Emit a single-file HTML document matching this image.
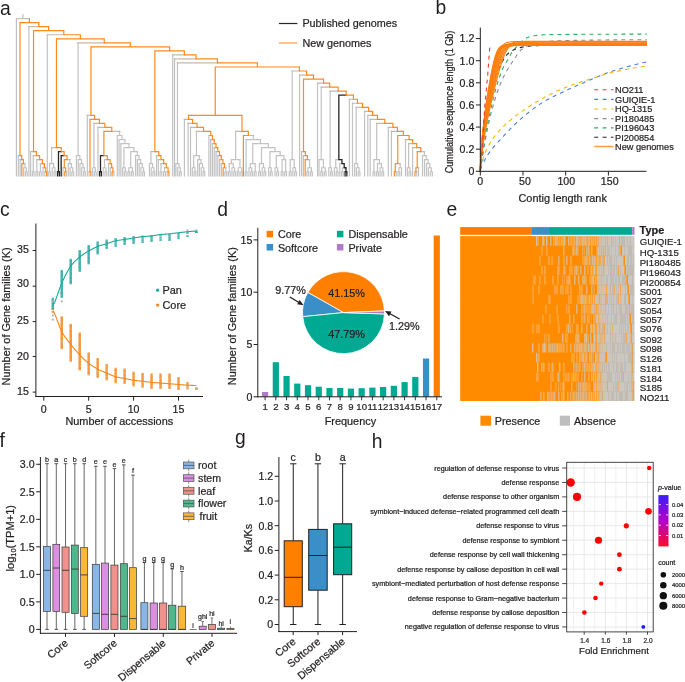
<!DOCTYPE html>
<html><head><meta charset="utf-8"><style>
html,body{margin:0;padding:0;background:#fff;}
svg{display:block;font-family:"Liberation Sans", sans-serif;will-change:transform;}
text{stroke:#231f20;stroke-width:0.22px;}
</style></head><body>
<svg width="685" height="682" viewBox="0 0 685 682">
<rect width="685" height="682" fill="#fff"/>
<path d="M16.4,18.63L22.9,18.63M22.9,18.63L29.4,18.63M16.4,18.63L16.4,175.8M18.3,155.65L18.3,175.8M20.08,159.68L20.08,175.8M24.98,163.71L24.98,167.74M23.64,167.74L24.98,167.74M24.98,167.74L26.31,167.74M23.64,167.74L23.64,175.8M26.31,167.74L26.31,171.77M25.42,171.77L26.31,171.77M26.31,171.77L27.2,171.77M25.42,171.77L25.42,175.8M27.2,171.77L27.2,175.8M28.9,26.69L28.9,175.8M30.6,151.62L30.6,175.8M33.27,155.65L33.27,171.77M32.38,171.77L33.27,171.77M33.27,171.77L34.16,171.77M32.38,171.77L32.38,175.8M34.16,171.77L34.16,175.8M36.83,159.68L36.83,171.77M35.94,171.77L36.83,171.77M36.83,171.77L37.72,171.77M35.94,171.77L35.94,175.8M37.72,171.77L37.72,175.8M40.39,163.71L40.39,171.77M39.5,171.77L40.39,171.77M40.39,171.77L41.28,171.77M39.5,171.77L39.5,175.8M41.28,171.77L41.28,175.8M43.06,167.74L43.06,175.8M44.84,171.77L44.84,175.8M47.3,34.75L47.3,175.8M51.59,147.59L51.59,163.71M49.59,163.71L51.59,163.71M51.59,163.71L53.6,163.71M49.59,163.71L49.59,171.77M48.7,171.77L49.59,171.77M49.59,171.77L50.48,171.77M48.7,171.77L48.7,175.8M50.48,171.77L50.48,175.8M53.6,163.71L53.6,167.74M52.26,167.74L53.6,167.74M53.6,167.74L54.93,167.74M52.26,167.74L52.26,175.8M54.93,167.74L54.93,171.77M54.04,171.77L54.93,171.77M54.93,171.77L55.82,171.77M54.04,171.77L54.04,175.8M55.82,171.77L55.82,175.8M62.94,167.74L62.94,175.8M66.5,171.77L66.5,175.8M69.84,159.68L69.84,163.71M68.28,163.71L69.84,163.71M69.84,163.71L71.4,163.71M68.28,163.71L68.28,175.8M71.4,163.71L71.4,167.74M70.06,167.74L71.4,167.74M71.4,167.74L72.73,167.74M70.06,167.74L70.06,175.8M72.73,167.74L72.73,171.77M71.84,171.77L72.73,171.77M72.73,171.77L73.62,171.77M71.84,171.77L71.84,175.8M73.62,171.77L73.62,175.8M78.12,42.81L78.12,155.65M76.4,155.65L78.12,155.65M78.12,155.65L79.85,155.65M76.4,155.65L76.4,175.8M79.85,155.65L79.85,159.68M78.18,159.68L79.85,159.68M79.85,159.68L81.52,159.68M78.18,159.68L78.18,175.8M81.52,159.68L81.52,163.71M79.96,163.71L81.52,163.71M81.52,163.71L83.08,163.71M79.96,163.71L79.96,175.8M83.08,163.71L83.08,167.74M81.74,167.74L83.08,167.74M83.08,167.74L84.41,167.74M81.74,167.74L81.74,175.8M84.41,167.74L84.41,171.77M83.52,171.77L84.41,171.77M84.41,171.77L85.3,171.77M83.52,171.77L83.52,175.8M85.3,171.77L85.3,175.8M87.3,115.35L87.3,175.8M89.08,171.77L89.08,175.8M93.97,123.41L93.97,167.74M92.64,167.74L93.97,167.74M93.97,167.74L95.31,167.74M92.64,167.74L92.64,175.8M95.31,167.74L95.31,171.77M94.42,171.77L95.31,171.77M95.31,171.77L96.2,171.77M94.42,171.77L94.42,175.8M96.2,171.77L96.2,175.8M97.98,127.44L97.98,175.8M104.5,159.68L104.5,167.74M103.16,167.74L104.5,167.74M104.5,167.74L105.83,167.74M103.16,167.74L103.16,175.8M105.83,167.74L105.83,171.77M104.94,171.77L105.83,171.77M105.83,171.77L106.72,171.77M104.94,171.77L104.94,175.8M106.72,171.77L106.72,175.8M108.5,163.71L108.5,175.8M110.28,167.74L110.28,175.8M113.84,171.77L113.84,175.8M119.65,131.47L119.65,135.5M117.3,135.5L119.65,135.5M119.65,135.5L122,135.5M117.3,135.5L117.3,175.8M122,135.5L122,139.53M119.08,139.53L122,139.53M122,139.53L124.92,139.53M119.08,139.53L119.08,175.8M124.92,139.53L124.92,143.56M120.86,143.56L124.92,143.56M124.92,143.56L128.98,143.56M120.86,143.56L120.86,175.8M128.98,143.56L128.98,147.59M123.97,147.59L128.98,147.59M128.98,147.59L133.99,147.59M123.97,147.59L123.97,167.74M122.64,167.74L123.97,167.74M123.97,167.74L125.31,167.74M122.64,167.74L122.64,175.8M125.31,167.74L125.31,171.77M124.42,171.77L125.31,171.77M125.31,171.77L126.2,171.77M124.42,171.77L124.42,175.8M126.2,171.77L126.2,175.8M133.99,147.59L133.99,151.62M130.65,151.62L133.99,151.62M133.99,151.62L137.32,151.62M130.65,151.62L130.65,167.74M128.87,167.74L130.65,167.74M130.65,167.74L132.43,167.74M128.87,167.74L128.87,171.77M127.98,171.77L128.87,171.77M128.87,171.77L129.76,171.77M127.98,171.77L127.98,175.8M129.76,171.77L129.76,175.8M132.43,167.74L132.43,171.77M131.54,171.77L132.43,171.77M132.43,171.77L133.32,171.77M131.54,171.77L131.54,175.8M133.32,171.77L133.32,175.8M137.32,151.62L137.32,155.65M135.6,155.65L137.32,155.65M137.32,155.65L139.05,155.65M135.6,155.65L135.6,175.8M139.05,155.65L139.05,159.68M137.38,159.68L139.05,159.68M139.05,159.68L140.72,159.68M137.38,159.68L137.38,175.8M140.72,159.68L140.72,163.71M139.16,163.71L140.72,163.71M140.72,163.71L142.28,163.71M139.16,163.71L139.16,175.8M142.28,163.71L142.28,167.74M140.94,167.74L142.28,167.74M142.28,167.74L143.61,167.74M140.94,167.74L140.94,175.8M143.61,167.74L143.61,171.77M142.72,171.77L143.61,171.77M143.61,171.77L144.5,171.77M142.72,171.77L142.72,175.8M144.5,171.77L144.5,175.8M150.96,151.62L150.96,163.71M149.4,163.71L150.96,163.71M150.96,163.71L152.52,163.71M149.4,163.71L149.4,175.8M152.52,163.71L152.52,167.74M151.18,167.74L152.52,167.74M152.52,167.74L153.85,167.74M151.18,167.74L151.18,175.8M153.85,167.74L153.85,171.77M152.96,171.77L153.85,171.77M153.85,171.77L154.74,171.77M152.96,171.77L152.96,175.8M154.74,171.77L154.74,175.8M156.52,155.65L156.52,175.8M158.3,159.68L158.3,175.8M160.97,163.71L160.97,171.77M160.08,171.77L160.97,171.77M160.97,171.77L161.86,171.77M160.08,171.77L160.08,175.8M161.86,171.77L161.86,175.8M164.53,167.74L164.53,171.77M163.64,171.77L164.53,171.77M164.53,171.77L165.42,171.77M163.64,171.77L163.64,175.8M165.42,171.77L165.42,175.8M167.2,171.77L167.2,175.8M172.7,54.9L172.7,175.8M174.5,58.93L174.5,175.8M177.46,62.96L177.46,163.71M175.9,163.71L177.46,163.71M177.46,163.71L179.02,163.71M175.9,163.71L175.9,175.8M179.02,163.71L179.02,167.74M177.68,167.74L179.02,167.74M179.02,167.74L180.35,167.74M177.68,167.74L177.68,175.8M180.35,167.74L180.35,171.77M179.46,171.77L180.35,171.77M180.35,171.77L181.24,171.77M179.46,171.77L179.46,175.8M181.24,171.77L181.24,175.8M184.4,119.38L184.4,175.8M188.1,123.41L188.1,175.8M190.5,127.44L190.5,175.8M196.47,131.47L196.47,155.65M193.64,155.65L196.47,155.65M196.47,155.65L199.31,155.65M193.64,155.65L193.64,167.74M192.3,167.74L193.64,167.74M193.64,167.74L194.97,167.74M192.3,167.74L192.3,175.8M194.97,167.74L194.97,171.77M194.08,171.77L194.97,171.77M194.97,171.77L195.86,171.77M194.08,171.77L194.08,175.8M195.86,171.77L195.86,175.8M199.31,155.65L199.31,159.68M197.64,159.68L199.31,159.68M199.31,159.68L200.98,159.68M197.64,159.68L197.64,175.8M200.98,159.68L200.98,163.71M199.42,163.71L200.98,163.71M200.98,163.71L202.54,163.71M199.42,163.71L199.42,175.8M202.54,163.71L202.54,167.74M201.2,167.74L202.54,167.74M202.54,167.74L203.87,167.74M201.2,167.74L201.2,175.8M203.87,167.74L203.87,171.77M202.98,171.77L203.87,171.77M203.87,171.77L204.76,171.77M202.98,171.77L202.98,175.8M204.76,171.77L204.76,175.8M208.9,135.5L208.9,175.8M210.68,139.53L210.68,175.8M212.46,143.56L212.46,175.8M214.24,147.59L214.24,175.8M216.02,151.62L216.02,175.8M217.8,155.65L217.8,175.8M219.58,159.68L219.58,175.8M221.36,163.71L221.36,175.8M225.81,167.74L225.81,171.77M224.92,171.77L225.81,171.77M225.81,171.77L226.7,171.77M224.92,171.77L224.92,175.8M226.7,171.77L226.7,175.8M235.63,131.47L235.63,159.68M231.29,159.68L235.63,159.68M235.63,159.68L239.97,159.68M231.29,159.68L231.29,163.71M229.29,163.71L231.29,163.71M231.29,163.71L233.3,163.71M229.29,163.71L229.29,171.77M228.4,171.77L229.29,171.77M229.29,171.77L230.18,171.77M228.4,171.77L228.4,175.8M230.18,171.77L230.18,175.8M233.3,163.71L233.3,167.74M231.96,167.74L233.3,167.74M233.3,167.74L234.63,167.74M231.96,167.74L231.96,175.8M234.63,167.74L234.63,171.77M233.74,171.77L234.63,171.77M234.63,171.77L235.52,171.77M233.74,171.77L233.74,175.8M235.52,171.77L235.52,175.8M239.97,159.68L239.97,167.74M238.19,167.74L239.97,167.74M239.97,167.74L241.75,167.74M238.19,167.74L238.19,171.77M237.3,171.77L238.19,171.77M238.19,171.77L239.08,171.77M237.3,171.77L237.3,175.8M239.08,171.77L239.08,175.8M241.75,167.74L241.75,171.77M240.86,171.77L241.75,171.77M241.75,171.77L242.64,171.77M240.86,171.77L240.86,175.8M242.64,171.77L242.64,175.8M253.3,135.5L253.3,139.53M246.09,139.53L253.3,139.53M253.3,139.53L260.52,139.53M246.09,139.53L246.09,171.77M245.2,171.77L246.09,171.77M246.09,171.77L246.98,171.77M245.2,171.77L245.2,175.8M246.98,171.77L246.98,175.8M260.52,139.53L260.52,143.56M252.78,143.56L260.52,143.56M260.52,143.56L268.26,143.56M252.78,143.56L252.78,163.71M250.34,163.71L252.78,163.71M252.78,163.71L255.23,163.71M250.34,163.71L250.34,167.74M249,167.74L250.34,167.74M250.34,167.74L251.67,167.74M249,167.74L249,175.8M251.67,167.74L251.67,171.77M250.78,171.77L251.67,171.77M251.67,171.77L252.56,171.77M250.78,171.77L250.78,175.8M252.56,171.77L252.56,175.8M255.23,163.71L255.23,171.77M254.34,171.77L255.23,171.77M255.23,171.77L256.12,171.77M254.34,171.77L254.34,175.8M256.12,171.77L256.12,175.8M268.26,143.56L268.26,147.59M261.49,147.59L268.26,147.59M268.26,147.59L275.02,147.59M261.49,147.59L261.49,163.71M259.49,163.71L261.49,163.71M261.49,163.71L263.49,163.71M259.49,163.71L259.49,171.77M258.6,171.77L259.49,171.77M259.49,171.77L260.38,171.77M258.6,171.77L258.6,175.8M260.38,171.77L260.38,175.8M263.49,163.71L263.49,167.74M262.16,167.74L263.49,167.74M263.49,167.74L264.83,167.74M262.16,167.74L262.16,175.8M264.83,167.74L264.83,171.77M263.94,171.77L264.83,171.77M264.83,171.77L265.72,171.77M263.94,171.77L263.94,175.8M265.72,171.77L265.72,175.8M275.02,147.59L275.02,151.62M269.94,151.62L275.02,151.62M275.02,151.62L280.1,151.62M269.94,151.62L269.94,167.74M268.6,167.74L269.94,167.74M269.94,167.74L271.27,167.74M268.6,167.74L268.6,175.8M271.27,167.74L271.27,171.77M270.38,171.77L271.27,171.77M271.27,171.77L272.16,171.77M270.38,171.77L270.38,175.8M272.16,171.77L272.16,175.8M280.1,151.62L280.1,155.65M276.33,155.65L280.1,155.65M280.1,155.65L283.87,155.65M276.33,155.65L276.33,167.74M275,167.74L276.33,167.74M276.33,167.74L277.67,167.74M275,167.74L275,175.8M277.67,167.74L277.67,171.77M276.78,171.77L277.67,171.77M277.67,171.77L278.56,171.77M276.78,171.77L276.78,175.8M278.56,171.77L278.56,175.8M283.87,155.65L283.87,159.68M282.09,159.68L283.87,159.68M283.87,159.68L285.65,159.68M282.09,159.68L282.09,171.77M281.2,171.77L282.09,171.77M282.09,171.77L282.98,171.77M281.2,171.77L281.2,175.8M282.98,171.77L282.98,175.8M285.65,159.68L285.65,171.77M284.76,171.77L285.65,171.77M285.65,171.77L286.54,171.77M284.76,171.77L284.76,175.8M286.54,171.77L286.54,175.8M292.19,71.02L292.19,159.68M290.19,159.68L292.19,159.68M292.19,159.68L294.19,159.68M290.19,159.68L290.19,171.77M289.3,171.77L290.19,171.77M290.19,171.77L291.08,171.77M289.3,171.77L289.3,175.8M291.08,171.77L291.08,175.8M294.19,159.68L294.19,167.74M292.86,167.74L294.19,167.74M294.19,167.74L295.53,167.74M292.86,167.74L292.86,175.8M295.53,167.74L295.53,171.77M294.64,171.77L295.53,171.77M295.53,171.77L296.42,171.77M294.64,171.77L294.64,175.8M296.42,171.77L296.42,175.8M299.6,75.05L299.6,175.8M301.6,151.62L301.6,175.8M303.38,155.65L303.38,175.8M309.61,159.68L309.61,167.74M307.83,167.74L309.61,167.74M309.61,167.74L311.39,167.74M307.83,167.74L307.83,171.77M306.94,171.77L307.83,171.77M307.83,171.77L308.72,171.77M306.94,171.77L306.94,175.8M308.72,171.77L308.72,175.8M311.39,167.74L311.39,171.77M310.5,171.77L311.39,171.77M311.39,171.77L312.28,171.77M310.5,171.77L310.5,175.8M312.28,171.77L312.28,175.8M317.5,83.11L317.5,175.8M321.22,87.14L321.22,159.68M319,159.68L321.22,159.68M321.22,159.68L323.45,159.68M319,159.68L319,175.8M323.45,159.68L323.45,167.74M321.67,167.74L323.45,167.74M323.45,167.74L325.23,167.74M321.67,167.74L321.67,171.77M320.78,171.77L321.67,171.77M321.67,171.77L322.56,171.77M320.78,171.77L320.78,175.8M322.56,171.77L322.56,175.8M325.23,167.74L325.23,171.77M324.34,171.77L325.23,171.77M325.23,171.77L326.12,171.77M324.34,171.77L324.34,175.8M326.12,171.77L326.12,175.8M330.13,91.17L330.13,167.74M328.8,167.74L330.13,167.74M330.13,167.74L331.47,167.74M328.8,167.74L328.8,175.8M331.47,167.74L331.47,171.77M330.58,171.77L331.47,171.77M331.47,171.77L332.36,171.77M330.58,171.77L330.58,175.8M332.36,171.77L332.36,175.8M335.73,159.68L338.85,159.68M335.73,159.68L335.73,167.74M334.4,167.74L335.73,167.74M335.73,167.74L337.07,167.74M334.4,167.74L334.4,175.8M337.07,167.74L337.07,171.77M336.18,171.77L337.07,171.77M337.07,171.77L337.96,171.77M336.18,171.77L336.18,175.8M337.96,171.77L337.96,175.8M339.74,163.71L341.96,163.71M339.74,163.71L339.74,175.8M342.41,167.74L344.19,167.74M342.41,167.74L342.41,171.77M341.52,171.77L342.41,171.77M342.41,171.77L343.3,171.77M341.52,171.77L341.52,175.8M343.3,171.77L343.3,175.8M349.4,99.23L349.4,175.8M352.5,103.26L352.5,175.8M356.16,107.29L356.16,163.71M354.6,163.71L356.16,163.71M356.16,163.71L357.71,163.71M354.6,163.71L354.6,175.8M357.71,163.71L357.71,167.74M356.38,167.74L357.71,167.74M357.71,167.74L359.05,167.74M356.38,167.74L356.38,175.8M359.05,167.74L359.05,171.77M358.16,171.77L359.05,171.77M359.05,171.77L359.94,171.77M358.16,171.77L358.16,175.8M359.94,171.77L359.94,175.8M364.6,111.32L364.6,175.8M367.8,115.35L367.8,175.8M370.2,119.38L370.2,175.8M376.67,123.41L376.67,159.68M373.89,159.68L376.67,159.68M376.67,159.68L379.45,159.68M373.89,159.68L373.89,171.77M373,171.77L373.89,171.77M373.89,171.77L374.78,171.77M373,171.77L373,175.8M374.78,171.77L374.78,175.8M379.45,159.68L379.45,163.71M377.45,163.71L379.45,163.71M379.45,163.71L381.45,163.71M377.45,163.71L377.45,171.77M376.56,171.77L377.45,171.77M377.45,171.77L378.34,171.77M376.56,171.77L376.56,175.8M378.34,171.77L378.34,175.8M381.45,163.71L381.45,167.74M380.12,167.74L381.45,167.74M381.45,167.74L382.79,167.74M380.12,167.74L380.12,175.8M382.79,167.74L382.79,171.77M381.9,171.77L382.79,171.77M382.79,171.77L383.68,171.77M381.9,171.77L381.9,175.8M383.68,171.77L383.68,175.8M388.3,127.44L388.3,175.8M391.4,131.47L391.4,175.8M396.18,171.77L396.18,175.8M400.18,163.71L400.18,167.74M398.85,167.74L400.18,167.74M400.18,167.74L401.52,167.74M398.85,167.74L398.85,171.77M397.96,171.77L398.85,171.77M398.85,171.77L399.74,171.77M397.96,171.77L397.96,175.8M399.74,171.77L399.74,175.8M401.52,167.74L401.52,175.8M405.5,139.53L405.5,175.8M408.63,143.56L408.63,167.74M407.3,167.74L408.63,167.74M408.63,167.74L409.97,167.74M407.3,167.74L407.3,175.8M409.97,167.74L409.97,171.77M409.08,171.77L409.97,171.77M409.97,171.77L410.86,171.77M409.08,171.77L409.08,175.8M410.86,171.77L410.86,175.8M412.6,147.59L412.6,175.8M416.78,171.77L416.78,175.8M418.56,167.74L418.56,175.8M424.41,151.62L424.41,155.65M422.5,155.65L424.41,155.65M424.41,155.65L426.32,155.65M422.5,155.65L422.5,175.8M426.32,155.65L426.32,159.68M424.5,159.68L426.32,159.68M426.32,159.68L428.15,159.68M424.5,159.68L424.5,175.8M428.15,159.68L428.15,163.71M426.5,163.71L428.15,163.71M428.15,163.71L429.8,163.71M426.5,163.71L426.5,175.8M429.8,163.71L429.8,167.74M428.3,167.74L429.8,167.74M429.8,167.74L431.3,167.74M428.3,167.74L428.3,175.8M431.3,167.74L431.3,171.77M430.3,171.77L431.3,171.77M431.3,171.77L432.3,171.77M430.3,171.77L430.3,175.8M432.3,171.77L432.3,175.8M22.9,18.63L22.9,14.6" stroke="#c2c2c2" stroke-width="1.2" fill="none" stroke-linecap="square"/>
<path d="M18.3,155.65L20.02,155.65M20.08,159.68L21.75,159.68M23.42,163.71L24.98,163.71M28.9,26.69L38.78,26.69M30.6,151.62L33.52,151.62M33.27,155.65L36.44,155.65M36.83,159.68L39.61,159.68M40.39,163.71L42.39,163.71M43.06,167.74L44.4,167.74M44.84,171.77L45.73,171.77M47.3,34.75L63.81,34.75M51.59,147.59L56.45,147.59M67.06,159.68L69.84,159.68M62.94,167.74L64.28,167.74M65.61,171.77L66.5,171.77M78.12,42.81L104.21,42.81M87.3,115.35L91,115.35M89.08,171.77L89.97,171.77M93.97,123.41L99.42,123.41M97.98,127.44L104.87,127.44M111.77,131.47L119.65,131.47M104.5,159.68L107.28,159.68M108.5,163.71L110.06,163.71M110.28,167.74L111.62,167.74M112.95,171.77L113.84,171.77M150.96,151.62L154.85,151.62M156.52,155.65L158.75,155.65M158.3,159.68L160.97,159.68M160.97,163.71L163.64,163.71M164.53,167.74L166.31,167.74M167.2,171.77L168.09,171.77M172.7,54.9L184.32,54.9M174.5,58.93L195.94,58.93M177.46,62.96L217.38,62.96M184.4,119.38L188.48,119.38M188.1,123.41L192.57,123.41M190.5,127.44L197.04,127.44M196.47,131.47L203.58,131.47M208.9,135.5L210.68,135.5M210.68,139.53L212.46,139.53M212.46,143.56L214.23,143.56M214.24,147.59L216.01,147.59M216.02,151.62L217.77,151.62M217.8,155.65L219.52,155.65M219.58,159.68L221.25,159.68M221.36,163.71L222.92,163.71M224.48,167.74L225.81,167.74M235.63,131.47L241.99,131.47M248.35,135.5L253.3,135.5M292.19,71.02L299.38,71.02M299.6,75.05L306.57,75.05M301.6,151.62L303.49,151.62M303.38,155.65L305.38,155.65M307.38,159.68L309.61,159.68M317.5,83.11L323.59,83.11M321.22,87.14L329.68,87.14M330.13,91.17L338.14,91.17M349.4,99.23L353.42,99.23M352.5,103.26L357.44,103.26M356.16,107.29L362.39,107.29M364.6,111.32L368.62,111.32M367.8,115.35L372.64,115.35M370.2,119.38L377.48,119.38M376.67,123.41L384.76,123.41M388.3,127.44L392.85,127.44M391.4,131.47L397.41,131.47M397.74,163.71L400.18,163.71M395.29,171.77L396.18,171.77M405.5,139.53L409.09,139.53M408.63,143.56L412.67,143.56M412.6,147.59L416.71,147.59M420.82,151.62L424.41,151.62M417.22,167.74L418.56,167.74M415.89,171.77L416.78,171.77" stroke="#c8b8a8" stroke-width="1.2" fill="none" stroke-linecap="square"/>
<path d="M58.49,151.62L61.3,151.62M58.49,151.62L58.49,171.77M57.6,171.77L58.49,171.77M58.49,171.77L59.38,171.77M57.6,171.77L57.6,175.8M59.38,171.77L59.38,175.8M61.16,155.65L64.11,155.65M61.16,155.65L61.16,175.8M100.49,155.65L103.88,155.65M100.49,155.65L100.49,171.77M99.6,171.77L100.49,171.77M100.49,171.77L101.38,171.77M99.6,171.77L99.6,175.8M101.38,171.77L101.38,175.8M338.85,95.2L346.14,95.2M338.85,95.2L338.85,159.68M338.85,159.68L341.96,159.68M341.96,159.68L341.96,163.71M341.96,163.71L344.19,163.71M344.19,163.71L344.19,167.74M344.19,167.74L345.97,167.74M345.97,167.74L345.97,171.77M345.08,171.77L345.97,171.77M345.97,171.77L346.86,171.77M345.08,171.77L345.08,175.8M346.86,171.77L346.86,175.8" stroke="#262626" stroke-width="1.3" fill="none" stroke-linecap="square"/>
<path d="M29.4,18.63L29.4,22.66M20.02,22.66L29.4,22.66M29.4,22.66L38.78,22.66M20.02,22.66L20.02,155.65M20.02,155.65L21.75,155.65M21.75,155.65L21.75,159.68M21.75,159.68L23.42,159.68M23.42,159.68L23.42,163.71M21.86,163.71L23.42,163.71M21.86,163.71L21.86,175.8M38.78,22.66L38.78,26.69M38.78,26.69L48.67,26.69M48.67,26.69L48.67,30.72M33.52,30.72L48.67,30.72M48.67,30.72L63.81,30.72M33.52,30.72L33.52,151.62M33.52,151.62L36.44,151.62M36.44,151.62L36.44,155.65M36.44,155.65L39.61,155.65M39.61,155.65L39.61,159.68M39.61,159.68L42.39,159.68M42.39,159.68L42.39,163.71M42.39,163.71L44.4,163.71M44.4,163.71L44.4,167.74M44.4,167.74L45.73,167.74M45.73,167.74L45.73,171.77M45.73,171.77L46.62,171.77M46.62,171.77L46.62,175.8M63.81,30.72L63.81,34.75M63.81,34.75L80.33,34.75M80.33,34.75L80.33,38.78M56.45,38.78L80.33,38.78M80.33,38.78L104.21,38.78M56.45,38.78L56.45,147.59M56.45,147.59L61.3,147.59M61.3,147.59L61.3,151.62M61.3,151.62L64.11,151.62M64.11,151.62L64.11,155.65M64.11,155.65L67.06,155.65M67.06,155.65L67.06,159.68M64.28,159.68L67.06,159.68M64.28,159.68L64.28,167.74M64.28,167.74L65.61,167.74M65.61,167.74L65.61,171.77M64.72,171.77L65.61,171.77M64.72,171.77L64.72,175.8M104.21,38.78L104.21,42.81M104.21,42.81L130.29,42.81M130.29,42.81L130.29,46.84M91,46.84L130.29,46.84M130.29,46.84L169.59,46.84M91,46.84L91,115.35M91,115.35L94.7,115.35M94.7,115.35L94.7,119.38M89.97,119.38L94.7,119.38M94.7,119.38L99.42,119.38M89.97,119.38L89.97,171.77M89.97,171.77L90.86,171.77M90.86,171.77L90.86,175.8M99.42,119.38L99.42,123.41M99.42,123.41L104.87,123.41M104.87,123.41L104.87,127.44M104.87,127.44L111.77,127.44M111.77,127.44L111.77,131.47M103.88,131.47L111.77,131.47M103.88,131.47L103.88,155.65M103.88,155.65L107.28,155.65M107.28,155.65L107.28,159.68M107.28,159.68L110.06,159.68M110.06,159.68L110.06,163.71M110.06,163.71L111.62,163.71M111.62,163.71L111.62,167.74M111.62,167.74L112.95,167.74M112.95,167.74L112.95,171.77M112.06,171.77L112.95,171.77M112.06,171.77L112.06,175.8M169.59,46.84L169.59,50.87M154.85,50.87L169.59,50.87M169.59,50.87L184.32,50.87M154.85,50.87L154.85,151.62M154.85,151.62L158.75,151.62M158.75,151.62L158.75,155.65M158.75,155.65L160.97,155.65M160.97,155.65L160.97,159.68M160.97,159.68L163.64,159.68M163.64,159.68L163.64,163.71M163.64,163.71L166.31,163.71M166.31,163.71L166.31,167.74M166.31,167.74L168.09,167.74M168.09,167.74L168.09,171.77M168.09,171.77L168.98,171.77M168.98,171.77L168.98,175.8M184.32,50.87L184.32,54.9M184.32,54.9L195.94,54.9M195.94,54.9L195.94,58.93M195.94,58.93L217.38,58.93M217.38,58.93L217.38,62.96M217.38,62.96L257.31,62.96M257.31,62.96L257.31,66.99M215.24,66.99L257.31,66.99M257.31,66.99L299.38,66.99M215.24,66.99L215.24,115.35M188.48,115.35L215.24,115.35M215.24,115.35L241.99,115.35M188.48,115.35L188.48,119.38M188.48,119.38L192.57,119.38M192.57,119.38L192.57,123.41M192.57,123.41L197.04,123.41M197.04,123.41L197.04,127.44M197.04,127.44L203.58,127.44M203.58,127.44L203.58,131.47M203.58,131.47L210.68,131.47M210.68,131.47L210.68,135.5M210.68,135.5L212.46,135.5M212.46,135.5L212.46,139.53M212.46,139.53L214.23,139.53M214.23,139.53L214.23,143.56M214.23,143.56L216.01,143.56M216.01,143.56L216.01,147.59M216.01,147.59L217.77,147.59M217.77,147.59L217.77,151.62M217.77,151.62L219.52,151.62M219.52,151.62L219.52,155.65M219.52,155.65L221.25,155.65M221.25,155.65L221.25,159.68M221.25,159.68L222.92,159.68M222.92,159.68L222.92,163.71M222.92,163.71L224.48,163.71M224.48,163.71L224.48,167.74M223.14,167.74L224.48,167.74M223.14,167.74L223.14,175.8M241.99,115.35L241.99,131.47M241.99,131.47L248.35,131.47M248.35,131.47L248.35,135.5M243.4,135.5L248.35,135.5M243.4,135.5L243.4,175.8M299.38,66.99L299.38,71.02M299.38,71.02L306.57,71.02M306.57,71.02L306.57,75.05M306.57,75.05L313.54,75.05M313.54,75.05L313.54,79.08M303.49,79.08L313.54,79.08M313.54,79.08L323.59,79.08M303.49,79.08L303.49,151.62M303.49,151.62L305.38,151.62M305.38,151.62L305.38,155.65M305.38,155.65L307.38,155.65M307.38,155.65L307.38,159.68M305.16,159.68L307.38,159.68M305.16,159.68L305.16,175.8M323.59,79.08L323.59,83.11M323.59,83.11L329.68,83.11M329.68,83.11L329.68,87.14M329.68,87.14L338.14,87.14M338.14,87.14L338.14,91.17M338.14,91.17L346.14,91.17M346.14,91.17L346.14,95.2M346.14,95.2L353.42,95.2M353.42,95.2L353.42,99.23M353.42,99.23L357.44,99.23M357.44,99.23L357.44,103.26M357.44,103.26L362.39,103.26M362.39,103.26L362.39,107.29M362.39,107.29L368.62,107.29M368.62,107.29L368.62,111.32M368.62,111.32L372.64,111.32M372.64,111.32L372.64,115.35M372.64,115.35L377.48,115.35M377.48,115.35L377.48,119.38M377.48,119.38L384.76,119.38M384.76,119.38L384.76,123.41M384.76,123.41L392.85,123.41M392.85,123.41L392.85,127.44M392.85,127.44L397.41,127.44M397.41,127.44L397.41,131.47M397.41,131.47L403.41,131.47M403.41,131.47L403.41,135.5M397.74,135.5L403.41,135.5M403.41,135.5L409.09,135.5M397.74,135.5L397.74,163.71M395.29,163.71L397.74,163.71M395.29,163.71L395.29,171.77M394.4,171.77L395.29,171.77M394.4,171.77L394.4,175.8M409.09,135.5L409.09,139.53M409.09,139.53L412.67,139.53M412.67,139.53L412.67,143.56M412.67,143.56L416.71,143.56M416.71,143.56L416.71,147.59M416.71,147.59L420.82,147.59M420.82,147.59L420.82,151.62M417.22,151.62L420.82,151.62M417.22,151.62L417.22,167.74M415.89,167.74L417.22,167.74M415.89,167.74L415.89,171.77M415,171.77L415.89,171.77M415,171.77L415,175.8" stroke="#ff8a1e" stroke-width="1.2" fill="none" stroke-linecap="square"/>
<line x1="278.9" y1="23.5" x2="297.4" y2="23.5" stroke="#262626" stroke-width="1.2" />
<text x="302.4" y="27.3" font-size="10.8" text-anchor="start" fill="#231f20" >Published genomes</text>
<line x1="278.9" y1="43" x2="297.4" y2="43" stroke="#ff9a40" stroke-width="1.2" />
<text x="302.4" y="46.8" font-size="10.8" text-anchor="start" fill="#231f20" >New genomes</text>
<polyline points="480.3,169.09 480.35,168.98 480.45,168.76 480.59,168.46 480.76,168.09 480.96,167.67 481.18,167.19 481.43,166.66 481.69,166.09 481.98,165.47 482.29,164.82 482.62,164.14 482.97,163.42 483.33,162.68 483.71,161.92 484.11,161.13 484.53,160.34 484.96,159.53 485.4,158.71 485.86,157.9 486.34,157.09 486.83,156.29 487.33,155.51 487.85,154.73 488.38,153.95 488.93,153.16 489.49,152.38 490.06,151.6 490.64,150.81 491.24,150.03 491.85,149.25 492.47,148.47 493.11,147.7 493.75,146.92 494.41,146.15 495.08,145.37 495.76,144.6 496.46,143.82 497.16,143.03 497.88,142.25 498.6,141.45 499.34,140.65 500.09,139.84 500.85,139.02 501.62,138.18 502.4,137.32 503.19,136.46 503.99,135.59 504.8,134.71 505.63,133.83 506.46,132.94 507.3,132.05 508.15,131.15 509.01,130.26 509.89,129.36 510.77,128.45 511.66,127.55 512.56,126.65 513.47,125.75 514.39,124.85 515.32,123.95 516.26,123.06 517.2,122.17 518.16,121.29 519.13,120.41 520.1,119.54 521.09,118.68 522.08,117.83 523.08,116.98 524.09,116.13 525.11,115.28 526.14,114.43 527.18,113.59 528.23,112.74 529.28,111.9 530.34,111.07 531.42,110.24 532.5,109.41 533.59,108.59 534.68,107.79 535.79,106.99 536.9,106.19 538.02,105.42 539.15,104.65 540.29,103.89 541.44,103.15 542.6,102.43 543.76,101.72 544.93,101.03 546.11,100.35 547.3,99.69 548.49,99.04 549.69,98.41 550.9,97.78 552.12,97.16 553.35,96.56 554.58,95.95 555.83,95.36 557.07,94.77 558.33,94.18 559.6,93.59 560.87,93 562.15,92.41 563.44,91.81 564.73,91.21 566.04,90.6 567.35,89.98 568.66,89.37 569.99,88.75 571.32,88.14 572.66,87.52 574.01,86.91 575.36,86.3 576.72,85.69 578.09,85.08 579.47,84.47 580.85,83.86 582.24,83.26 583.64,82.65 585.04,82.05 586.46,81.44 587.88,80.84 589.3,80.24 590.73,79.63 592.17,79.01 593.62,78.4 595.08,77.79 596.54,77.17 598,76.56 599.48,75.95 600.96,75.35 602.45,74.76 603.94,74.17 605.45,73.6 606.96,73.04 608.47,72.49 609.99,71.96 611.52,71.45 613.06,70.94 614.6,70.44 616.15,69.95 617.71,69.47 619.27,69 620.84,68.53 622.41,68.07 624,67.62 625.59,67.17 627.18,66.73 628.78,66.29 630.39,65.86 632.01,65.42 633.63,65 635.26,64.57 636.89,64.16 638.53,63.75 640.18,63.35 641.83,62.95 643.49,62.57 645.16,62.18 646.83,61.81" fill="none" stroke="#4a7fd6" stroke-width="1.1" stroke-dasharray="4,4"/>
<polyline points="480.3,167.98 480.35,167.81 480.45,167.46 480.59,166.99 480.76,166.41 480.96,165.74 481.18,164.99 481.43,164.16 481.69,163.26 481.98,162.3 482.29,161.29 482.62,160.23 482.97,159.12 483.33,157.99 483.71,156.83 484.11,155.66 484.53,154.48 484.96,153.3 485.4,152.15 485.86,151.03 486.34,149.95 486.83,148.93 487.33,147.93 487.85,146.94 488.38,145.94 488.93,144.96 489.49,143.98 490.06,143.01 490.64,142.05 491.24,141.1 491.85,140.16 492.47,139.24 493.11,138.32 493.75,137.42 494.41,136.54 495.08,135.66 495.76,134.8 496.46,133.94 497.16,133.1 497.88,132.26 498.6,131.43 499.34,130.61 500.09,129.79 500.85,128.98 501.62,128.17 502.4,127.37 503.19,126.58 503.99,125.8 504.8,125.03 505.63,124.26 506.46,123.5 507.3,122.75 508.15,122.01 509.01,121.27 509.89,120.54 510.77,119.82 511.66,119.1 512.56,118.38 513.47,117.67 514.39,116.97 515.32,116.26 516.26,115.56 517.2,114.86 518.16,114.16 519.13,113.46 520.1,112.75 521.09,112.04 522.08,111.33 523.08,110.61 524.09,109.9 525.11,109.19 526.14,108.48 527.18,107.78 528.23,107.08 529.28,106.38 530.34,105.68 531.42,104.99 532.5,104.31 533.59,103.62 534.68,102.95 535.79,102.28 536.9,101.61 538.02,100.95 539.15,100.29 540.29,99.64 541.44,99 542.6,98.36 543.76,97.73 544.93,97.1 546.11,96.48 547.3,95.87 548.49,95.25 549.69,94.64 550.9,94.04 552.12,93.44 553.35,92.85 554.58,92.27 555.83,91.69 557.07,91.11 558.33,90.54 559.6,89.98 560.87,89.43 562.15,88.88 563.44,88.34 564.73,87.81 566.04,87.29 567.35,86.77 568.66,86.27 569.99,85.77 571.32,85.28 572.66,84.8 574.01,84.32 575.36,83.85 576.72,83.38 578.09,82.92 579.47,82.46 580.85,82.01 582.24,81.55 583.64,81.1 585.04,80.64 586.46,80.19 587.88,79.73 589.3,79.27 590.73,78.81 592.17,78.35 593.62,77.88 595.08,77.42 596.54,76.95 598,76.5 599.48,76.04 600.96,75.59 602.45,75.15 603.94,74.71 605.45,74.28 606.96,73.87 608.47,73.46 609.99,73.07 611.52,72.69 613.06,72.31 614.6,71.94 616.15,71.57 617.71,71.21 619.27,70.86 620.84,70.51 622.41,70.17 624,69.84 625.59,69.51 627.18,69.2 628.78,68.89 630.39,68.6 632.01,68.31 633.63,68.03 635.26,67.76 636.89,67.5 638.53,67.25 640.18,67 641.83,66.77 643.49,66.54 645.16,66.33 646.83,66.12" fill="none" stroke="#f5b800" stroke-width="1.1" stroke-dasharray="4,4"/>
<polyline points="480.3,171.3 480.35,170.95 480.45,170.25 480.59,169.3 480.76,168.14 480.96,166.8 481.18,165.3 481.43,163.66 481.69,161.89 481.98,160 482.29,158.01 482.62,155.93 482.97,153.75 483.33,151.51 483.71,149.2 484.11,146.84 484.53,144.43 484.96,141.99 485.4,139.52 485.86,137.03 486.34,134.55 486.83,132.07 487.33,129.6 487.85,127.15 488.38,124.71 488.93,122.3 489.49,119.9 490.06,117.51 490.64,115.15 491.24,112.81 491.85,110.48 492.47,108.17 493.11,105.86 493.75,103.57 494.41,101.28 495.08,99.03 495.76,96.81 496.46,94.64 497.16,92.54 497.88,90.51 498.6,88.56 499.34,86.64 500.09,84.74 500.85,82.88 501.62,81.06 502.4,79.28 503.19,77.55 503.99,75.87 504.8,74.24 505.63,72.68 506.46,71.21 507.3,69.82 508.15,68.47 509.01,67.15 509.89,65.8 510.77,64.41 511.66,63.02 512.56,61.64 513.47,60.26 514.39,58.89 515.32,57.47 516.26,55.98 517.2,54.49 518.16,53.09 519.13,51.83 520.1,50.81 521.09,49.98 522.08,49.18 523.08,48.42 524.09,47.71 525.11,47.03 526.14,46.41 527.18,45.84 528.23,45.32 529.28,44.86 530.34,44.47 531.42,44.14 532.5,43.86 533.59,43.6 534.68,43.34 535.79,43.1 536.9,42.87 538.02,42.65 539.15,42.44 540.29,42.25 541.44,42.08 542.6,41.92 543.76,41.77 544.93,41.64 546.11,41.53 547.3,41.43 548.49,41.35 549.69,41.28 550.9,41.22 552.12,41.15 553.35,41.09 554.58,41.03 555.83,40.97 557.07,40.92 558.33,40.87 559.6,40.82 560.87,40.77 562.15,40.72 563.44,40.68 564.73,40.63 566.04,40.59 567.35,40.56 568.66,40.52 569.99,40.49 571.32,40.45 572.66,40.42 574.01,40.39 575.36,40.37 576.72,40.34 578.09,40.31 579.47,40.29 580.85,40.27 582.24,40.25 583.64,40.23 585.04,40.21 586.46,40.19 587.88,40.17 589.3,40.15 590.73,40.13 592.17,40.11 593.62,40.09 595.08,40.07 596.54,40.05 598,40.03 599.48,40.01 600.96,40 602.45,39.98 603.94,39.96 605.45,39.94 606.96,39.93 608.47,39.91 609.99,39.89 611.52,39.88 613.06,39.86 614.6,39.85 616.15,39.83 617.71,39.82 619.27,39.81 620.84,39.79 622.41,39.78 624,39.77 625.59,39.76 627.18,39.75 628.78,39.74 630.39,39.73 632.01,39.72 633.63,39.72 635.26,39.71 636.89,39.7 638.53,39.7 640.18,39.69 641.83,39.69 643.49,39.69 645.16,39.69 646.83,39.69" fill="none" stroke="#8c8c8c" stroke-width="1.1" stroke-dasharray="4,4"/>
<polyline points="480.3,171.3 480.35,170.9 480.45,170.1 480.59,169.01 480.76,167.69 480.96,166.16 481.18,164.45 481.43,162.59 481.69,160.57 481.98,158.44 482.29,156.18 482.62,153.83 482.97,151.39 483.33,148.87 483.71,146.3 484.11,143.68 484.53,141.02 484.96,138.33 485.4,135.64 485.86,132.96 486.34,130.3 486.83,127.67 487.33,125.08 487.85,122.52 488.38,120 488.93,117.5 489.49,115.01 490.06,112.52 490.64,110.01 491.24,107.46 491.85,104.84 492.47,102.16 493.11,99.43 493.75,96.72 494.41,94.06 495.08,91.5 495.76,89.1 496.46,86.73 497.16,84.36 497.88,82.02 498.6,79.72 499.34,77.47 500.09,75.28 500.85,73.18 501.62,71.19 502.4,69.32 503.19,67.59 503.99,66.06 504.8,64.68 505.63,63.38 506.46,62.06 507.3,60.63 508.15,59.06 509.01,57.39 509.89,55.73 510.77,54.16 511.66,52.78 512.56,51.53 513.47,50.36 514.39,49.24 515.32,48.17 516.26,47.12 517.2,46.07 518.16,44.99 519.13,43.9 520.1,42.83 521.09,41.82 522.08,40.9 523.08,40.09 524.09,39.43 525.11,38.81 526.14,38.22 527.18,37.68 528.23,37.18 529.28,36.76 530.34,36.41 531.42,36.17 532.5,35.99 533.59,35.83 534.68,35.67 535.79,35.52 536.9,35.38 538.02,35.25 539.15,35.13 540.29,35.03 541.44,34.93 542.6,34.84 543.76,34.77 544.93,34.71 546.11,34.66 547.3,34.62 548.49,34.6 549.69,34.59 550.9,34.57 552.12,34.56 553.35,34.55 554.58,34.54 555.83,34.52 557.07,34.51 558.33,34.5 559.6,34.49 560.87,34.48 562.15,34.47 563.44,34.45 564.73,34.44 566.04,34.43 567.35,34.42 568.66,34.41 569.99,34.4 571.32,34.39 572.66,34.38 574.01,34.37 575.36,34.36 576.72,34.35 578.09,34.35 579.47,34.34 580.85,34.33 582.24,34.32 583.64,34.31 585.04,34.3 586.46,34.3 587.88,34.29 589.3,34.28 590.73,34.27 592.17,34.27 593.62,34.26 595.08,34.25 596.54,34.25 598,34.24 599.48,34.24 600.96,34.23 602.45,34.23 603.94,34.22 605.45,34.22 606.96,34.21 608.47,34.21 609.99,34.2 611.52,34.2 613.06,34.19 614.6,34.19 616.15,34.19 617.71,34.18 619.27,34.18 620.84,34.18 622.41,34.17 624,34.17 625.59,34.17 627.18,34.17 628.78,34.17 630.39,34.16 632.01,34.16 633.63,34.16 635.26,34.16 636.89,34.16 638.53,34.16 640.18,34.16 641.83,34.16 643.49,34.16 645.16,34.16 646.83,34.16" fill="none" stroke="#2ab35a" stroke-width="1.1" stroke-dasharray="4,4"/>
<polyline points="480.3,171.3 480.35,170.68 480.45,169.42 480.59,167.72 480.76,165.65 480.96,163.28 481.18,160.65 481.43,157.79 481.69,154.74 481.98,151.52 482.29,148.17 482.62,144.71 482.97,141.18 483.33,137.6 483.71,134.01 484.11,130.44 484.53,126.88 484.96,123.32 485.4,119.78 485.86,116.28 486.34,112.85 486.83,109.52 487.33,106.3 487.85,103.22 488.38,100.19 488.93,97.25 489.49,94.47 490.06,91.92 490.64,89.66 491.24,87.59 491.85,85.61 492.47,83.71 493.11,81.9 493.75,80.16 494.41,78.48 495.08,76.87 495.76,75.29 496.46,73.75 497.16,72.23 497.88,70.7 498.6,69.14 499.34,67.58 500.09,66.02 500.85,64.47 501.62,62.94 502.4,61.46 503.19,60.03 503.99,58.67 504.8,57.4 505.63,56.23 506.46,55.19 507.3,54.29 508.15,53.53 509.01,52.81 509.89,52.14 510.77,51.51 511.66,50.94 512.56,50.41 513.47,49.94 514.39,49.51 515.32,49.15 516.26,48.82 517.2,48.51 518.16,48.2 519.13,47.92 520.1,47.64 521.09,47.39 522.08,47.16 523.08,46.94 524.09,46.75 525.11,46.58 526.14,46.44 527.18,46.33 528.23,46.24 529.28,46.15 530.34,46.06 531.42,45.98 532.5,45.91 533.59,45.83 534.68,45.77 535.79,45.7 536.9,45.64 538.02,45.58 539.15,45.53 540.29,45.48 541.44,45.43 542.6,45.39 543.76,45.35 544.93,45.31 546.11,45.28 547.3,45.25 548.49,45.22 549.69,45.19 550.9,45.17 552.12,45.14 553.35,45.12 554.58,45.09 555.83,45.07 557.07,45.04 558.33,45.02 559.6,44.99 560.87,44.97 562.15,44.94 563.44,44.92 564.73,44.89 566.04,44.87 567.35,44.85 568.66,44.82 569.99,44.8 571.32,44.78 572.66,44.76 574.01,44.73 575.36,44.71 576.72,44.69 578.09,44.67 579.47,44.65 580.85,44.62 582.24,44.6 583.64,44.58 585.04,44.56 586.46,44.54 587.88,44.52 589.3,44.5 590.73,44.49 592.17,44.47 593.62,44.45 595.08,44.43 596.54,44.41 598,44.4 599.48,44.38 600.96,44.36 602.45,44.35 603.94,44.33 605.45,44.32 606.96,44.3 608.47,44.29 609.99,44.27 611.52,44.26 613.06,44.25 614.6,44.24 616.15,44.22 617.71,44.21 619.27,44.2 620.84,44.19 622.41,44.18 624,44.17 625.59,44.17 627.18,44.16 628.78,44.15 630.39,44.14 632.01,44.14 633.63,44.13 635.26,44.13 636.89,44.12 638.53,44.12 640.18,44.12 641.83,44.11 643.49,44.11 645.16,44.11 646.83,44.11" fill="none" stroke="#222222" stroke-width="1.1" stroke-dasharray="4,4"/>
<polyline points="480.3,171.29 480.36,167.01 480.47,163.3 480.61,159.78 480.77,156.37 480.96,153.05 481.17,149.8 481.4,146.6 481.64,143.45 481.9,140.33 482.18,137.25 482.46,134.2 482.77,131.18 483.08,128.18 483.41,125.21 483.75,122.26 484.1,119.32 484.46,116.41 484.83,113.51 485.21,110.63 485.61,107.76 486.01,104.91 486.42,102.07 486.84,99.25 487.27,96.44 487.72,93.65 488.16,90.87 488.62,88.1 489.09,85.35 489.56,82.63 490.05,79.92 490.54,77.25 491.04,74.61 491.55,72.01 492.06,69.47 492.58,67 493.11,64.6 493.65,62.31 494.2,60.13 494.75,58.08 495.31,56.19 495.87,54.45 496.45,52.89 497.03,51.51 497.61,50.29 498.21,49.24 498.81,48.35 499.41,47.59 500.03,46.96 500.65,46.44 501.27,46 501.91,45.65 502.54,45.36 503.19,45.12 503.84,44.92 504.5,44.76 505.16,44.63 505.83,44.52 506.5,44.43 507.18,44.36 507.87,44.3 508.56,44.25 509.26,44.21 509.96,44.17 510.67,44.14 511.39,44.12 512.11,44.1 512.83,44.08 513.56,44.07 514.3,44.06 515.04,44.05 515.79,44.04 516.54,44.03 517.3,44.03 518.06,44.02 518.83,44.02 519.6,44.01 520.38,44.01 521.17,44.01 521.95,44.01 522.75,44 523.55,44 524.35,44 525.16,44 525.97,44 526.79,44 527.61,44 528.44,44 529.27,44 530.11,43.99 530.95,43.99 531.8,43.99 532.65,43.99 533.5,43.99 534.36,43.99 535.23,43.99 536.1,43.99 536.97,43.99 537.85,43.99 538.73,43.99 539.62,43.99 540.51,43.99 541.41,43.99 542.31,43.99 543.22,43.99 544.13,43.99 545.04,43.99 545.96,43.99 546.88,43.99 547.81,43.99 548.74,43.99 549.67,43.99 550.61,43.99 551.56,43.99 552.51,43.99 553.46,43.99 554.41,43.99 555.37,43.99 556.34,43.99 557.31,43.99 558.28,43.99 559.26,43.99 560.24,43.99 561.22,43.99 562.21,43.99 563.2,43.99 564.2,43.99 565.2,43.99 566.21,43.99 567.22,43.99 568.23,43.99 569.24,43.99 570.27,43.99 571.29,43.99 572.32,43.99 573.35,43.99 574.39,43.99 575.42,43.99 576.47,43.99 577.52,43.99 578.57,43.99 579.62,43.99 580.68,43.99 581.74,43.99 582.81,43.99 583.88,43.99 584.95,43.99 586.03,43.99 587.11,43.99 588.19,43.99 589.28,43.99 590.37,43.99 591.47,43.99 592.57,43.99 593.67,43.99 594.77,43.99 595.88,43.99 597,43.99 598.11,43.99 599.23,43.99 600.36,43.99 601.49,43.99 602.62,43.99 603.75,43.99 604.89,43.99 606.03,43.99 607.17,43.99 608.32,43.99 609.47,43.99 610.63,43.99 611.79,43.99 612.95,43.99 614.12,43.99 615.28,43.99 616.46,43.99 617.63,43.99 618.81,43.99 619.99,43.99 621.18,43.99 622.37,43.99 623.56,43.99 624.75,43.99 625.95,43.99 627.16,43.99 628.36,43.99 629.57,43.99 630.78,43.99 632,43.99 633.21,43.99 634.44,43.99 635.66,43.99 636.89,43.99 638.12,43.99 639.36,43.99 640.59,43.99 641.83,43.99 643.08,43.99 644.33,43.99 645.58,43.99 646.83,43.99" fill="none" stroke="#ff7f0e" stroke-width="1.05" />
<polyline points="480.3,171.3 480.36,167.24 480.47,163.67 480.61,160.26 480.77,156.95 480.96,153.71 481.17,150.54 481.4,147.41 481.64,144.32 481.9,141.26 482.18,138.23 482.46,135.23 482.77,132.26 483.08,129.31 483.41,126.37 483.75,123.46 484.1,120.56 484.46,117.68 484.83,114.82 485.21,111.97 485.61,109.13 486.01,106.3 486.42,103.49 486.84,100.69 487.27,97.9 487.72,95.13 488.16,92.36 488.62,89.61 489.09,86.88 489.56,84.16 490.05,81.47 490.54,78.8 491.04,76.16 491.55,73.56 492.06,71 492.58,68.51 493.11,66.09 493.65,63.76 494.2,61.53 494.75,59.43 495.31,57.48 495.87,55.67 496.45,54.04 497.03,52.58 497.61,51.3 498.21,50.18 498.81,49.22 499.41,48.41 500.03,47.73 500.65,47.16 501.27,46.69 501.91,46.31 502.54,45.99 503.19,45.73 503.84,45.51 504.5,45.34 505.16,45.2 505.83,45.08 506.5,44.99 507.18,44.91 507.87,44.84 508.56,44.79 509.26,44.75 509.96,44.71 510.67,44.68 511.39,44.65 512.11,44.63 512.83,44.62 513.56,44.6 514.3,44.59 515.04,44.58 515.79,44.57 516.54,44.56 517.3,44.55 518.06,44.55 518.83,44.55 519.6,44.54 520.38,44.54 521.17,44.53 521.95,44.53 522.75,44.53 523.55,44.53 524.35,44.53 525.16,44.53 525.97,44.52 526.79,44.52 527.61,44.52 528.44,44.52 529.27,44.52 530.11,44.52 530.95,44.52 531.8,44.52 532.65,44.52 533.5,44.52 534.36,44.52 535.23,44.52 536.1,44.52 536.97,44.52 537.85,44.52 538.73,44.52 539.62,44.52 540.51,44.52 541.41,44.52 542.31,44.52 543.22,44.52 544.13,44.52 545.04,44.52 545.96,44.52 546.88,44.52 547.81,44.52 548.74,44.52 549.67,44.52 550.61,44.52 551.56,44.52 552.51,44.52 553.46,44.52 554.41,44.52 555.37,44.52 556.34,44.52 557.31,44.52 558.28,44.52 559.26,44.52 560.24,44.52 561.22,44.52 562.21,44.52 563.2,44.52 564.2,44.52 565.2,44.52 566.21,44.52 567.22,44.52 568.23,44.52 569.24,44.52 570.27,44.52 571.29,44.52 572.32,44.52 573.35,44.52 574.39,44.52 575.42,44.52 576.47,44.52 577.52,44.52 578.57,44.52 579.62,44.52 580.68,44.52 581.74,44.52 582.81,44.52 583.88,44.52 584.95,44.52 586.03,44.52 587.11,44.52 588.19,44.52 589.28,44.52 590.37,44.52 591.47,44.52 592.57,44.52 593.67,44.52 594.77,44.52 595.88,44.52 597,44.52 598.11,44.52 599.23,44.52 600.36,44.52 601.49,44.52 602.62,44.52 603.75,44.52 604.89,44.52 606.03,44.52 607.17,44.52 608.32,44.52 609.47,44.52 610.63,44.52 611.79,44.52 612.95,44.52 614.12,44.52 615.28,44.52 616.46,44.52 617.63,44.52 618.81,44.52 619.99,44.52 621.18,44.52 622.37,44.52 623.56,44.52 624.75,44.52 625.95,44.52 627.16,44.52 628.36,44.52 629.57,44.52 630.78,44.52 632,44.52 633.21,44.52 634.44,44.52 635.66,44.52 636.89,44.52 638.12,44.52 639.36,44.52 640.59,44.52 641.83,44.52 643.08,44.52 644.33,44.52 645.58,44.52 646.83,44.52" fill="none" stroke="#ff7f0e" stroke-width="1.05" />
<polyline points="480.3,171.3 480.36,167.46 480.47,164.03 480.61,160.73 480.77,157.52 480.96,154.37 481.17,151.28 481.4,148.22 481.64,145.19 481.9,142.2 482.18,139.23 482.46,136.28 482.77,133.36 483.08,130.45 483.41,127.57 483.75,124.69 484.1,121.84 484.46,118.99 484.83,116.16 485.21,113.35 485.61,110.54 486.01,107.75 486.42,104.96 486.84,102.19 487.27,99.42 487.72,96.67 488.16,93.93 488.62,91.2 489.09,88.48 489.56,85.78 490.05,83.1 490.54,80.43 491.04,77.8 491.55,75.19 492.06,72.63 492.58,70.11 493.11,67.66 493.65,65.29 494.2,63.02 494.75,60.85 495.31,58.82 495.87,56.94 496.45,55.21 497.03,53.65 497.61,52.27 498.21,51.05 498.81,50.01 499.41,49.11 500.03,48.36 500.65,47.72 501.27,47.2 501.91,46.76 502.54,46.41 503.19,46.11 503.84,45.87 504.5,45.68 505.16,45.52 505.83,45.38 506.5,45.28 507.18,45.19 507.87,45.12 508.56,45.06 509.26,45.01 509.96,44.97 510.67,44.93 511.39,44.9 512.11,44.88 512.83,44.86 513.56,44.84 514.3,44.83 515.04,44.82 515.79,44.81 516.54,44.8 517.3,44.79 518.06,44.79 518.83,44.78 519.6,44.78 520.38,44.78 521.17,44.77 521.95,44.77 522.75,44.77 523.55,44.77 524.35,44.76 525.16,44.76 525.97,44.76 526.79,44.76 527.61,44.76 528.44,44.76 529.27,44.76 530.11,44.76 530.95,44.76 531.8,44.76 532.65,44.76 533.5,44.76 534.36,44.75 535.23,44.75 536.1,44.75 536.97,44.75 537.85,44.75 538.73,44.75 539.62,44.75 540.51,44.75 541.41,44.75 542.31,44.75 543.22,44.75 544.13,44.75 545.04,44.75 545.96,44.75 546.88,44.75 547.81,44.75 548.74,44.75 549.67,44.75 550.61,44.75 551.56,44.75 552.51,44.75 553.46,44.75 554.41,44.75 555.37,44.75 556.34,44.75 557.31,44.75 558.28,44.75 559.26,44.75 560.24,44.75 561.22,44.75 562.21,44.75 563.2,44.75 564.2,44.75 565.2,44.75 566.21,44.75 567.22,44.75 568.23,44.75 569.24,44.75 570.27,44.75 571.29,44.75 572.32,44.75 573.35,44.75 574.39,44.75 575.42,44.75 576.47,44.75 577.52,44.75 578.57,44.75 579.62,44.75 580.68,44.75 581.74,44.75 582.81,44.75 583.88,44.75 584.95,44.75 586.03,44.75 587.11,44.75 588.19,44.75 589.28,44.75 590.37,44.75 591.47,44.75 592.57,44.75 593.67,44.75 594.77,44.75 595.88,44.75 597,44.75 598.11,44.75 599.23,44.75 600.36,44.75 601.49,44.75 602.62,44.75 603.75,44.75 604.89,44.75 606.03,44.75 607.17,44.75 608.32,44.75 609.47,44.75 610.63,44.75 611.79,44.75 612.95,44.75 614.12,44.75 615.28,44.75 616.46,44.75 617.63,44.75 618.81,44.75 619.99,44.75 621.18,44.75 622.37,44.75 623.56,44.75 624.75,44.75 625.95,44.75 627.16,44.75 628.36,44.75 629.57,44.75 630.78,44.75 632,44.75 633.21,44.75 634.44,44.75 635.66,44.75 636.89,44.75 638.12,44.75 639.36,44.75 640.59,44.75 641.83,44.75 643.08,44.75 644.33,44.75 645.58,44.75 646.83,44.75" fill="none" stroke="#ff7f0e" stroke-width="1.05" />
<polyline points="480.3,171.3 480.36,167.67 480.47,164.38 480.61,161.2 480.77,158.09 480.96,155.03 481.17,152.01 481.4,149.03 481.64,146.08 481.9,143.15 482.18,140.24 482.46,137.35 482.77,134.48 483.08,131.63 483.41,128.79 483.75,125.96 484.1,123.15 484.46,120.34 484.83,117.55 485.21,114.77 485.61,112 486.01,109.24 486.42,106.49 486.84,103.75 487.27,101.01 487.72,98.29 488.16,95.57 488.62,92.87 489.09,90.17 489.56,87.49 490.05,84.82 490.54,82.17 491.04,79.54 491.55,76.94 492.06,74.38 492.58,71.86 493.11,69.39 493.65,67 494.2,64.69 494.75,62.48 495.31,60.39 495.87,58.44 496.45,56.65 497.03,55.01 497.61,53.55 498.21,52.26 498.81,51.13 499.41,50.17 500.03,49.35 500.65,48.66 501.27,48.08 501.91,47.61 502.54,47.21 503.19,46.89 503.84,46.63 504.5,46.41 505.16,46.24 505.83,46.09 506.5,45.97 507.18,45.88 507.87,45.8 508.56,45.73 509.26,45.68 509.96,45.63 510.67,45.6 511.39,45.57 512.11,45.54 512.83,45.52 513.56,45.5 514.3,45.49 515.04,45.47 515.79,45.46 516.54,45.46 517.3,45.45 518.06,45.44 518.83,45.44 519.6,45.43 520.38,45.43 521.17,45.43 521.95,45.42 522.75,45.42 523.55,45.42 524.35,45.42 525.16,45.41 525.97,45.41 526.79,45.41 527.61,45.41 528.44,45.41 529.27,45.41 530.11,45.41 530.95,45.41 531.8,45.41 532.65,45.41 533.5,45.41 534.36,45.41 535.23,45.41 536.1,45.41 536.97,45.41 537.85,45.41 538.73,45.41 539.62,45.41 540.51,45.4 541.41,45.4 542.31,45.4 543.22,45.4 544.13,45.4 545.04,45.4 545.96,45.4 546.88,45.4 547.81,45.4 548.74,45.4 549.67,45.4 550.61,45.4 551.56,45.4 552.51,45.4 553.46,45.4 554.41,45.4 555.37,45.4 556.34,45.4 557.31,45.4 558.28,45.4 559.26,45.4 560.24,45.4 561.22,45.4 562.21,45.4 563.2,45.4 564.2,45.4 565.2,45.4 566.21,45.4 567.22,45.4 568.23,45.4 569.24,45.4 570.27,45.4 571.29,45.4 572.32,45.4 573.35,45.4 574.39,45.4 575.42,45.4 576.47,45.4 577.52,45.4 578.57,45.4 579.62,45.4 580.68,45.4 581.74,45.4 582.81,45.4 583.88,45.4 584.95,45.4 586.03,45.4 587.11,45.4 588.19,45.4 589.28,45.4 590.37,45.4 591.47,45.4 592.57,45.4 593.67,45.4 594.77,45.4 595.88,45.4 597,45.4 598.11,45.4 599.23,45.4 600.36,45.4 601.49,45.4 602.62,45.4 603.75,45.4 604.89,45.4 606.03,45.4 607.17,45.4 608.32,45.4 609.47,45.4 610.63,45.4 611.79,45.4 612.95,45.4 614.12,45.4 615.28,45.4 616.46,45.4 617.63,45.4 618.81,45.4 619.99,45.4 621.18,45.4 622.37,45.4 623.56,45.4 624.75,45.4 625.95,45.4 627.16,45.4 628.36,45.4 629.57,45.4 630.78,45.4 632,45.4 633.21,45.4 634.44,45.4 635.66,45.4 636.89,45.4 638.12,45.4 639.36,45.4 640.59,45.4 641.83,45.4 643.08,45.4 644.33,45.4 645.58,45.4 646.83,45.4" fill="none" stroke="#ff7f0e" stroke-width="1.05" />
<polyline points="480.3,171.3 480.36,167.88 480.47,164.72 480.61,161.66 480.77,158.65 480.96,155.68 481.17,152.75 481.4,149.85 481.64,146.97 481.9,144.1 482.18,141.26 482.46,138.43 482.77,135.62 483.08,132.82 483.41,130.03 483.75,127.25 484.1,124.49 484.46,121.73 484.83,118.98 485.21,116.25 485.61,113.51 486.01,110.79 486.42,108.08 486.84,105.37 487.27,102.67 487.72,99.97 488.16,97.29 488.62,94.61 489.09,91.94 489.56,89.28 490.05,86.63 490.54,83.99 491.04,81.37 491.55,78.77 492.06,76.2 492.58,73.67 493.11,71.17 493.65,68.73 494.2,66.35 494.75,64.06 495.31,61.86 495.87,59.78 496.45,57.83 497.03,56.03 497.61,54.39 498.21,52.91 498.81,51.6 499.41,50.46 500.03,49.47 500.65,48.63 501.27,47.92 501.91,47.33 502.54,46.83 503.19,46.42 503.84,46.08 504.5,45.81 505.16,45.58 505.83,45.39 506.5,45.24 507.18,45.12 507.87,45.01 508.56,44.93 509.26,44.86 509.96,44.8 510.67,44.75 511.39,44.72 512.11,44.68 512.83,44.66 513.56,44.63 514.3,44.61 515.04,44.6 515.79,44.58 516.54,44.57 517.3,44.56 518.06,44.56 518.83,44.55 519.6,44.54 520.38,44.54 521.17,44.53 521.95,44.53 522.75,44.53 523.55,44.53 524.35,44.52 525.16,44.52 525.97,44.52 526.79,44.52 527.61,44.52 528.44,44.52 529.27,44.51 530.11,44.51 530.95,44.51 531.8,44.51 532.65,44.51 533.5,44.51 534.36,44.51 535.23,44.51 536.1,44.51 536.97,44.51 537.85,44.51 538.73,44.51 539.62,44.51 540.51,44.51 541.41,44.51 542.31,44.51 543.22,44.51 544.13,44.51 545.04,44.51 545.96,44.51 546.88,44.51 547.81,44.51 548.74,44.51 549.67,44.51 550.61,44.51 551.56,44.51 552.51,44.51 553.46,44.51 554.41,44.51 555.37,44.51 556.34,44.51 557.31,44.51 558.28,44.51 559.26,44.51 560.24,44.51 561.22,44.51 562.21,44.51 563.2,44.51 564.2,44.51 565.2,44.51 566.21,44.51 567.22,44.51 568.23,44.51 569.24,44.51 570.27,44.51 571.29,44.51 572.32,44.51 573.35,44.51 574.39,44.51 575.42,44.51 576.47,44.51 577.52,44.51 578.57,44.51 579.62,44.51 580.68,44.51 581.74,44.51 582.81,44.51 583.88,44.51 584.95,44.51 586.03,44.51 587.11,44.51 588.19,44.51 589.28,44.51 590.37,44.51 591.47,44.51 592.57,44.51 593.67,44.51 594.77,44.51 595.88,44.51 597,44.51 598.11,44.51 599.23,44.51 600.36,44.51 601.49,44.51 602.62,44.51 603.75,44.51 604.89,44.51 606.03,44.51 607.17,44.51 608.32,44.51 609.47,44.51 610.63,44.51 611.79,44.51 612.95,44.51 614.12,44.51 615.28,44.51 616.46,44.51 617.63,44.51 618.81,44.51 619.99,44.51 621.18,44.51 622.37,44.51 623.56,44.51 624.75,44.51 625.95,44.51 627.16,44.51 628.36,44.51 629.57,44.51 630.78,44.51 632,44.51 633.21,44.51 634.44,44.51 635.66,44.51 636.89,44.51 638.12,44.51 639.36,44.51 640.59,44.51 641.83,44.51 643.08,44.51 644.33,44.51 645.58,44.51 646.83,44.51" fill="none" stroke="#ff7f0e" stroke-width="1.05" />
<polyline points="480.3,171.3 480.36,168.08 480.47,165.06 480.61,162.11 480.77,159.21 480.96,156.34 481.17,153.49 481.4,150.67 481.64,147.86 481.9,145.07 482.18,142.29 482.46,139.53 482.77,136.78 483.08,134.04 483.41,131.3 483.75,128.58 484.1,125.87 484.46,123.16 484.83,120.46 485.21,117.77 485.61,115.08 486.01,112.4 486.42,109.72 486.84,107.05 487.27,104.39 487.72,101.73 488.16,99.08 488.62,96.43 489.09,93.8 489.56,91.16 490.05,88.54 490.54,85.93 491.04,83.33 491.55,80.75 492.06,78.2 492.58,75.67 493.11,73.17 493.65,70.72 494.2,68.33 494.75,66.01 495.31,63.78 495.87,61.65 496.45,59.64 497.03,57.77 497.61,56.05 498.21,54.49 498.81,53.1 499.41,51.87 500.03,50.8 500.65,49.88 501.27,49.1 501.91,48.44 502.54,47.9 503.19,47.44 503.84,47.07 504.5,46.76 505.16,46.51 505.83,46.3 506.5,46.13 507.18,45.99 507.87,45.87 508.56,45.78 509.26,45.7 509.96,45.64 510.67,45.59 511.39,45.54 512.11,45.51 512.83,45.48 513.56,45.45 514.3,45.43 515.04,45.41 515.79,45.4 516.54,45.39 517.3,45.38 518.06,45.37 518.83,45.36 519.6,45.35 520.38,45.35 521.17,45.34 521.95,45.34 522.75,45.34 523.55,45.33 524.35,45.33 525.16,45.33 525.97,45.33 526.79,45.33 527.61,45.32 528.44,45.32 529.27,45.32 530.11,45.32 530.95,45.32 531.8,45.32 532.65,45.32 533.5,45.32 534.36,45.32 535.23,45.32 536.1,45.32 536.97,45.32 537.85,45.32 538.73,45.32 539.62,45.32 540.51,45.32 541.41,45.32 542.31,45.32 543.22,45.32 544.13,45.32 545.04,45.32 545.96,45.32 546.88,45.32 547.81,45.32 548.74,45.32 549.67,45.32 550.61,45.32 551.56,45.32 552.51,45.32 553.46,45.32 554.41,45.32 555.37,45.32 556.34,45.32 557.31,45.31 558.28,45.31 559.26,45.31 560.24,45.31 561.22,45.31 562.21,45.31 563.2,45.31 564.2,45.31 565.2,45.31 566.21,45.31 567.22,45.31 568.23,45.31 569.24,45.31 570.27,45.31 571.29,45.31 572.32,45.31 573.35,45.31 574.39,45.31 575.42,45.31 576.47,45.31 577.52,45.31 578.57,45.31 579.62,45.31 580.68,45.31 581.74,45.31 582.81,45.31 583.88,45.31 584.95,45.31 586.03,45.31 587.11,45.31 588.19,45.31 589.28,45.31 590.37,45.31 591.47,45.31 592.57,45.31 593.67,45.31 594.77,45.31 595.88,45.31 597,45.31 598.11,45.31 599.23,45.31 600.36,45.31 601.49,45.31 602.62,45.31 603.75,45.31 604.89,45.31 606.03,45.31 607.17,45.31 608.32,45.31 609.47,45.31 610.63,45.31 611.79,45.31 612.95,45.31 614.12,45.31 615.28,45.31 616.46,45.31 617.63,45.31 618.81,45.31 619.99,45.31 621.18,45.31 622.37,45.31 623.56,45.31 624.75,45.31 625.95,45.31 627.16,45.31 628.36,45.31 629.57,45.31 630.78,45.31 632,45.31 633.21,45.31 634.44,45.31 635.66,45.31 636.89,45.31 638.12,45.31 639.36,45.31 640.59,45.31 641.83,45.31 643.08,45.31 644.33,45.31 645.58,45.31 646.83,45.31" fill="none" stroke="#ff7f0e" stroke-width="1.05" />
<polyline points="480.3,171.3 480.36,168.27 480.47,165.39 480.61,162.56 480.77,159.76 480.96,156.99 481.17,154.23 481.4,151.49 481.64,148.76 481.9,146.05 482.18,143.34 482.46,140.65 482.77,137.96 483.08,135.28 483.41,132.61 483.75,129.94 484.1,127.28 484.46,124.63 484.83,121.98 485.21,119.33 485.61,116.69 486.01,114.06 486.42,111.43 486.84,108.8 487.27,106.18 487.72,103.56 488.16,100.95 488.62,98.34 489.09,95.74 489.56,93.14 490.05,90.54 490.54,87.95 491.04,85.38 491.55,82.81 492.06,80.25 492.58,77.71 493.11,75.19 493.65,72.69 494.2,70.23 494.75,67.81 495.31,65.44 495.87,63.14 496.45,60.91 497.03,58.78 497.61,56.76 498.21,54.87 498.81,53.11 499.41,51.5 500.03,50.04 500.65,48.75 501.27,47.61 501.91,46.61 502.54,45.76 503.19,45.03 503.84,44.42 504.5,43.9 505.16,43.47 505.83,43.11 506.5,42.81 507.18,42.57 507.87,42.37 508.56,42.2 509.26,42.06 509.96,41.94 510.67,41.85 511.39,41.77 512.11,41.71 512.83,41.65 513.56,41.61 514.3,41.57 515.04,41.54 515.79,41.51 516.54,41.49 517.3,41.47 518.06,41.46 518.83,41.44 519.6,41.43 520.38,41.42 521.17,41.41 521.95,41.41 522.75,41.4 523.55,41.4 524.35,41.39 525.16,41.39 525.97,41.38 526.79,41.38 527.61,41.38 528.44,41.38 529.27,41.38 530.11,41.37 530.95,41.37 531.8,41.37 532.65,41.37 533.5,41.37 534.36,41.37 535.23,41.37 536.1,41.37 536.97,41.37 537.85,41.37 538.73,41.37 539.62,41.37 540.51,41.37 541.41,41.36 542.31,41.36 543.22,41.36 544.13,41.36 545.04,41.36 545.96,41.36 546.88,41.36 547.81,41.36 548.74,41.36 549.67,41.36 550.61,41.36 551.56,41.36 552.51,41.36 553.46,41.36 554.41,41.36 555.37,41.36 556.34,41.36 557.31,41.36 558.28,41.36 559.26,41.36 560.24,41.36 561.22,41.36 562.21,41.36 563.2,41.36 564.2,41.36 565.2,41.36 566.21,41.36 567.22,41.36 568.23,41.36 569.24,41.36 570.27,41.36 571.29,41.36 572.32,41.36 573.35,41.36 574.39,41.36 575.42,41.36 576.47,41.36 577.52,41.36 578.57,41.36 579.62,41.36 580.68,41.36 581.74,41.36 582.81,41.36 583.88,41.36 584.95,41.36 586.03,41.36 587.11,41.36 588.19,41.36 589.28,41.36 590.37,41.36 591.47,41.36 592.57,41.36 593.67,41.36 594.77,41.36 595.88,41.36 597,41.36 598.11,41.36 599.23,41.36 600.36,41.36 601.49,41.36 602.62,41.36 603.75,41.36 604.89,41.36 606.03,41.36 607.17,41.36 608.32,41.36 609.47,41.36 610.63,41.36 611.79,41.36 612.95,41.36 614.12,41.36 615.28,41.36 616.46,41.36 617.63,41.36 618.81,41.36 619.99,41.36 621.18,41.36 622.37,41.36 623.56,41.36 624.75,41.36 625.95,41.36 627.16,41.36 628.36,41.36 629.57,41.36 630.78,41.36 632,41.36 633.21,41.36 634.44,41.36 635.66,41.36 636.89,41.36 638.12,41.36 639.36,41.36 640.59,41.36 641.83,41.36 643.08,41.36 644.33,41.36 645.58,41.36 646.83,41.36" fill="none" stroke="#ff7f0e" stroke-width="1.05" />
<polyline points="480.3,171.3 480.36,168.46 480.47,165.72 480.61,163 480.77,160.31 480.96,157.63 481.17,154.97 481.4,152.31 481.64,149.67 481.9,147.03 482.18,144.4 482.46,141.78 482.77,139.16 483.08,136.54 483.41,133.94 483.75,131.33 484.1,128.73 484.46,126.13 484.83,123.54 485.21,120.95 485.61,118.36 486.01,115.78 486.42,113.2 486.84,110.62 487.27,108.05 487.72,105.47 488.16,102.9 488.62,100.34 489.09,97.78 489.56,95.22 490.05,92.66 490.54,90.11 491.04,87.57 491.55,85.03 492.06,82.51 492.58,79.99 493.11,77.5 493.65,75.03 494.2,72.59 494.75,70.18 495.31,67.82 495.87,65.52 496.45,63.3 497.03,61.16 497.61,59.12 498.21,57.21 498.81,55.42 499.41,53.78 500.03,52.29 500.65,50.96 501.27,49.78 501.91,48.75 502.54,47.86 503.19,47.11 503.84,46.47 504.5,45.93 505.16,45.48 505.83,45.11 506.5,44.8 507.18,44.54 507.87,44.33 508.56,44.15 509.26,44.01 509.96,43.89 510.67,43.79 511.39,43.71 512.11,43.64 512.83,43.59 513.56,43.54 514.3,43.5 515.04,43.47 515.79,43.44 516.54,43.42 517.3,43.4 518.06,43.39 518.83,43.37 519.6,43.36 520.38,43.35 521.17,43.34 521.95,43.34 522.75,43.33 523.55,43.33 524.35,43.32 525.16,43.32 525.97,43.32 526.79,43.31 527.61,43.31 528.44,43.31 529.27,43.31 530.11,43.31 530.95,43.3 531.8,43.3 532.65,43.3 533.5,43.3 534.36,43.3 535.23,43.3 536.1,43.3 536.97,43.3 537.85,43.3 538.73,43.3 539.62,43.3 540.51,43.3 541.41,43.3 542.31,43.3 543.22,43.3 544.13,43.3 545.04,43.3 545.96,43.3 546.88,43.3 547.81,43.3 548.74,43.3 549.67,43.3 550.61,43.3 551.56,43.29 552.51,43.29 553.46,43.29 554.41,43.29 555.37,43.29 556.34,43.29 557.31,43.29 558.28,43.29 559.26,43.29 560.24,43.29 561.22,43.29 562.21,43.29 563.2,43.29 564.2,43.29 565.2,43.29 566.21,43.29 567.22,43.29 568.23,43.29 569.24,43.29 570.27,43.29 571.29,43.29 572.32,43.29 573.35,43.29 574.39,43.29 575.42,43.29 576.47,43.29 577.52,43.29 578.57,43.29 579.62,43.29 580.68,43.29 581.74,43.29 582.81,43.29 583.88,43.29 584.95,43.29 586.03,43.29 587.11,43.29 588.19,43.29 589.28,43.29 590.37,43.29 591.47,43.29 592.57,43.29 593.67,43.29 594.77,43.29 595.88,43.29 597,43.29 598.11,43.29 599.23,43.29 600.36,43.29 601.49,43.29 602.62,43.29 603.75,43.29 604.89,43.29 606.03,43.29 607.17,43.29 608.32,43.29 609.47,43.29 610.63,43.29 611.79,43.29 612.95,43.29 614.12,43.29 615.28,43.29 616.46,43.29 617.63,43.29 618.81,43.29 619.99,43.29 621.18,43.29 622.37,43.29 623.56,43.29 624.75,43.29 625.95,43.29 627.16,43.29 628.36,43.29 629.57,43.29 630.78,43.29 632,43.29 633.21,43.29 634.44,43.29 635.66,43.29 636.89,43.29 638.12,43.29 639.36,43.29 640.59,43.29 641.83,43.29 643.08,43.29 644.33,43.29 645.58,43.29 646.83,43.29" fill="none" stroke="#ff7f0e" stroke-width="1.05" />
<polyline points="480.3,171.3 480.36,168.64 480.47,166.03 480.61,163.44 480.77,160.85 480.96,158.28 481.17,155.71 481.4,153.14 481.64,150.58 481.9,148.03 482.18,145.47 482.46,142.93 482.77,140.38 483.08,137.84 483.41,135.29 483.75,132.76 484.1,130.22 484.46,127.68 484.83,125.15 485.21,122.62 485.61,120.09 486.01,117.56 486.42,115.03 486.84,112.51 487.27,109.98 487.72,107.46 488.16,104.94 488.62,102.42 489.09,99.91 489.56,97.39 490.05,94.88 490.54,92.37 491.04,89.87 491.55,87.37 492.06,84.89 492.58,82.41 493.11,79.95 493.65,77.51 494.2,75.09 494.75,72.71 495.31,70.36 495.87,68.08 496.45,65.85 497.03,63.71 497.61,61.67 498.21,59.73 498.81,57.92 499.41,56.25 500.03,54.73 500.65,53.36 501.27,52.15 501.91,51.09 502.54,50.17 503.19,49.38 503.84,48.71 504.5,48.15 505.16,47.68 505.83,47.29 506.5,46.97 507.18,46.7 507.87,46.48 508.56,46.3 509.26,46.15 509.96,46.02 510.67,45.92 511.39,45.84 512.11,45.77 512.83,45.71 513.56,45.66 514.3,45.62 515.04,45.59 515.79,45.56 516.54,45.54 517.3,45.52 518.06,45.5 518.83,45.49 519.6,45.48 520.38,45.47 521.17,45.46 521.95,45.45 522.75,45.45 523.55,45.44 524.35,45.44 525.16,45.43 525.97,45.43 526.79,45.43 527.61,45.42 528.44,45.42 529.27,45.42 530.11,45.42 530.95,45.42 531.8,45.42 532.65,45.41 533.5,45.41 534.36,45.41 535.23,45.41 536.1,45.41 536.97,45.41 537.85,45.41 538.73,45.41 539.62,45.41 540.51,45.41 541.41,45.41 542.31,45.41 543.22,45.41 544.13,45.41 545.04,45.41 545.96,45.41 546.88,45.41 547.81,45.41 548.74,45.41 549.67,45.41 550.61,45.41 551.56,45.41 552.51,45.41 553.46,45.41 554.41,45.41 555.37,45.41 556.34,45.41 557.31,45.41 558.28,45.41 559.26,45.41 560.24,45.41 561.22,45.41 562.21,45.41 563.2,45.41 564.2,45.41 565.2,45.41 566.21,45.41 567.22,45.41 568.23,45.41 569.24,45.41 570.27,45.41 571.29,45.41 572.32,45.41 573.35,45.41 574.39,45.41 575.42,45.41 576.47,45.41 577.52,45.41 578.57,45.41 579.62,45.41 580.68,45.41 581.74,45.41 582.81,45.41 583.88,45.41 584.95,45.41 586.03,45.41 587.11,45.41 588.19,45.41 589.28,45.41 590.37,45.41 591.47,45.41 592.57,45.41 593.67,45.41 594.77,45.41 595.88,45.41 597,45.41 598.11,45.41 599.23,45.41 600.36,45.41 601.49,45.41 602.62,45.41 603.75,45.41 604.89,45.41 606.03,45.41 607.17,45.41 608.32,45.41 609.47,45.41 610.63,45.41 611.79,45.41 612.95,45.41 614.12,45.41 615.28,45.41 616.46,45.41 617.63,45.41 618.81,45.41 619.99,45.41 621.18,45.41 622.37,45.41 623.56,45.41 624.75,45.41 625.95,45.41 627.16,45.41 628.36,45.41 629.57,45.41 630.78,45.41 632,45.41 633.21,45.41 634.44,45.41 635.66,45.41 636.89,45.41 638.12,45.41 639.36,45.41 640.59,45.41 641.83,45.41 643.08,45.41 644.33,45.41 645.58,45.41 646.83,45.41" fill="none" stroke="#ff7f0e" stroke-width="1.05" />
<polyline points="480.3,171.3 480.36,168.82 480.47,166.34 480.61,163.87 480.77,161.39 480.96,158.92 481.17,156.45 481.4,153.97 481.64,151.5 481.9,149.03 482.18,146.56 482.46,144.09 482.77,141.62 483.08,139.15 483.41,136.68 483.75,134.21 484.1,131.74 484.46,129.27 484.83,126.81 485.21,124.34 485.61,121.87 486.01,119.4 486.42,116.93 486.84,114.47 487.27,112 487.72,109.53 488.16,107.06 488.62,104.6 489.09,102.13 489.56,99.67 490.05,97.2 490.54,94.74 491.04,92.28 491.55,89.83 492.06,87.38 492.58,84.93 493.11,82.49 493.65,80.07 494.2,77.66 494.75,75.28 495.31,72.92 495.87,70.59 496.45,68.31 497.03,66.09 497.61,63.93 498.21,61.86 498.81,59.88 499.41,58.01 500.03,56.27 500.65,54.66 501.27,53.2 501.91,51.88 502.54,50.71 503.19,49.69 503.84,48.8 504.5,48.04 505.16,47.39 505.83,46.84 506.5,46.38 507.18,46 507.87,45.68 508.56,45.42 509.26,45.2 509.96,45.02 510.67,44.86 511.39,44.74 512.11,44.64 512.83,44.55 513.56,44.48 514.3,44.42 515.04,44.37 515.79,44.33 516.54,44.3 517.3,44.27 518.06,44.24 518.83,44.22 519.6,44.21 520.38,44.19 521.17,44.18 521.95,44.17 522.75,44.16 523.55,44.15 524.35,44.15 525.16,44.14 525.97,44.14 526.79,44.13 527.61,44.13 528.44,44.13 529.27,44.12 530.11,44.12 530.95,44.12 531.8,44.12 532.65,44.12 533.5,44.11 534.36,44.11 535.23,44.11 536.1,44.11 536.97,44.11 537.85,44.11 538.73,44.11 539.62,44.11 540.51,44.11 541.41,44.11 542.31,44.11 543.22,44.11 544.13,44.11 545.04,44.11 545.96,44.11 546.88,44.11 547.81,44.11 548.74,44.11 549.67,44.11 550.61,44.11 551.56,44.11 552.51,44.11 553.46,44.11 554.41,44.11 555.37,44.11 556.34,44.11 557.31,44.11 558.28,44.11 559.26,44.11 560.24,44.11 561.22,44.11 562.21,44.11 563.2,44.11 564.2,44.11 565.2,44.11 566.21,44.11 567.22,44.11 568.23,44.11 569.24,44.11 570.27,44.11 571.29,44.11 572.32,44.11 573.35,44.11 574.39,44.11 575.42,44.11 576.47,44.11 577.52,44.11 578.57,44.11 579.62,44.11 580.68,44.11 581.74,44.11 582.81,44.11 583.88,44.11 584.95,44.11 586.03,44.11 587.11,44.11 588.19,44.11 589.28,44.11 590.37,44.11 591.47,44.11 592.57,44.11 593.67,44.11 594.77,44.11 595.88,44.11 597,44.11 598.11,44.11 599.23,44.11 600.36,44.11 601.49,44.11 602.62,44.11 603.75,44.11 604.89,44.11 606.03,44.11 607.17,44.11 608.32,44.11 609.47,44.11 610.63,44.11 611.79,44.11 612.95,44.11 614.12,44.11 615.28,44.11 616.46,44.11 617.63,44.11 618.81,44.11 619.99,44.11 621.18,44.11 622.37,44.11 623.56,44.11 624.75,44.11 625.95,44.11 627.16,44.11 628.36,44.11 629.57,44.11 630.78,44.11 632,44.11 633.21,44.11 634.44,44.11 635.66,44.11 636.89,44.11 638.12,44.11 639.36,44.11 640.59,44.11 641.83,44.11 643.08,44.11 644.33,44.11 645.58,44.11 646.83,44.11" fill="none" stroke="#ff7f0e" stroke-width="1.05" />
<polyline points="480.3,171.3 480.36,168.99 480.47,166.64 480.61,164.29 480.77,161.93 480.96,159.56 481.17,157.19 481.4,154.81 481.64,152.43 481.9,150.05 482.18,147.66 482.46,145.27 482.77,142.88 483.08,140.49 483.41,138.1 483.75,135.7 484.1,133.31 484.46,130.91 484.83,128.51 485.21,126.11 485.61,123.71 486.01,121.3 486.42,118.9 486.84,116.49 487.27,114.09 487.72,111.68 488.16,109.27 488.62,106.86 489.09,104.46 489.56,102.05 490.05,99.64 490.54,97.23 491.04,94.82 491.55,92.42 492.06,90.01 492.58,87.61 493.11,85.22 493.65,82.84 494.2,80.46 494.75,78.1 495.31,75.77 495.87,73.46 496.45,71.18 497.03,68.95 497.61,66.77 498.21,64.66 498.81,62.63 499.41,60.7 500.03,58.87 500.65,57.17 501.27,55.6 501.91,54.17 502.54,52.88 503.19,51.73 503.84,50.73 504.5,49.86 505.16,49.11 505.83,48.47 506.5,47.94 507.18,47.48 507.87,47.1 508.56,46.79 509.26,46.53 509.96,46.31 510.67,46.13 511.39,45.98 512.11,45.85 512.83,45.75 513.56,45.67 514.3,45.6 515.04,45.54 515.79,45.49 516.54,45.45 517.3,45.41 518.06,45.38 518.83,45.36 519.6,45.34 520.38,45.32 521.17,45.31 521.95,45.29 522.75,45.28 523.55,45.27 524.35,45.27 525.16,45.26 525.97,45.26 526.79,45.25 527.61,45.25 528.44,45.24 529.27,45.24 530.11,45.24 530.95,45.24 531.8,45.23 532.65,45.23 533.5,45.23 534.36,45.23 535.23,45.23 536.1,45.23 536.97,45.23 537.85,45.23 538.73,45.22 539.62,45.22 540.51,45.22 541.41,45.22 542.31,45.22 543.22,45.22 544.13,45.22 545.04,45.22 545.96,45.22 546.88,45.22 547.81,45.22 548.74,45.22 549.67,45.22 550.61,45.22 551.56,45.22 552.51,45.22 553.46,45.22 554.41,45.22 555.37,45.22 556.34,45.22 557.31,45.22 558.28,45.22 559.26,45.22 560.24,45.22 561.22,45.22 562.21,45.22 563.2,45.22 564.2,45.22 565.2,45.22 566.21,45.22 567.22,45.22 568.23,45.22 569.24,45.22 570.27,45.22 571.29,45.22 572.32,45.22 573.35,45.22 574.39,45.22 575.42,45.22 576.47,45.22 577.52,45.22 578.57,45.22 579.62,45.22 580.68,45.22 581.74,45.22 582.81,45.22 583.88,45.22 584.95,45.22 586.03,45.22 587.11,45.22 588.19,45.22 589.28,45.22 590.37,45.22 591.47,45.22 592.57,45.22 593.67,45.22 594.77,45.22 595.88,45.22 597,45.22 598.11,45.22 599.23,45.22 600.36,45.22 601.49,45.22 602.62,45.22 603.75,45.22 604.89,45.22 606.03,45.22 607.17,45.22 608.32,45.22 609.47,45.22 610.63,45.22 611.79,45.22 612.95,45.22 614.12,45.22 615.28,45.22 616.46,45.22 617.63,45.22 618.81,45.22 619.99,45.22 621.18,45.22 622.37,45.22 623.56,45.22 624.75,45.22 625.95,45.22 627.16,45.22 628.36,45.22 629.57,45.22 630.78,45.22 632,45.22 633.21,45.22 634.44,45.22 635.66,45.22 636.89,45.22 638.12,45.22 639.36,45.22 640.59,45.22 641.83,45.22 643.08,45.22 644.33,45.22 645.58,45.22 646.83,45.22" fill="none" stroke="#ff7f0e" stroke-width="1.05" />
<polyline points="480.3,171.3 480.36,169.15 480.47,166.94 480.61,164.71 480.77,162.46 480.96,160.2 481.17,157.93 481.4,155.65 481.64,153.36 481.9,151.07 482.18,148.77 482.46,146.47 482.77,144.17 483.08,141.86 483.41,139.55 483.75,137.23 484.1,134.91 484.46,132.59 484.83,130.26 485.21,127.93 485.61,125.6 486.01,123.27 486.42,120.93 486.84,118.6 487.27,116.26 487.72,113.92 488.16,111.57 488.62,109.23 489.09,106.88 489.56,104.53 490.05,102.18 490.54,99.83 491.04,97.48 491.55,95.13 492.06,92.78 492.58,90.43 493.11,88.08 493.65,85.73 494.2,83.39 494.75,81.06 495.31,78.73 495.87,76.42 496.45,74.12 497.03,71.85 497.61,69.6 498.21,67.39 498.81,65.22 499.41,63.11 500.03,61.07 500.65,59.1 501.27,57.23 501.91,55.46 502.54,53.81 503.19,52.28 503.84,50.88 504.5,49.62 505.16,48.49 505.83,47.49 506.5,46.62 507.18,45.87 507.87,45.22 508.56,44.67 509.26,44.2 509.96,43.8 510.67,43.47 511.39,43.19 512.11,42.96 512.83,42.76 513.56,42.6 514.3,42.46 515.04,42.35 515.79,42.25 516.54,42.17 517.3,42.11 518.06,42.05 518.83,42 519.6,41.96 520.38,41.93 521.17,41.9 521.95,41.88 522.75,41.86 523.55,41.84 524.35,41.83 525.16,41.81 525.97,41.8 526.79,41.79 527.61,41.79 528.44,41.78 529.27,41.77 530.11,41.77 530.95,41.76 531.8,41.76 532.65,41.76 533.5,41.75 534.36,41.75 535.23,41.75 536.1,41.75 536.97,41.75 537.85,41.75 538.73,41.74 539.62,41.74 540.51,41.74 541.41,41.74 542.31,41.74 543.22,41.74 544.13,41.74 545.04,41.74 545.96,41.74 546.88,41.74 547.81,41.74 548.74,41.74 549.67,41.74 550.61,41.74 551.56,41.74 552.51,41.74 553.46,41.74 554.41,41.74 555.37,41.74 556.34,41.74 557.31,41.74 558.28,41.74 559.26,41.74 560.24,41.74 561.22,41.74 562.21,41.74 563.2,41.74 564.2,41.74 565.2,41.74 566.21,41.74 567.22,41.74 568.23,41.74 569.24,41.74 570.27,41.74 571.29,41.74 572.32,41.74 573.35,41.74 574.39,41.74 575.42,41.74 576.47,41.74 577.52,41.74 578.57,41.74 579.62,41.74 580.68,41.74 581.74,41.74 582.81,41.74 583.88,41.74 584.95,41.74 586.03,41.74 587.11,41.74 588.19,41.74 589.28,41.74 590.37,41.74 591.47,41.74 592.57,41.74 593.67,41.74 594.77,41.74 595.88,41.74 597,41.74 598.11,41.74 599.23,41.74 600.36,41.74 601.49,41.74 602.62,41.74 603.75,41.74 604.89,41.74 606.03,41.74 607.17,41.74 608.32,41.74 609.47,41.74 610.63,41.74 611.79,41.74 612.95,41.74 614.12,41.74 615.28,41.74 616.46,41.74 617.63,41.74 618.81,41.74 619.99,41.74 621.18,41.74 622.37,41.74 623.56,41.74 624.75,41.74 625.95,41.74 627.16,41.74 628.36,41.74 629.57,41.74 630.78,41.74 632,41.74 633.21,41.74 634.44,41.74 635.66,41.74 636.89,41.74 638.12,41.74 639.36,41.74 640.59,41.74 641.83,41.74 643.08,41.74 644.33,41.74 645.58,41.74 646.83,41.74" fill="none" stroke="#ff7f0e" stroke-width="1.05" />
<polyline points="480.3,171.3 480.36,169.31 480.47,167.23 480.61,165.12 480.77,162.98 480.96,160.83 481.17,158.67 481.4,156.49 481.64,154.3 481.9,152.11 482.18,149.9 482.46,147.69 482.77,145.47 483.08,143.25 483.41,141.02 483.75,138.79 484.1,136.55 484.46,134.31 484.83,132.06 485.21,129.81 485.61,127.56 486.01,125.3 486.42,123.04 486.84,120.77 487.27,118.51 487.72,116.24 488.16,113.96 488.62,111.69 489.09,109.41 489.56,107.13 490.05,104.84 490.54,102.56 491.04,100.27 491.55,97.98 492.06,95.69 492.58,93.41 493.11,91.12 493.65,88.83 494.2,86.54 494.75,84.26 495.31,81.98 495.87,79.71 496.45,77.46 497.03,75.22 497.61,73 498.21,70.8 498.81,68.65 499.41,66.53 500.03,64.47 500.65,62.47 501.27,60.54 501.91,58.71 502.54,56.97 503.19,55.35 503.84,53.84 504.5,52.46 505.16,51.21 505.83,50.1 506.5,49.11 507.18,48.24 507.87,47.49 508.56,46.84 509.26,46.28 509.96,45.81 510.67,45.41 511.39,45.08 512.11,44.79 512.83,44.56 513.56,44.36 514.3,44.19 515.04,44.05 515.79,43.94 516.54,43.84 517.3,43.76 518.06,43.69 518.83,43.63 519.6,43.59 520.38,43.54 521.17,43.51 521.95,43.48 522.75,43.46 523.55,43.44 524.35,43.42 525.16,43.4 525.97,43.39 526.79,43.38 527.61,43.37 528.44,43.36 529.27,43.35 530.11,43.35 530.95,43.34 531.8,43.34 532.65,43.34 533.5,43.33 534.36,43.33 535.23,43.33 536.1,43.33 536.97,43.32 537.85,43.32 538.73,43.32 539.62,43.32 540.51,43.32 541.41,43.32 542.31,43.32 543.22,43.32 544.13,43.31 545.04,43.31 545.96,43.31 546.88,43.31 547.81,43.31 548.74,43.31 549.67,43.31 550.61,43.31 551.56,43.31 552.51,43.31 553.46,43.31 554.41,43.31 555.37,43.31 556.34,43.31 557.31,43.31 558.28,43.31 559.26,43.31 560.24,43.31 561.22,43.31 562.21,43.31 563.2,43.31 564.2,43.31 565.2,43.31 566.21,43.31 567.22,43.31 568.23,43.31 569.24,43.31 570.27,43.31 571.29,43.31 572.32,43.31 573.35,43.31 574.39,43.31 575.42,43.31 576.47,43.31 577.52,43.31 578.57,43.31 579.62,43.31 580.68,43.31 581.74,43.31 582.81,43.31 583.88,43.31 584.95,43.31 586.03,43.31 587.11,43.31 588.19,43.31 589.28,43.31 590.37,43.31 591.47,43.31 592.57,43.31 593.67,43.31 594.77,43.31 595.88,43.31 597,43.31 598.11,43.31 599.23,43.31 600.36,43.31 601.49,43.31 602.62,43.31 603.75,43.31 604.89,43.31 606.03,43.31 607.17,43.31 608.32,43.31 609.47,43.31 610.63,43.31 611.79,43.31 612.95,43.31 614.12,43.31 615.28,43.31 616.46,43.31 617.63,43.31 618.81,43.31 619.99,43.31 621.18,43.31 622.37,43.31 623.56,43.31 624.75,43.31 625.95,43.31 627.16,43.31 628.36,43.31 629.57,43.31 630.78,43.31 632,43.31 633.21,43.31 634.44,43.31 635.66,43.31 636.89,43.31 638.12,43.31 639.36,43.31 640.59,43.31 641.83,43.31 643.08,43.31 644.33,43.31 645.58,43.31 646.83,43.31" fill="none" stroke="#ff7f0e" stroke-width="1.05" />
<polyline points="480.3,171.3 480.36,169.46 480.47,167.52 480.61,165.53 480.77,163.51 480.96,161.47 481.17,159.41 481.4,157.33 481.64,155.25 481.9,153.15 482.18,151.04 482.46,148.93 482.77,146.8 483.08,144.67 483.41,142.53 483.75,140.39 484.1,138.23 484.46,136.08 484.83,133.91 485.21,131.75 485.61,129.57 486.01,127.4 486.42,125.22 486.84,123.03 487.27,120.84 487.72,118.65 488.16,116.45 488.62,114.25 489.09,112.04 489.56,109.84 490.05,107.62 490.54,105.41 491.04,103.19 491.55,100.98 492.06,98.75 492.58,96.53 493.11,94.31 493.65,92.08 494.2,89.86 494.75,87.63 495.31,85.41 495.87,83.19 496.45,80.97 497.03,78.77 497.61,76.57 498.21,74.39 498.81,72.23 499.41,70.09 500.03,67.99 500.65,65.92 501.27,63.9 501.91,61.94 502.54,60.05 503.19,58.24 503.84,56.52 504.5,54.91 505.16,53.4 505.83,52.01 506.5,50.75 507.18,49.61 507.87,48.59 508.56,47.69 509.26,46.9 509.96,46.21 510.67,45.62 511.39,45.12 512.11,44.69 512.83,44.32 513.56,44.01 514.3,43.75 515.04,43.53 515.79,43.34 516.54,43.18 517.3,43.05 518.06,42.94 518.83,42.85 519.6,42.77 520.38,42.71 521.17,42.65 521.95,42.6 522.75,42.56 523.55,42.53 524.35,42.5 525.16,42.48 525.97,42.45 526.79,42.44 527.61,42.42 528.44,42.41 529.27,42.4 530.11,42.39 530.95,42.38 531.8,42.37 532.65,42.37 533.5,42.36 534.36,42.36 535.23,42.35 536.1,42.35 536.97,42.35 537.85,42.34 538.73,42.34 539.62,42.34 540.51,42.34 541.41,42.34 542.31,42.34 543.22,42.33 544.13,42.33 545.04,42.33 545.96,42.33 546.88,42.33 547.81,42.33 548.74,42.33 549.67,42.33 550.61,42.33 551.56,42.33 552.51,42.33 553.46,42.33 554.41,42.33 555.37,42.33 556.34,42.33 557.31,42.33 558.28,42.33 559.26,42.33 560.24,42.33 561.22,42.33 562.21,42.33 563.2,42.33 564.2,42.33 565.2,42.33 566.21,42.33 567.22,42.33 568.23,42.33 569.24,42.33 570.27,42.33 571.29,42.33 572.32,42.33 573.35,42.33 574.39,42.33 575.42,42.33 576.47,42.33 577.52,42.33 578.57,42.33 579.62,42.33 580.68,42.33 581.74,42.33 582.81,42.33 583.88,42.33 584.95,42.33 586.03,42.33 587.11,42.33 588.19,42.33 589.28,42.33 590.37,42.33 591.47,42.33 592.57,42.33 593.67,42.33 594.77,42.33 595.88,42.33 597,42.33 598.11,42.33 599.23,42.33 600.36,42.33 601.49,42.33 602.62,42.33 603.75,42.33 604.89,42.33 606.03,42.33 607.17,42.33 608.32,42.33 609.47,42.33 610.63,42.33 611.79,42.33 612.95,42.33 614.12,42.33 615.28,42.33 616.46,42.33 617.63,42.33 618.81,42.33 619.99,42.33 621.18,42.33 622.37,42.33 623.56,42.33 624.75,42.33 625.95,42.33 627.16,42.33 628.36,42.33 629.57,42.33 630.78,42.33 632,42.33 633.21,42.33 634.44,42.33 635.66,42.33 636.89,42.33 638.12,42.33 639.36,42.33 640.59,42.33 641.83,42.33 643.08,42.33 644.33,42.33 645.58,42.33 646.83,42.33" fill="none" stroke="#ff7f0e" stroke-width="1.05" />
<polyline points="480.3,171.3 480.35,170.8 480.44,169.76 480.57,168.32 480.73,166.5 480.92,164.32 481.12,161.79 481.35,158.89 481.61,155.63 481.88,152 482.17,147.99 482.47,143.62 482.8,138.87 483.14,133.75 483.5,128.2 483.87,121.46 484.26,114.07 484.66,107.22 485.08,102.03 485.51,97.85 485.96,93.93 486.41,89.47 486.89,84.25 487.37,78.61 487.87,72.71 488.38,65.78 488.91,58.31 489.44,51.42 489.99,46.42 490.55,44.11" fill="none" stroke="#e8383d" stroke-width="1.1" stroke-dasharray="4,4"/>
<line x1="480.3" y1="27.6" x2="480.3" y2="171.8" stroke="#231f20" stroke-width="1" />
<line x1="479.8" y1="171.3" x2="646.5" y2="171.3" stroke="#231f20" stroke-width="1" />
<line x1="475.9" y1="171.3" x2="480.3" y2="171.3" stroke="#231f20" stroke-width="1" />
<text x="474.3" y="175.1" font-size="10.6" text-anchor="end" fill="#231f20" >0</text>
<line x1="475.9" y1="149.18" x2="480.3" y2="149.18" stroke="#231f20" stroke-width="1" />
<text x="474.3" y="152.98" font-size="10.6" text-anchor="end" fill="#231f20" >0.2</text>
<line x1="475.9" y1="127.06" x2="480.3" y2="127.06" stroke="#231f20" stroke-width="1" />
<text x="474.3" y="130.86" font-size="10.6" text-anchor="end" fill="#231f20" >0.4</text>
<line x1="475.9" y1="104.94" x2="480.3" y2="104.94" stroke="#231f20" stroke-width="1" />
<text x="474.3" y="108.74" font-size="10.6" text-anchor="end" fill="#231f20" >0.6</text>
<line x1="475.9" y1="82.82" x2="480.3" y2="82.82" stroke="#231f20" stroke-width="1" />
<text x="474.3" y="86.62" font-size="10.6" text-anchor="end" fill="#231f20" >0.8</text>
<line x1="475.9" y1="60.7" x2="480.3" y2="60.7" stroke="#231f20" stroke-width="1" />
<text x="474.3" y="64.5" font-size="10.6" text-anchor="end" fill="#231f20" >1.0</text>
<line x1="475.9" y1="38.58" x2="480.3" y2="38.58" stroke="#231f20" stroke-width="1" />
<text x="474.3" y="42.38" font-size="10.6" text-anchor="end" fill="#231f20" >1.2</text>
<line x1="480.3" y1="171.3" x2="480.3" y2="175.5" stroke="#231f20" stroke-width="1" />
<text x="480.2" y="185.4" font-size="10.6" text-anchor="middle" fill="#231f20" >0</text>
<line x1="523" y1="171.3" x2="523" y2="175.5" stroke="#231f20" stroke-width="1" />
<text x="524.9" y="185.4" font-size="10.6" text-anchor="middle" fill="#231f20" >50</text>
<line x1="565.7" y1="171.3" x2="565.7" y2="175.5" stroke="#231f20" stroke-width="1" />
<text x="566.3" y="185.4" font-size="10.6" text-anchor="middle" fill="#231f20" >100</text>
<line x1="608.4" y1="171.3" x2="608.4" y2="175.5" stroke="#231f20" stroke-width="1" />
<text x="609.7" y="185.4" font-size="10.6" text-anchor="middle" fill="#231f20" >150</text>
<text x="562.7" y="201.5" font-size="10.9" text-anchor="middle" fill="#231f20" >Contig length rank</text>
<text transform="translate(452.6,101.95) rotate(-90)" font-size="10.4" text-anchor="middle" textLength="142.6" lengthAdjust="spacingAndGlyphs" fill="#231f20">Cumulative sequence length (1 Gb)</text>
<line x1="594.2" y1="89.8" x2="613.5" y2="89.8" stroke="#e8383d" stroke-width="1.1" stroke-dasharray="4,4.4"/>
<text x="615" y="93.1" font-size="9.2" text-anchor="start" fill="#231f20" >NO211</text>
<line x1="594.2" y1="99.4" x2="613.5" y2="99.4" stroke="#4a7fd6" stroke-width="1.1" stroke-dasharray="4,4.4"/>
<text x="615" y="102.7" font-size="9.2" text-anchor="start" fill="#231f20" >GUIQIE-1</text>
<line x1="594.2" y1="109" x2="613.5" y2="109" stroke="#f5b800" stroke-width="1.1" stroke-dasharray="4,4.4"/>
<text x="615" y="112.3" font-size="9.2" text-anchor="start" fill="#231f20" >HQ-1315</text>
<line x1="594.2" y1="118.6" x2="613.5" y2="118.6" stroke="#8c8c8c" stroke-width="1.1" stroke-dasharray="4,4.4"/>
<text x="615" y="121.9" font-size="9.2" text-anchor="start" fill="#231f20" >PI180485</text>
<line x1="594.2" y1="127.9" x2="613.5" y2="127.9" stroke="#2ab35a" stroke-width="1.1" stroke-dasharray="4,4.4"/>
<text x="615" y="131.2" font-size="9.2" text-anchor="start" fill="#231f20" >PI196043</text>
<line x1="594.2" y1="137.2" x2="613.5" y2="137.2" stroke="#222222" stroke-width="1.1" stroke-dasharray="4,4.4"/>
<text x="615" y="140.5" font-size="9.2" text-anchor="start" fill="#231f20" >PI200854</text>
<line x1="594.2" y1="146.5" x2="613.5" y2="146.5" stroke="#ff9a40" stroke-width="1.5" />
<text x="615" y="149.8" font-size="9.2" text-anchor="start" fill="#231f20" >New genomes</text>
<rect x="51.58" y="308" width="2.4" height="2" fill="#f7861c" opacity="0.75"/>
<rect x="51.58" y="311" width="2.4" height="2" fill="#f7861c" opacity="0.75"/>
<rect x="51.58" y="297.7" width="2.4" height="2" fill="#1fa79c" opacity="0.75"/>
<rect x="51.58" y="299.11" width="2.4" height="2" fill="#1fa79c" opacity="0.75"/>
<rect x="51.58" y="300.53" width="2.4" height="2" fill="#1fa79c" opacity="0.75"/>
<rect x="51.58" y="301.94" width="2.4" height="2" fill="#1fa79c" opacity="0.75"/>
<rect x="51.58" y="303.36" width="2.4" height="2" fill="#1fa79c" opacity="0.75"/>
<rect x="51.58" y="304.77" width="2.4" height="2" fill="#1fa79c" opacity="0.75"/>
<rect x="51.58" y="306.19" width="2.4" height="2" fill="#1fa79c" opacity="0.75"/>
<rect x="51.58" y="307.6" width="2.4" height="2" fill="#1fa79c" opacity="0.75"/>
<rect x="60.56" y="316.3" width="2.4" height="2" fill="#f7861c" opacity="0.75"/>
<rect x="60.56" y="317.59" width="2.4" height="2" fill="#f7861c" opacity="0.75"/>
<rect x="60.56" y="318.88" width="2.4" height="2" fill="#f7861c" opacity="0.75"/>
<rect x="60.56" y="320.18" width="2.4" height="2" fill="#f7861c" opacity="0.75"/>
<rect x="60.56" y="321.47" width="2.4" height="2" fill="#f7861c" opacity="0.75"/>
<rect x="60.56" y="322.76" width="2.4" height="2" fill="#f7861c" opacity="0.75"/>
<rect x="60.56" y="324.05" width="2.4" height="2" fill="#f7861c" opacity="0.75"/>
<rect x="60.56" y="325.34" width="2.4" height="2" fill="#f7861c" opacity="0.75"/>
<rect x="60.56" y="326.63" width="2.4" height="2" fill="#f7861c" opacity="0.75"/>
<rect x="60.56" y="327.93" width="2.4" height="2" fill="#f7861c" opacity="0.75"/>
<rect x="60.56" y="329.22" width="2.4" height="2" fill="#f7861c" opacity="0.75"/>
<rect x="60.56" y="330.51" width="2.4" height="2" fill="#f7861c" opacity="0.75"/>
<rect x="60.56" y="331.8" width="2.4" height="2" fill="#f7861c" opacity="0.75"/>
<rect x="60.56" y="333.09" width="2.4" height="2" fill="#f7861c" opacity="0.75"/>
<rect x="60.56" y="334.38" width="2.4" height="2" fill="#f7861c" opacity="0.75"/>
<rect x="60.56" y="335.68" width="2.4" height="2" fill="#f7861c" opacity="0.75"/>
<rect x="60.56" y="336.97" width="2.4" height="2" fill="#f7861c" opacity="0.75"/>
<rect x="60.56" y="338.26" width="2.4" height="2" fill="#f7861c" opacity="0.75"/>
<rect x="60.56" y="339.55" width="2.4" height="2" fill="#f7861c" opacity="0.75"/>
<rect x="60.56" y="340.84" width="2.4" height="2" fill="#f7861c" opacity="0.75"/>
<rect x="60.56" y="342.13" width="2.4" height="2" fill="#f7861c" opacity="0.75"/>
<rect x="60.56" y="343.43" width="2.4" height="2" fill="#f7861c" opacity="0.75"/>
<rect x="60.56" y="344.72" width="2.4" height="2" fill="#f7861c" opacity="0.75"/>
<rect x="60.56" y="346.01" width="2.4" height="2" fill="#f7861c" opacity="0.75"/>
<rect x="60.56" y="347.3" width="2.4" height="2" fill="#f7861c" opacity="0.75"/>
<rect x="60.56" y="269.9" width="2.4" height="2" fill="#1fa79c" opacity="0.75"/>
<rect x="60.56" y="271.2" width="2.4" height="2" fill="#1fa79c" opacity="0.75"/>
<rect x="60.56" y="272.5" width="2.4" height="2" fill="#1fa79c" opacity="0.75"/>
<rect x="60.56" y="273.8" width="2.4" height="2" fill="#1fa79c" opacity="0.75"/>
<rect x="60.56" y="275.1" width="2.4" height="2" fill="#1fa79c" opacity="0.75"/>
<rect x="60.56" y="276.4" width="2.4" height="2" fill="#1fa79c" opacity="0.75"/>
<rect x="60.56" y="277.7" width="2.4" height="2" fill="#1fa79c" opacity="0.75"/>
<rect x="60.56" y="279" width="2.4" height="2" fill="#1fa79c" opacity="0.75"/>
<rect x="60.56" y="280.3" width="2.4" height="2" fill="#1fa79c" opacity="0.75"/>
<rect x="60.56" y="281.6" width="2.4" height="2" fill="#1fa79c" opacity="0.75"/>
<rect x="60.56" y="282.9" width="2.4" height="2" fill="#1fa79c" opacity="0.75"/>
<rect x="60.56" y="284.2" width="2.4" height="2" fill="#1fa79c" opacity="0.75"/>
<rect x="60.56" y="285.5" width="2.4" height="2" fill="#1fa79c" opacity="0.75"/>
<rect x="60.56" y="286.8" width="2.4" height="2" fill="#1fa79c" opacity="0.75"/>
<rect x="60.56" y="288.1" width="2.4" height="2" fill="#1fa79c" opacity="0.75"/>
<rect x="60.56" y="289.4" width="2.4" height="2" fill="#1fa79c" opacity="0.75"/>
<rect x="60.56" y="290.7" width="2.4" height="2" fill="#1fa79c" opacity="0.75"/>
<rect x="60.56" y="292" width="2.4" height="2" fill="#1fa79c" opacity="0.75"/>
<rect x="60.56" y="293.3" width="2.4" height="2" fill="#1fa79c" opacity="0.75"/>
<rect x="60.56" y="294.6" width="2.4" height="2" fill="#1fa79c" opacity="0.75"/>
<rect x="60.56" y="295.9" width="2.4" height="2" fill="#1fa79c" opacity="0.75"/>
<rect x="69.54" y="323.8" width="2.4" height="2" fill="#f7861c" opacity="0.75"/>
<rect x="69.54" y="325.04" width="2.4" height="2" fill="#f7861c" opacity="0.75"/>
<rect x="69.54" y="326.28" width="2.4" height="2" fill="#f7861c" opacity="0.75"/>
<rect x="69.54" y="327.52" width="2.4" height="2" fill="#f7861c" opacity="0.75"/>
<rect x="69.54" y="328.77" width="2.4" height="2" fill="#f7861c" opacity="0.75"/>
<rect x="69.54" y="330.01" width="2.4" height="2" fill="#f7861c" opacity="0.75"/>
<rect x="69.54" y="331.25" width="2.4" height="2" fill="#f7861c" opacity="0.75"/>
<rect x="69.54" y="332.49" width="2.4" height="2" fill="#f7861c" opacity="0.75"/>
<rect x="69.54" y="333.73" width="2.4" height="2" fill="#f7861c" opacity="0.75"/>
<rect x="69.54" y="334.97" width="2.4" height="2" fill="#f7861c" opacity="0.75"/>
<rect x="69.54" y="336.21" width="2.4" height="2" fill="#f7861c" opacity="0.75"/>
<rect x="69.54" y="337.46" width="2.4" height="2" fill="#f7861c" opacity="0.75"/>
<rect x="69.54" y="338.7" width="2.4" height="2" fill="#f7861c" opacity="0.75"/>
<rect x="69.54" y="339.94" width="2.4" height="2" fill="#f7861c" opacity="0.75"/>
<rect x="69.54" y="341.18" width="2.4" height="2" fill="#f7861c" opacity="0.75"/>
<rect x="69.54" y="342.42" width="2.4" height="2" fill="#f7861c" opacity="0.75"/>
<rect x="69.54" y="343.66" width="2.4" height="2" fill="#f7861c" opacity="0.75"/>
<rect x="69.54" y="344.9" width="2.4" height="2" fill="#f7861c" opacity="0.75"/>
<rect x="69.54" y="346.14" width="2.4" height="2" fill="#f7861c" opacity="0.75"/>
<rect x="69.54" y="347.39" width="2.4" height="2" fill="#f7861c" opacity="0.75"/>
<rect x="69.54" y="348.63" width="2.4" height="2" fill="#f7861c" opacity="0.75"/>
<rect x="69.54" y="349.87" width="2.4" height="2" fill="#f7861c" opacity="0.75"/>
<rect x="69.54" y="351.11" width="2.4" height="2" fill="#f7861c" opacity="0.75"/>
<rect x="69.54" y="352.35" width="2.4" height="2" fill="#f7861c" opacity="0.75"/>
<rect x="69.54" y="353.59" width="2.4" height="2" fill="#f7861c" opacity="0.75"/>
<rect x="69.54" y="354.83" width="2.4" height="2" fill="#f7861c" opacity="0.75"/>
<rect x="69.54" y="356.08" width="2.4" height="2" fill="#f7861c" opacity="0.75"/>
<rect x="69.54" y="357.32" width="2.4" height="2" fill="#f7861c" opacity="0.75"/>
<rect x="69.54" y="358.56" width="2.4" height="2" fill="#f7861c" opacity="0.75"/>
<rect x="69.54" y="359.8" width="2.4" height="2" fill="#f7861c" opacity="0.75"/>
<rect x="69.54" y="258.7" width="2.4" height="2" fill="#1fa79c" opacity="0.75"/>
<rect x="69.54" y="260.01" width="2.4" height="2" fill="#1fa79c" opacity="0.75"/>
<rect x="69.54" y="261.32" width="2.4" height="2" fill="#1fa79c" opacity="0.75"/>
<rect x="69.54" y="262.63" width="2.4" height="2" fill="#1fa79c" opacity="0.75"/>
<rect x="69.54" y="263.94" width="2.4" height="2" fill="#1fa79c" opacity="0.75"/>
<rect x="69.54" y="265.26" width="2.4" height="2" fill="#1fa79c" opacity="0.75"/>
<rect x="69.54" y="266.57" width="2.4" height="2" fill="#1fa79c" opacity="0.75"/>
<rect x="69.54" y="267.88" width="2.4" height="2" fill="#1fa79c" opacity="0.75"/>
<rect x="69.54" y="269.19" width="2.4" height="2" fill="#1fa79c" opacity="0.75"/>
<rect x="69.54" y="270.5" width="2.4" height="2" fill="#1fa79c" opacity="0.75"/>
<rect x="69.54" y="271.81" width="2.4" height="2" fill="#1fa79c" opacity="0.75"/>
<rect x="69.54" y="273.12" width="2.4" height="2" fill="#1fa79c" opacity="0.75"/>
<rect x="69.54" y="274.43" width="2.4" height="2" fill="#1fa79c" opacity="0.75"/>
<rect x="69.54" y="275.74" width="2.4" height="2" fill="#1fa79c" opacity="0.75"/>
<rect x="69.54" y="277.06" width="2.4" height="2" fill="#1fa79c" opacity="0.75"/>
<rect x="69.54" y="278.37" width="2.4" height="2" fill="#1fa79c" opacity="0.75"/>
<rect x="69.54" y="279.68" width="2.4" height="2" fill="#1fa79c" opacity="0.75"/>
<rect x="69.54" y="280.99" width="2.4" height="2" fill="#1fa79c" opacity="0.75"/>
<rect x="69.54" y="282.3" width="2.4" height="2" fill="#1fa79c" opacity="0.75"/>
<rect x="78.52" y="332.5" width="2.4" height="2" fill="#f7861c" opacity="0.75"/>
<rect x="78.52" y="333.78" width="2.4" height="2" fill="#f7861c" opacity="0.75"/>
<rect x="78.52" y="335.06" width="2.4" height="2" fill="#f7861c" opacity="0.75"/>
<rect x="78.52" y="336.35" width="2.4" height="2" fill="#f7861c" opacity="0.75"/>
<rect x="78.52" y="337.63" width="2.4" height="2" fill="#f7861c" opacity="0.75"/>
<rect x="78.52" y="338.91" width="2.4" height="2" fill="#f7861c" opacity="0.75"/>
<rect x="78.52" y="340.19" width="2.4" height="2" fill="#f7861c" opacity="0.75"/>
<rect x="78.52" y="341.48" width="2.4" height="2" fill="#f7861c" opacity="0.75"/>
<rect x="78.52" y="342.76" width="2.4" height="2" fill="#f7861c" opacity="0.75"/>
<rect x="78.52" y="344.04" width="2.4" height="2" fill="#f7861c" opacity="0.75"/>
<rect x="78.52" y="345.32" width="2.4" height="2" fill="#f7861c" opacity="0.75"/>
<rect x="78.52" y="346.6" width="2.4" height="2" fill="#f7861c" opacity="0.75"/>
<rect x="78.52" y="347.89" width="2.4" height="2" fill="#f7861c" opacity="0.75"/>
<rect x="78.52" y="349.17" width="2.4" height="2" fill="#f7861c" opacity="0.75"/>
<rect x="78.52" y="350.45" width="2.4" height="2" fill="#f7861c" opacity="0.75"/>
<rect x="78.52" y="351.73" width="2.4" height="2" fill="#f7861c" opacity="0.75"/>
<rect x="78.52" y="353.01" width="2.4" height="2" fill="#f7861c" opacity="0.75"/>
<rect x="78.52" y="354.3" width="2.4" height="2" fill="#f7861c" opacity="0.75"/>
<rect x="78.52" y="355.58" width="2.4" height="2" fill="#f7861c" opacity="0.75"/>
<rect x="78.52" y="356.86" width="2.4" height="2" fill="#f7861c" opacity="0.75"/>
<rect x="78.52" y="358.14" width="2.4" height="2" fill="#f7861c" opacity="0.75"/>
<rect x="78.52" y="359.42" width="2.4" height="2" fill="#f7861c" opacity="0.75"/>
<rect x="78.52" y="360.71" width="2.4" height="2" fill="#f7861c" opacity="0.75"/>
<rect x="78.52" y="361.99" width="2.4" height="2" fill="#f7861c" opacity="0.75"/>
<rect x="78.52" y="363.27" width="2.4" height="2" fill="#f7861c" opacity="0.75"/>
<rect x="78.52" y="364.55" width="2.4" height="2" fill="#f7861c" opacity="0.75"/>
<rect x="78.52" y="365.84" width="2.4" height="2" fill="#f7861c" opacity="0.75"/>
<rect x="78.52" y="367.12" width="2.4" height="2" fill="#f7861c" opacity="0.75"/>
<rect x="78.52" y="368.4" width="2.4" height="2" fill="#f7861c" opacity="0.75"/>
<rect x="78.52" y="250" width="2.4" height="2" fill="#1fa79c" opacity="0.75"/>
<rect x="78.52" y="251.33" width="2.4" height="2" fill="#1fa79c" opacity="0.75"/>
<rect x="78.52" y="252.65" width="2.4" height="2" fill="#1fa79c" opacity="0.75"/>
<rect x="78.52" y="253.98" width="2.4" height="2" fill="#1fa79c" opacity="0.75"/>
<rect x="78.52" y="255.31" width="2.4" height="2" fill="#1fa79c" opacity="0.75"/>
<rect x="78.52" y="256.63" width="2.4" height="2" fill="#1fa79c" opacity="0.75"/>
<rect x="78.52" y="257.96" width="2.4" height="2" fill="#1fa79c" opacity="0.75"/>
<rect x="78.52" y="259.29" width="2.4" height="2" fill="#1fa79c" opacity="0.75"/>
<rect x="78.52" y="260.61" width="2.4" height="2" fill="#1fa79c" opacity="0.75"/>
<rect x="78.52" y="261.94" width="2.4" height="2" fill="#1fa79c" opacity="0.75"/>
<rect x="78.52" y="263.27" width="2.4" height="2" fill="#1fa79c" opacity="0.75"/>
<rect x="78.52" y="264.59" width="2.4" height="2" fill="#1fa79c" opacity="0.75"/>
<rect x="78.52" y="265.92" width="2.4" height="2" fill="#1fa79c" opacity="0.75"/>
<rect x="78.52" y="267.25" width="2.4" height="2" fill="#1fa79c" opacity="0.75"/>
<rect x="78.52" y="268.57" width="2.4" height="2" fill="#1fa79c" opacity="0.75"/>
<rect x="78.52" y="269.9" width="2.4" height="2" fill="#1fa79c" opacity="0.75"/>
<rect x="87.5" y="352.3" width="2.4" height="2" fill="#f7861c" opacity="0.75"/>
<rect x="87.5" y="353.62" width="2.4" height="2" fill="#f7861c" opacity="0.75"/>
<rect x="87.5" y="354.94" width="2.4" height="2" fill="#f7861c" opacity="0.75"/>
<rect x="87.5" y="356.26" width="2.4" height="2" fill="#f7861c" opacity="0.75"/>
<rect x="87.5" y="357.57" width="2.4" height="2" fill="#f7861c" opacity="0.75"/>
<rect x="87.5" y="358.89" width="2.4" height="2" fill="#f7861c" opacity="0.75"/>
<rect x="87.5" y="360.21" width="2.4" height="2" fill="#f7861c" opacity="0.75"/>
<rect x="87.5" y="361.53" width="2.4" height="2" fill="#f7861c" opacity="0.75"/>
<rect x="87.5" y="362.85" width="2.4" height="2" fill="#f7861c" opacity="0.75"/>
<rect x="87.5" y="364.17" width="2.4" height="2" fill="#f7861c" opacity="0.75"/>
<rect x="87.5" y="365.49" width="2.4" height="2" fill="#f7861c" opacity="0.75"/>
<rect x="87.5" y="366.81" width="2.4" height="2" fill="#f7861c" opacity="0.75"/>
<rect x="87.5" y="368.12" width="2.4" height="2" fill="#f7861c" opacity="0.75"/>
<rect x="87.5" y="369.44" width="2.4" height="2" fill="#f7861c" opacity="0.75"/>
<rect x="87.5" y="370.76" width="2.4" height="2" fill="#f7861c" opacity="0.75"/>
<rect x="87.5" y="372.08" width="2.4" height="2" fill="#f7861c" opacity="0.75"/>
<rect x="87.5" y="373.4" width="2.4" height="2" fill="#f7861c" opacity="0.75"/>
<rect x="87.5" y="245" width="2.4" height="2" fill="#1fa79c" opacity="0.75"/>
<rect x="87.5" y="246.34" width="2.4" height="2" fill="#1fa79c" opacity="0.75"/>
<rect x="87.5" y="247.68" width="2.4" height="2" fill="#1fa79c" opacity="0.75"/>
<rect x="87.5" y="249.02" width="2.4" height="2" fill="#1fa79c" opacity="0.75"/>
<rect x="87.5" y="250.35" width="2.4" height="2" fill="#1fa79c" opacity="0.75"/>
<rect x="87.5" y="251.69" width="2.4" height="2" fill="#1fa79c" opacity="0.75"/>
<rect x="87.5" y="253.03" width="2.4" height="2" fill="#1fa79c" opacity="0.75"/>
<rect x="87.5" y="254.37" width="2.4" height="2" fill="#1fa79c" opacity="0.75"/>
<rect x="87.5" y="255.71" width="2.4" height="2" fill="#1fa79c" opacity="0.75"/>
<rect x="87.5" y="257.05" width="2.4" height="2" fill="#1fa79c" opacity="0.75"/>
<rect x="87.5" y="258.38" width="2.4" height="2" fill="#1fa79c" opacity="0.75"/>
<rect x="87.5" y="259.72" width="2.4" height="2" fill="#1fa79c" opacity="0.75"/>
<rect x="87.5" y="261.06" width="2.4" height="2" fill="#1fa79c" opacity="0.75"/>
<rect x="87.5" y="262.4" width="2.4" height="2" fill="#1fa79c" opacity="0.75"/>
<rect x="96.48" y="358" width="2.4" height="2" fill="#f7861c" opacity="0.75"/>
<rect x="96.48" y="359.38" width="2.4" height="2" fill="#f7861c" opacity="0.75"/>
<rect x="96.48" y="360.75" width="2.4" height="2" fill="#f7861c" opacity="0.75"/>
<rect x="96.48" y="362.13" width="2.4" height="2" fill="#f7861c" opacity="0.75"/>
<rect x="96.48" y="363.51" width="2.4" height="2" fill="#f7861c" opacity="0.75"/>
<rect x="96.48" y="364.88" width="2.4" height="2" fill="#f7861c" opacity="0.75"/>
<rect x="96.48" y="366.26" width="2.4" height="2" fill="#f7861c" opacity="0.75"/>
<rect x="96.48" y="367.64" width="2.4" height="2" fill="#f7861c" opacity="0.75"/>
<rect x="96.48" y="369.02" width="2.4" height="2" fill="#f7861c" opacity="0.75"/>
<rect x="96.48" y="370.39" width="2.4" height="2" fill="#f7861c" opacity="0.75"/>
<rect x="96.48" y="371.77" width="2.4" height="2" fill="#f7861c" opacity="0.75"/>
<rect x="96.48" y="373.15" width="2.4" height="2" fill="#f7861c" opacity="0.75"/>
<rect x="96.48" y="374.52" width="2.4" height="2" fill="#f7861c" opacity="0.75"/>
<rect x="96.48" y="375.9" width="2.4" height="2" fill="#f7861c" opacity="0.75"/>
<rect x="96.48" y="241.3" width="2.4" height="2" fill="#1fa79c" opacity="0.75"/>
<rect x="96.48" y="242.7" width="2.4" height="2" fill="#1fa79c" opacity="0.75"/>
<rect x="96.48" y="244.1" width="2.4" height="2" fill="#1fa79c" opacity="0.75"/>
<rect x="96.48" y="245.5" width="2.4" height="2" fill="#1fa79c" opacity="0.75"/>
<rect x="96.48" y="246.9" width="2.4" height="2" fill="#1fa79c" opacity="0.75"/>
<rect x="96.48" y="248.3" width="2.4" height="2" fill="#1fa79c" opacity="0.75"/>
<rect x="96.48" y="249.7" width="2.4" height="2" fill="#1fa79c" opacity="0.75"/>
<rect x="96.48" y="251.1" width="2.4" height="2" fill="#1fa79c" opacity="0.75"/>
<rect x="96.48" y="252.5" width="2.4" height="2" fill="#1fa79c" opacity="0.75"/>
<rect x="105.46" y="364" width="2.4" height="2" fill="#f7861c" opacity="0.75"/>
<rect x="105.46" y="365.44" width="2.4" height="2" fill="#f7861c" opacity="0.75"/>
<rect x="105.46" y="366.88" width="2.4" height="2" fill="#f7861c" opacity="0.75"/>
<rect x="105.46" y="368.32" width="2.4" height="2" fill="#f7861c" opacity="0.75"/>
<rect x="105.46" y="369.76" width="2.4" height="2" fill="#f7861c" opacity="0.75"/>
<rect x="105.46" y="371.2" width="2.4" height="2" fill="#f7861c" opacity="0.75"/>
<rect x="105.46" y="372.64" width="2.4" height="2" fill="#f7861c" opacity="0.75"/>
<rect x="105.46" y="374.08" width="2.4" height="2" fill="#f7861c" opacity="0.75"/>
<rect x="105.46" y="375.52" width="2.4" height="2" fill="#f7861c" opacity="0.75"/>
<rect x="105.46" y="376.96" width="2.4" height="2" fill="#f7861c" opacity="0.75"/>
<rect x="105.46" y="378.4" width="2.4" height="2" fill="#f7861c" opacity="0.75"/>
<rect x="105.46" y="239.5" width="2.4" height="2" fill="#1fa79c" opacity="0.75"/>
<rect x="105.46" y="241" width="2.4" height="2" fill="#1fa79c" opacity="0.75"/>
<rect x="105.46" y="242.5" width="2.4" height="2" fill="#1fa79c" opacity="0.75"/>
<rect x="105.46" y="244" width="2.4" height="2" fill="#1fa79c" opacity="0.75"/>
<rect x="105.46" y="245.5" width="2.4" height="2" fill="#1fa79c" opacity="0.75"/>
<rect x="105.46" y="247" width="2.4" height="2" fill="#1fa79c" opacity="0.75"/>
<rect x="114.44" y="367.7" width="2.4" height="2" fill="#f7861c" opacity="0.75"/>
<rect x="114.44" y="369.06" width="2.4" height="2" fill="#f7861c" opacity="0.75"/>
<rect x="114.44" y="370.42" width="2.4" height="2" fill="#f7861c" opacity="0.75"/>
<rect x="114.44" y="371.78" width="2.4" height="2" fill="#f7861c" opacity="0.75"/>
<rect x="114.44" y="373.14" width="2.4" height="2" fill="#f7861c" opacity="0.75"/>
<rect x="114.44" y="374.5" width="2.4" height="2" fill="#f7861c" opacity="0.75"/>
<rect x="114.44" y="375.86" width="2.4" height="2" fill="#f7861c" opacity="0.75"/>
<rect x="114.44" y="377.22" width="2.4" height="2" fill="#f7861c" opacity="0.75"/>
<rect x="114.44" y="378.58" width="2.4" height="2" fill="#f7861c" opacity="0.75"/>
<rect x="114.44" y="379.94" width="2.4" height="2" fill="#f7861c" opacity="0.75"/>
<rect x="114.44" y="381.3" width="2.4" height="2" fill="#f7861c" opacity="0.75"/>
<rect x="114.44" y="238" width="2.4" height="2" fill="#1fa79c" opacity="0.75"/>
<rect x="114.44" y="239.75" width="2.4" height="2" fill="#1fa79c" opacity="0.75"/>
<rect x="114.44" y="241.5" width="2.4" height="2" fill="#1fa79c" opacity="0.75"/>
<rect x="114.44" y="243.25" width="2.4" height="2" fill="#1fa79c" opacity="0.75"/>
<rect x="114.44" y="245" width="2.4" height="2" fill="#1fa79c" opacity="0.75"/>
<rect x="123.42" y="368.5" width="2.4" height="2" fill="#f7861c" opacity="0.75"/>
<rect x="123.42" y="369.85" width="2.4" height="2" fill="#f7861c" opacity="0.75"/>
<rect x="123.42" y="371.2" width="2.4" height="2" fill="#f7861c" opacity="0.75"/>
<rect x="123.42" y="372.55" width="2.4" height="2" fill="#f7861c" opacity="0.75"/>
<rect x="123.42" y="373.9" width="2.4" height="2" fill="#f7861c" opacity="0.75"/>
<rect x="123.42" y="375.25" width="2.4" height="2" fill="#f7861c" opacity="0.75"/>
<rect x="123.42" y="376.6" width="2.4" height="2" fill="#f7861c" opacity="0.75"/>
<rect x="123.42" y="377.95" width="2.4" height="2" fill="#f7861c" opacity="0.75"/>
<rect x="123.42" y="379.3" width="2.4" height="2" fill="#f7861c" opacity="0.75"/>
<rect x="123.42" y="380.65" width="2.4" height="2" fill="#f7861c" opacity="0.75"/>
<rect x="123.42" y="382" width="2.4" height="2" fill="#f7861c" opacity="0.75"/>
<rect x="123.42" y="237" width="2.4" height="2" fill="#1fa79c" opacity="0.75"/>
<rect x="123.42" y="238.5" width="2.4" height="2" fill="#1fa79c" opacity="0.75"/>
<rect x="123.42" y="240" width="2.4" height="2" fill="#1fa79c" opacity="0.75"/>
<rect x="123.42" y="241.5" width="2.4" height="2" fill="#1fa79c" opacity="0.75"/>
<rect x="123.42" y="243" width="2.4" height="2" fill="#1fa79c" opacity="0.75"/>
<rect x="132.4" y="371.6" width="2.4" height="2" fill="#f7861c" opacity="0.75"/>
<rect x="132.4" y="373.03" width="2.4" height="2" fill="#f7861c" opacity="0.75"/>
<rect x="132.4" y="374.47" width="2.4" height="2" fill="#f7861c" opacity="0.75"/>
<rect x="132.4" y="375.9" width="2.4" height="2" fill="#f7861c" opacity="0.75"/>
<rect x="132.4" y="377.33" width="2.4" height="2" fill="#f7861c" opacity="0.75"/>
<rect x="132.4" y="378.77" width="2.4" height="2" fill="#f7861c" opacity="0.75"/>
<rect x="132.4" y="380.2" width="2.4" height="2" fill="#f7861c" opacity="0.75"/>
<rect x="132.4" y="381.63" width="2.4" height="2" fill="#f7861c" opacity="0.75"/>
<rect x="132.4" y="383.07" width="2.4" height="2" fill="#f7861c" opacity="0.75"/>
<rect x="132.4" y="384.5" width="2.4" height="2" fill="#f7861c" opacity="0.75"/>
<rect x="132.4" y="236" width="2.4" height="2" fill="#1fa79c" opacity="0.75"/>
<rect x="132.4" y="237.5" width="2.4" height="2" fill="#1fa79c" opacity="0.75"/>
<rect x="132.4" y="239" width="2.4" height="2" fill="#1fa79c" opacity="0.75"/>
<rect x="132.4" y="240.5" width="2.4" height="2" fill="#1fa79c" opacity="0.75"/>
<rect x="132.4" y="242" width="2.4" height="2" fill="#1fa79c" opacity="0.75"/>
<rect x="141.38" y="372.9" width="2.4" height="2" fill="#f7861c" opacity="0.75"/>
<rect x="141.38" y="374.33" width="2.4" height="2" fill="#f7861c" opacity="0.75"/>
<rect x="141.38" y="375.77" width="2.4" height="2" fill="#f7861c" opacity="0.75"/>
<rect x="141.38" y="377.2" width="2.4" height="2" fill="#f7861c" opacity="0.75"/>
<rect x="141.38" y="378.63" width="2.4" height="2" fill="#f7861c" opacity="0.75"/>
<rect x="141.38" y="380.07" width="2.4" height="2" fill="#f7861c" opacity="0.75"/>
<rect x="141.38" y="381.5" width="2.4" height="2" fill="#f7861c" opacity="0.75"/>
<rect x="141.38" y="382.93" width="2.4" height="2" fill="#f7861c" opacity="0.75"/>
<rect x="141.38" y="384.37" width="2.4" height="2" fill="#f7861c" opacity="0.75"/>
<rect x="141.38" y="385.8" width="2.4" height="2" fill="#f7861c" opacity="0.75"/>
<rect x="141.38" y="235.5" width="2.4" height="2" fill="#1fa79c" opacity="0.75"/>
<rect x="141.38" y="237.33" width="2.4" height="2" fill="#1fa79c" opacity="0.75"/>
<rect x="141.38" y="239.17" width="2.4" height="2" fill="#1fa79c" opacity="0.75"/>
<rect x="141.38" y="241" width="2.4" height="2" fill="#1fa79c" opacity="0.75"/>
<rect x="150.36" y="373.4" width="2.4" height="2" fill="#f7861c" opacity="0.75"/>
<rect x="150.36" y="374.76" width="2.4" height="2" fill="#f7861c" opacity="0.75"/>
<rect x="150.36" y="376.12" width="2.4" height="2" fill="#f7861c" opacity="0.75"/>
<rect x="150.36" y="377.48" width="2.4" height="2" fill="#f7861c" opacity="0.75"/>
<rect x="150.36" y="378.84" width="2.4" height="2" fill="#f7861c" opacity="0.75"/>
<rect x="150.36" y="380.2" width="2.4" height="2" fill="#f7861c" opacity="0.75"/>
<rect x="150.36" y="381.56" width="2.4" height="2" fill="#f7861c" opacity="0.75"/>
<rect x="150.36" y="382.92" width="2.4" height="2" fill="#f7861c" opacity="0.75"/>
<rect x="150.36" y="384.28" width="2.4" height="2" fill="#f7861c" opacity="0.75"/>
<rect x="150.36" y="385.64" width="2.4" height="2" fill="#f7861c" opacity="0.75"/>
<rect x="150.36" y="387" width="2.4" height="2" fill="#f7861c" opacity="0.75"/>
<rect x="150.36" y="235" width="2.4" height="2" fill="#1fa79c" opacity="0.75"/>
<rect x="150.36" y="236.67" width="2.4" height="2" fill="#1fa79c" opacity="0.75"/>
<rect x="150.36" y="238.33" width="2.4" height="2" fill="#1fa79c" opacity="0.75"/>
<rect x="150.36" y="240" width="2.4" height="2" fill="#1fa79c" opacity="0.75"/>
<rect x="159.34" y="373.4" width="2.4" height="2" fill="#f7861c" opacity="0.75"/>
<rect x="159.34" y="374.76" width="2.4" height="2" fill="#f7861c" opacity="0.75"/>
<rect x="159.34" y="376.12" width="2.4" height="2" fill="#f7861c" opacity="0.75"/>
<rect x="159.34" y="377.48" width="2.4" height="2" fill="#f7861c" opacity="0.75"/>
<rect x="159.34" y="378.84" width="2.4" height="2" fill="#f7861c" opacity="0.75"/>
<rect x="159.34" y="380.2" width="2.4" height="2" fill="#f7861c" opacity="0.75"/>
<rect x="159.34" y="381.56" width="2.4" height="2" fill="#f7861c" opacity="0.75"/>
<rect x="159.34" y="382.92" width="2.4" height="2" fill="#f7861c" opacity="0.75"/>
<rect x="159.34" y="384.28" width="2.4" height="2" fill="#f7861c" opacity="0.75"/>
<rect x="159.34" y="385.64" width="2.4" height="2" fill="#f7861c" opacity="0.75"/>
<rect x="159.34" y="387" width="2.4" height="2" fill="#f7861c" opacity="0.75"/>
<rect x="159.34" y="234.5" width="2.4" height="2" fill="#1fa79c" opacity="0.75"/>
<rect x="159.34" y="236.75" width="2.4" height="2" fill="#1fa79c" opacity="0.75"/>
<rect x="159.34" y="239" width="2.4" height="2" fill="#1fa79c" opacity="0.75"/>
<rect x="168.32" y="373.4" width="2.4" height="2" fill="#f7861c" opacity="0.75"/>
<rect x="168.32" y="374.76" width="2.4" height="2" fill="#f7861c" opacity="0.75"/>
<rect x="168.32" y="376.12" width="2.4" height="2" fill="#f7861c" opacity="0.75"/>
<rect x="168.32" y="377.48" width="2.4" height="2" fill="#f7861c" opacity="0.75"/>
<rect x="168.32" y="378.84" width="2.4" height="2" fill="#f7861c" opacity="0.75"/>
<rect x="168.32" y="380.2" width="2.4" height="2" fill="#f7861c" opacity="0.75"/>
<rect x="168.32" y="381.56" width="2.4" height="2" fill="#f7861c" opacity="0.75"/>
<rect x="168.32" y="382.92" width="2.4" height="2" fill="#f7861c" opacity="0.75"/>
<rect x="168.32" y="384.28" width="2.4" height="2" fill="#f7861c" opacity="0.75"/>
<rect x="168.32" y="385.64" width="2.4" height="2" fill="#f7861c" opacity="0.75"/>
<rect x="168.32" y="387" width="2.4" height="2" fill="#f7861c" opacity="0.75"/>
<rect x="168.32" y="234" width="2.4" height="2" fill="#1fa79c" opacity="0.75"/>
<rect x="168.32" y="235.67" width="2.4" height="2" fill="#1fa79c" opacity="0.75"/>
<rect x="168.32" y="237.33" width="2.4" height="2" fill="#1fa79c" opacity="0.75"/>
<rect x="168.32" y="239" width="2.4" height="2" fill="#1fa79c" opacity="0.75"/>
<rect x="177.3" y="377" width="2.4" height="2" fill="#f7861c" opacity="0.75"/>
<rect x="177.3" y="378.38" width="2.4" height="2" fill="#f7861c" opacity="0.75"/>
<rect x="177.3" y="379.75" width="2.4" height="2" fill="#f7861c" opacity="0.75"/>
<rect x="177.3" y="381.12" width="2.4" height="2" fill="#f7861c" opacity="0.75"/>
<rect x="177.3" y="382.5" width="2.4" height="2" fill="#f7861c" opacity="0.75"/>
<rect x="177.3" y="383.88" width="2.4" height="2" fill="#f7861c" opacity="0.75"/>
<rect x="177.3" y="385.25" width="2.4" height="2" fill="#f7861c" opacity="0.75"/>
<rect x="177.3" y="386.62" width="2.4" height="2" fill="#f7861c" opacity="0.75"/>
<rect x="177.3" y="388" width="2.4" height="2" fill="#f7861c" opacity="0.75"/>
<rect x="177.3" y="233" width="2.4" height="2" fill="#1fa79c" opacity="0.75"/>
<rect x="177.3" y="235" width="2.4" height="2" fill="#1fa79c" opacity="0.75"/>
<rect x="177.3" y="237" width="2.4" height="2" fill="#1fa79c" opacity="0.75"/>
<rect x="186.28" y="382" width="2.4" height="2" fill="#f7861c" opacity="0.75"/>
<rect x="186.28" y="383.83" width="2.4" height="2" fill="#f7861c" opacity="0.75"/>
<rect x="186.28" y="385.67" width="2.4" height="2" fill="#f7861c" opacity="0.75"/>
<rect x="186.28" y="387.5" width="2.4" height="2" fill="#f7861c" opacity="0.75"/>
<rect x="186.28" y="232" width="2.4" height="2" fill="#1fa79c" opacity="0.75"/>
<rect x="186.28" y="235" width="2.4" height="2" fill="#1fa79c" opacity="0.75"/>
<rect x="195.26" y="387.8" width="2.4" height="2" fill="#f7861c" opacity="0.75"/>
<rect x="195.26" y="387.8" width="2.4" height="2" fill="#f7861c" opacity="0.75"/>
<rect x="195.26" y="231" width="2.4" height="2" fill="#1fa79c" opacity="0.75"/>
<rect x="195.26" y="231" width="2.4" height="2" fill="#1fa79c" opacity="0.75"/>
<circle cx="52.78" cy="315.47" r="1.1" fill="#b5b5b5" />
<circle cx="52.78" cy="319.69" r="1.1" fill="#b5b5b5" />
<circle cx="61.76" cy="301.39" r="1.1" fill="#b5b5b5" />
<circle cx="196.46" cy="387.98" r="1.1" fill="#b5b5b5" />
<circle cx="187.48" cy="230.28" r="1.1" fill="#b5b5b5" />
<circle cx="196.46" cy="230.28" r="1.1" fill="#b5b5b5" />
<circle cx="52.78" cy="301.39" r="1.1" fill="#b5b5b5" />
<circle cx="61.76" cy="342.22" r="1.1" fill="#b5b5b5" />
<polyline points="52.78,305.61 53.68,304.25 54.58,302.46 55.47,300.33 56.37,297.95 57.27,295.4 58.17,292.77 59.07,290.14 59.96,287.59 60.86,285.21 61.76,283.08 62.66,281.13 63.56,279.22 64.45,277.36 65.35,275.55 66.25,273.8 67.15,272.12 68.05,270.51 68.94,268.98 69.84,267.54 70.74,266.19 71.64,264.95 72.54,263.81 73.43,262.78 74.33,261.82 75.23,260.93 76.13,260.1 77.03,259.31 77.92,258.54 78.82,257.79 79.72,257.04 80.62,256.3 81.52,255.6 82.41,254.94 83.31,254.32 84.21,253.72 85.11,253.14 86.01,252.59 86.9,252.04 87.8,251.51 88.7,250.98 89.6,250.46 90.5,249.95 91.39,249.46 92.29,248.99 93.19,248.53 94.09,248.08 94.99,247.65 95.88,247.24 96.78,246.85 97.68,246.48 98.58,246.13 99.48,245.8 100.37,245.51 101.27,245.23 102.17,244.96 103.07,244.71 103.97,244.45 104.86,244.2 105.76,243.93 106.66,243.66 107.56,243.37 108.46,243.07 109.35,242.77 110.25,242.47 111.15,242.16 112.05,241.87 112.95,241.59 113.84,241.32 114.74,241.07 115.64,240.84 116.54,240.65 117.44,240.47 118.33,240.32 119.23,240.18 120.13,240.05 121.03,239.93 121.93,239.81 122.82,239.7 123.72,239.57 124.62,239.44 125.52,239.3 126.42,239.15 127.31,239.01 128.21,238.87 129.11,238.73 130.01,238.59 130.91,238.45 131.8,238.31 132.7,238.17 133.6,238.03 134.5,237.88 135.4,237.74 136.29,237.58 137.19,237.43 138.09,237.28 138.99,237.13 139.89,236.99 140.78,236.86 141.68,236.73 142.58,236.62 143.48,236.52 144.38,236.45 145.27,236.38 146.17,236.32 147.07,236.27 147.97,236.21 148.87,236.16 149.76,236.09 150.66,236.01 151.56,235.92 152.46,235.8 153.36,235.67 154.25,235.52 155.15,235.37 156.05,235.21 156.95,235.05 157.85,234.9 158.74,234.76 159.64,234.62 160.54,234.51 161.44,234.41 162.34,234.33 163.23,234.26 164.13,234.19 165.03,234.13 165.93,234.08 166.83,234.02 167.72,233.96 168.62,233.89 169.52,233.8 170.42,233.71 171.32,233.62 172.21,233.51 173.11,233.41 174.01,233.3 174.91,233.19 175.81,233.08 176.7,232.96 177.6,232.86 178.5,232.75 179.4,232.64 180.3,232.53 181.19,232.42 182.09,232.31 182.99,232.2 183.89,232.09 184.79,231.98 185.68,231.88 186.58,231.78 187.48,231.69 188.38,231.6 189.28,231.52 190.17,231.43 191.07,231.35 191.97,231.27 192.87,231.2 193.77,231.14 194.66,231.08 195.56,231.03 196.46,230.99" fill="none" stroke="#1fa79c" stroke-width="1.1" />
<polyline points="52.78,310.54 53.68,311.83 54.58,313.55 55.47,315.59 56.37,317.87 57.27,320.31 58.17,322.81 59.07,325.28 59.96,327.64 60.86,329.8 61.76,331.66 62.66,333.28 63.56,334.77 64.45,336.15 65.35,337.44 66.25,338.66 67.15,339.82 68.05,340.95 68.94,342.07 69.84,343.19 70.74,344.33 71.64,345.48 72.54,346.61 73.43,347.72 74.33,348.81 75.23,349.88 76.13,350.92 77.03,351.95 77.92,352.95 78.82,353.93 79.72,354.89 80.62,355.84 81.52,356.76 82.41,357.67 83.31,358.56 84.21,359.42 85.11,360.26 86.01,361.08 86.9,361.86 87.8,362.62 88.7,363.34 89.6,364.02 90.5,364.67 91.39,365.28 92.29,365.86 93.19,366.42 94.09,366.96 94.99,367.47 95.88,367.98 96.78,368.48 97.68,368.97 98.58,369.45 99.48,369.92 100.37,370.36 101.27,370.8 102.17,371.22 103.07,371.62 103.97,372.02 104.86,372.42 105.76,372.81 106.66,373.2 107.56,373.58 108.46,373.97 109.35,374.36 110.25,374.74 111.15,375.11 112.05,375.47 112.95,375.81 113.84,376.14 114.74,376.44 115.64,376.72 116.54,376.96 117.44,377.18 118.33,377.37 119.23,377.55 120.13,377.71 121.03,377.86 121.93,378 122.82,378.15 123.72,378.31 124.62,378.48 125.52,378.66 126.42,378.84 127.31,379.03 128.21,379.21 129.11,379.4 130.01,379.58 130.91,379.76 131.8,379.93 132.7,380.09 133.6,380.24 134.5,380.37 135.4,380.49 136.29,380.6 137.19,380.71 138.09,380.81 138.99,380.9 139.89,381 140.78,381.09 141.68,381.19 142.58,381.29 143.48,381.4 144.38,381.51 145.27,381.62 146.17,381.73 147.07,381.84 147.97,381.95 148.87,382.06 149.76,382.16 150.66,382.26 151.56,382.35 152.46,382.43 153.36,382.51 154.25,382.59 155.15,382.65 156.05,382.72 156.95,382.79 157.85,382.85 158.74,382.92 159.64,382.98 160.54,383.05 161.44,383.12 162.34,383.19 163.23,383.26 164.13,383.33 165.03,383.4 165.93,383.47 166.83,383.54 167.72,383.62 168.62,383.69 169.52,383.76 170.42,383.83 171.32,383.9 172.21,383.97 173.11,384.04 174.01,384.11 174.91,384.18 175.81,384.25 176.7,384.32 177.6,384.39 178.5,384.46 179.4,384.53 180.3,384.61 181.19,384.68 182.09,384.76 182.99,384.83 183.89,384.91 184.79,384.98 185.68,385.05 186.58,385.11 187.48,385.16 188.38,385.22 189.28,385.26 190.17,385.31 191.07,385.35 191.97,385.38 192.87,385.42 193.77,385.45 194.66,385.47 195.56,385.5 196.46,385.52" fill="none" stroke="#f7861c" stroke-width="1.1" />
<line x1="35.9" y1="223.5" x2="35.9" y2="397" stroke="#231f20" stroke-width="1" />
<line x1="35.4" y1="396.5" x2="203" y2="396.5" stroke="#231f20" stroke-width="1" />
<line x1="32.7" y1="392.1" x2="35.9" y2="392.1" stroke="#231f20" stroke-width="1" />
<text x="28.9" y="395" font-size="10.6" text-anchor="end" fill="#231f20" >15</text>
<line x1="32.7" y1="356.5" x2="35.9" y2="356.5" stroke="#231f20" stroke-width="1" />
<text x="28.9" y="359.7" font-size="10.6" text-anchor="end" fill="#231f20" >20</text>
<line x1="32.7" y1="321.6" x2="35.9" y2="321.6" stroke="#231f20" stroke-width="1" />
<text x="28.9" y="323.7" font-size="10.6" text-anchor="end" fill="#231f20" >25</text>
<line x1="32.7" y1="286.2" x2="35.9" y2="286.2" stroke="#231f20" stroke-width="1" />
<text x="28.9" y="287.1" font-size="10.6" text-anchor="end" fill="#231f20" >30</text>
<line x1="32.7" y1="250.5" x2="35.9" y2="250.5" stroke="#231f20" stroke-width="1" />
<text x="28.9" y="252.8" font-size="10.6" text-anchor="end" fill="#231f20" >35</text>
<line x1="43.8" y1="396.5" x2="43.8" y2="400.7" stroke="#231f20" stroke-width="1" />
<text x="43.8" y="412.8" font-size="10.6" text-anchor="middle" fill="#231f20" >0</text>
<line x1="88.7" y1="396.5" x2="88.7" y2="400.7" stroke="#231f20" stroke-width="1" />
<text x="88.7" y="412.8" font-size="10.6" text-anchor="middle" fill="#231f20" >5</text>
<line x1="133.6" y1="396.5" x2="133.6" y2="400.7" stroke="#231f20" stroke-width="1" />
<text x="133.6" y="412.8" font-size="10.6" text-anchor="middle" fill="#231f20" >10</text>
<line x1="178.5" y1="396.5" x2="178.5" y2="400.7" stroke="#231f20" stroke-width="1" />
<text x="178.5" y="412.8" font-size="10.6" text-anchor="middle" fill="#231f20" >15</text>
<text x="119.3" y="424.7" font-size="10.9" text-anchor="middle" fill="#231f20" >Number of accessions</text>
<text transform="translate(10.1,316.4) rotate(-90)" font-size="10.9" text-anchor="middle" fill="#231f20">Number of Gene families (K)</text>
<circle cx="157.6" cy="290.2" r="1.6" fill="#1fa79c" />
<text x="162.5" y="294.2" font-size="10.9" text-anchor="start" fill="#231f20" >Pan</text>
<circle cx="157.6" cy="305.1" r="1.6" fill="#f7861c" />
<text x="162.5" y="309.1" font-size="10.9" text-anchor="start" fill="#231f20" >Core</text>
<rect x="262" y="392" width="6.2" height="4.8" fill="#b07cc6" stroke="none" stroke-width="0" />
<line x1="265.1" y1="396.8" x2="265.1" y2="400.3" stroke="#231f20" stroke-width="0.9" />
<text x="265.1" y="410.3" font-size="9.6" text-anchor="middle" fill="#231f20" >1</text>
<rect x="272.73" y="362.2" width="6.2" height="34.6" fill="#00a992" stroke="none" stroke-width="0" />
<line x1="275.83" y1="396.8" x2="275.83" y2="400.3" stroke="#231f20" stroke-width="0.9" />
<text x="275.83" y="410.3" font-size="9.6" text-anchor="middle" fill="#231f20" >2</text>
<rect x="283.46" y="376" width="6.2" height="20.8" fill="#00a992" stroke="none" stroke-width="0" />
<line x1="286.56" y1="396.8" x2="286.56" y2="400.3" stroke="#231f20" stroke-width="0.9" />
<text x="286.56" y="410.3" font-size="9.6" text-anchor="middle" fill="#231f20" >3</text>
<rect x="294.19" y="383.6" width="6.2" height="13.2" fill="#00a992" stroke="none" stroke-width="0" />
<line x1="297.29" y1="396.8" x2="297.29" y2="400.3" stroke="#231f20" stroke-width="0.9" />
<text x="297.29" y="410.3" font-size="9.6" text-anchor="middle" fill="#231f20" >4</text>
<rect x="304.92" y="385.2" width="6.2" height="11.6" fill="#00a992" stroke="none" stroke-width="0" />
<line x1="308.02" y1="396.8" x2="308.02" y2="400.3" stroke="#231f20" stroke-width="0.9" />
<text x="308.02" y="410.3" font-size="9.6" text-anchor="middle" fill="#231f20" >5</text>
<rect x="315.65" y="386.7" width="6.2" height="10.1" fill="#00a992" stroke="none" stroke-width="0" />
<line x1="318.75" y1="396.8" x2="318.75" y2="400.3" stroke="#231f20" stroke-width="0.9" />
<text x="318.75" y="410.3" font-size="9.6" text-anchor="middle" fill="#231f20" >6</text>
<rect x="326.38" y="388" width="6.2" height="8.8" fill="#00a992" stroke="none" stroke-width="0" />
<line x1="329.48" y1="396.8" x2="329.48" y2="400.3" stroke="#231f20" stroke-width="0.9" />
<text x="329.48" y="410.3" font-size="9.6" text-anchor="middle" fill="#231f20" >7</text>
<rect x="337.11" y="388" width="6.2" height="8.8" fill="#00a992" stroke="none" stroke-width="0" />
<line x1="340.21" y1="396.8" x2="340.21" y2="400.3" stroke="#231f20" stroke-width="0.9" />
<text x="340.21" y="410.3" font-size="9.6" text-anchor="middle" fill="#231f20" >8</text>
<rect x="347.84" y="388.6" width="6.2" height="8.2" fill="#00a992" stroke="none" stroke-width="0" />
<line x1="350.94" y1="396.8" x2="350.94" y2="400.3" stroke="#231f20" stroke-width="0.9" />
<text x="350.94" y="410.3" font-size="9.6" text-anchor="middle" fill="#231f20" >9</text>
<rect x="358.57" y="388.2" width="6.2" height="8.6" fill="#00a992" stroke="none" stroke-width="0" />
<line x1="361.67" y1="396.8" x2="361.67" y2="400.3" stroke="#231f20" stroke-width="0.9" />
<text x="361.67" y="410.3" font-size="9.6" text-anchor="middle" fill="#231f20" >10</text>
<rect x="369.3" y="387.6" width="6.2" height="9.2" fill="#00a992" stroke="none" stroke-width="0" />
<line x1="372.4" y1="396.8" x2="372.4" y2="400.3" stroke="#231f20" stroke-width="0.9" />
<text x="372.4" y="410.3" font-size="9.6" text-anchor="middle" fill="#231f20" >11</text>
<rect x="380.03" y="387" width="6.2" height="9.8" fill="#00a992" stroke="none" stroke-width="0" />
<line x1="383.13" y1="396.8" x2="383.13" y2="400.3" stroke="#231f20" stroke-width="0.9" />
<text x="383.13" y="410.3" font-size="9.6" text-anchor="middle" fill="#231f20" >12</text>
<rect x="390.76" y="385.8" width="6.2" height="11" fill="#00a992" stroke="none" stroke-width="0" />
<line x1="393.86" y1="396.8" x2="393.86" y2="400.3" stroke="#231f20" stroke-width="0.9" />
<text x="393.86" y="410.3" font-size="9.6" text-anchor="middle" fill="#231f20" >13</text>
<rect x="401.49" y="382.1" width="6.2" height="14.7" fill="#00a992" stroke="none" stroke-width="0" />
<line x1="404.59" y1="396.8" x2="404.59" y2="400.3" stroke="#231f20" stroke-width="0.9" />
<text x="404.59" y="410.3" font-size="9.6" text-anchor="middle" fill="#231f20" >14</text>
<rect x="412.22" y="376.9" width="6.2" height="19.9" fill="#00a992" stroke="none" stroke-width="0" />
<line x1="415.32" y1="396.8" x2="415.32" y2="400.3" stroke="#231f20" stroke-width="0.9" />
<text x="415.32" y="410.3" font-size="9.6" text-anchor="middle" fill="#231f20" >15</text>
<rect x="422.95" y="358.5" width="6.2" height="38.3" fill="#3a8fc8" stroke="none" stroke-width="0" />
<line x1="426.05" y1="396.8" x2="426.05" y2="400.3" stroke="#231f20" stroke-width="0.9" />
<text x="426.05" y="410.3" font-size="9.6" text-anchor="middle" fill="#231f20" >16</text>
<rect x="433.68" y="235.5" width="6.2" height="161.3" fill="#ff7f00" stroke="none" stroke-width="0" />
<line x1="436.78" y1="396.8" x2="436.78" y2="400.3" stroke="#231f20" stroke-width="0.9" />
<text x="436.78" y="410.3" font-size="9.6" text-anchor="middle" fill="#231f20" >17</text>
<line x1="257.8" y1="227.8" x2="257.8" y2="397.3" stroke="#231f20" stroke-width="1" />
<line x1="257.3" y1="396.8" x2="442" y2="396.8" stroke="#231f20" stroke-width="1" />
<line x1="253.6" y1="396.8" x2="257.8" y2="396.8" stroke="#231f20" stroke-width="1" />
<text x="252.3" y="400.6" font-size="10.6" text-anchor="end" fill="#231f20" >0</text>
<line x1="253.6" y1="344.5" x2="257.8" y2="344.5" stroke="#231f20" stroke-width="1" />
<text x="252.3" y="348.3" font-size="10.6" text-anchor="end" fill="#231f20" >5</text>
<line x1="253.6" y1="292.2" x2="257.8" y2="292.2" stroke="#231f20" stroke-width="1" />
<text x="252.3" y="296" font-size="10.6" text-anchor="end" fill="#231f20" >10</text>
<line x1="253.6" y1="239.9" x2="257.8" y2="239.9" stroke="#231f20" stroke-width="1" />
<text x="252.3" y="243.7" font-size="10.6" text-anchor="end" fill="#231f20" >15</text>
<text x="350.4" y="424.7" font-size="10.9" text-anchor="middle" fill="#231f20" >Frequency</text>
<text transform="translate(236.1,316.2) rotate(-90)" font-size="10.9" text-anchor="middle" fill="#231f20">Number of Gene families (K)</text>
<rect x="266.6" y="230.8" width="6.5" height="6.5" fill="#ff7f00" stroke="none" stroke-width="0" />
<text x="277.9" y="238.3" font-size="10.8" text-anchor="start" fill="#231f20" >Core</text>
<rect x="266.6" y="244" width="6.5" height="6.5" fill="#3a8fc8" stroke="none" stroke-width="0" />
<text x="277.9" y="252.2" font-size="10.8" text-anchor="start" fill="#231f20" >Softcore</text>
<rect x="336.9" y="230.8" width="6.5" height="6.5" fill="#00a992" stroke="none" stroke-width="0" />
<text x="348.4" y="238.3" font-size="10.8" text-anchor="start" fill="#231f20" >Dispensable</text>
<rect x="336.9" y="244" width="6.5" height="6.5" fill="#b07cc6" stroke="none" stroke-width="0" />
<text x="348.4" y="252.2" font-size="10.8" text-anchor="start" fill="#231f20" >Private</text>
<path d="M343.5,312.6 L384.46,310.88 A41,41 0 0 0 307.82,292.41 Z" fill="#ff7f00" stroke="white" stroke-width="0.8" />
<path d="M343.5,312.6 L307.82,292.41 A41,41 0 0 0 302.7,316.67 Z" fill="#3a8fc8" stroke="white" stroke-width="0.8" />
<path d="M343.5,312.6 L302.7,316.67 A41,41 0 0 0 384.48,313.96 Z" fill="#00a992" stroke="white" stroke-width="0.8" />
<path d="M343.5,312.6 L384.48,313.96 A41,41 0 0 0 384.46,310.88 Z" fill="#b07cc6" stroke="white" stroke-width="0.8" />
<text x="346.5" y="297.3" font-size="10.8" text-anchor="middle" fill="#231f20" >41.15%</text>
<text x="346.5" y="338.2" font-size="10.8" text-anchor="middle" fill="#231f20" >47.79%</text>
<text x="290.6" y="294.1" font-size="10.8" text-anchor="middle" fill="#231f20" >9.77%</text>
<text x="404.3" y="330" font-size="10.8" text-anchor="middle" fill="#231f20" >1.29%</text>
<line x1="289.8" y1="297" x2="299.5" y2="302.8" stroke="#231f20" stroke-width="1.3" />
<path d="M303.6,305.2 L297.1,304.3 L299.7,299.9 Z" fill="#231f20" stroke="none" stroke-width="1" />
<line x1="399.6" y1="319" x2="389.5" y2="313.5" stroke="#231f20" stroke-width="1.3" />
<path d="M385.0,311.0 L391.5,311.6 L389.0,316.2 Z" fill="#231f20" stroke="none" stroke-width="1" />
<rect x="460.2" y="227.1" width="71.8" height="7.7" fill="#ff7b00" stroke="none" stroke-width="0" />
<rect x="532" y="227.1" width="17" height="7.7" fill="#3a8fc8" stroke="none" stroke-width="0" />
<rect x="549" y="227.1" width="83.2" height="7.7" fill="#00a992" stroke="none" stroke-width="0" />
<rect x="632.2" y="227.1" width="2.3" height="7.7" fill="#b07cc6" stroke="none" stroke-width="0" />
<rect x="460.2" y="236.1" width="76" height="10.5" fill="#ff8c00"/>
<rect x="536.2" y="236.1" width="1" height="10.5" fill="#cab59a"/>
<rect x="537.2" y="236.1" width="1" height="10.5" fill="#fb8f0c"/>
<rect x="538.2" y="236.1" width="4" height="10.5" fill="#ff8c00"/>
<rect x="542.2" y="236.1" width="1" height="10.5" fill="#dea55f"/>
<rect x="543.2" y="236.1" width="1" height="10.5" fill="#d6ab77"/>
<rect x="544.2" y="236.1" width="2" height="10.5" fill="#ff8c00"/>
<rect x="546.2" y="236.1" width="1" height="10.5" fill="#cab59a"/>
<rect x="547.2" y="236.1" width="3" height="10.5" fill="#ff8c00"/>
<rect x="550.2" y="236.1" width="1" height="10.5" fill="#d6ab77"/>
<rect x="551.2" y="236.1" width="2" height="10.5" fill="#ff8c00"/>
<rect x="553.2" y="236.1" width="1" height="10.5" fill="#e79f47"/>
<rect x="554.2" y="236.1" width="1" height="10.5" fill="#ff8c00"/>
<rect x="555.2" y="236.1" width="1" height="10.5" fill="#d2ae83"/>
<rect x="556.2" y="236.1" width="1" height="10.5" fill="#e3a253"/>
<rect x="557.2" y="236.1" width="1" height="10.5" fill="#e79f47"/>
<rect x="558.2" y="236.1" width="1" height="10.5" fill="#ff8c00"/>
<rect x="559.2" y="236.1" width="1" height="10.5" fill="#ef9830"/>
<rect x="560.2" y="236.1" width="1" height="10.5" fill="#ff8c00"/>
<rect x="561.2" y="236.1" width="1" height="10.5" fill="#dea55f"/>
<rect x="562.2" y="236.1" width="1" height="10.5" fill="#ff8c00"/>
<rect x="563.2" y="236.1" width="1" height="10.5" fill="#dea55f"/>
<rect x="564.2" y="236.1" width="1" height="10.5" fill="#d2ae83"/>
<rect x="565.2" y="236.1" width="3" height="10.5" fill="#ff8c00"/>
<rect x="568.2" y="236.1" width="1" height="10.5" fill="#dea55f"/>
<rect x="569.2" y="236.1" width="1" height="10.5" fill="#f79218"/>
<rect x="570.2" y="236.1" width="1" height="10.5" fill="#ff8c00"/>
<rect x="571.2" y="236.1" width="1" height="10.5" fill="#e79f47"/>
<rect x="572.2" y="236.1" width="1" height="10.5" fill="#ff8c00"/>
<rect x="573.2" y="236.1" width="1" height="10.5" fill="#f39524"/>
<rect x="574.2" y="236.1" width="1" height="10.5" fill="#ef9830"/>
<rect x="575.2" y="236.1" width="1" height="10.5" fill="#ff8c00"/>
<rect x="576.2" y="236.1" width="1" height="10.5" fill="#d2ae83"/>
<rect x="577.2" y="236.1" width="2" height="10.5" fill="#d6ab77"/>
<rect x="579.2" y="236.1" width="1" height="10.5" fill="#e3a253"/>
<rect x="580.2" y="236.1" width="1" height="10.5" fill="#ff8c00"/>
<rect x="581.2" y="236.1" width="1" height="10.5" fill="#e79f47"/>
<rect x="582.2" y="236.1" width="1" height="10.5" fill="#dea55f"/>
<rect x="583.2" y="236.1" width="1" height="10.5" fill="#daa86b"/>
<rect x="584.2" y="236.1" width="1" height="10.5" fill="#e3a253"/>
<rect x="585.2" y="236.1" width="1" height="10.5" fill="#d6ab77"/>
<rect x="586.2" y="236.1" width="1" height="10.5" fill="#eb9c3b"/>
<rect x="587.2" y="236.1" width="1" height="10.5" fill="#f79218"/>
<rect x="588.2" y="236.1" width="1" height="10.5" fill="#e3a253"/>
<rect x="589.2" y="236.1" width="1" height="10.5" fill="#d6ab77"/>
<rect x="590.2" y="236.1" width="1" height="10.5" fill="#ff8c00"/>
<rect x="591.2" y="236.1" width="1" height="10.5" fill="#dea55f"/>
<rect x="592.2" y="236.1" width="1" height="10.5" fill="#f79218"/>
<rect x="593.2" y="236.1" width="1" height="10.5" fill="#dea55f"/>
<rect x="594.2" y="236.1" width="1" height="10.5" fill="#ff8c00"/>
<rect x="595.2" y="236.1" width="1" height="10.5" fill="#d6ab77"/>
<rect x="596.2" y="236.1" width="1" height="10.5" fill="#ff8c00"/>
<rect x="597.2" y="236.1" width="2" height="10.5" fill="#d6ab77"/>
<rect x="599.2" y="236.1" width="1" height="10.5" fill="#c6b8a6"/>
<rect x="600.2" y="236.1" width="1" height="10.5" fill="#ceb28e"/>
<rect x="601.2" y="236.1" width="1" height="10.5" fill="#d2ae83"/>
<rect x="602.2" y="236.1" width="1" height="10.5" fill="#c6b8a6"/>
<rect x="603.2" y="236.1" width="1" height="10.5" fill="#ceb28e"/>
<rect x="604.2" y="236.1" width="2" height="10.5" fill="#c6b8a6"/>
<rect x="606.2" y="236.1" width="1" height="10.5" fill="#c2bbb2"/>
<rect x="607.2" y="236.1" width="1" height="10.5" fill="#eb9c3b"/>
<rect x="608.2" y="236.1" width="1" height="10.5" fill="#c2bbb2"/>
<rect x="609.2" y="236.1" width="1" height="10.5" fill="#bebebe"/>
<rect x="610.2" y="236.1" width="1" height="10.5" fill="#c6b8a6"/>
<rect x="611.2" y="236.1" width="1" height="10.5" fill="#eb9c3b"/>
<rect x="612.2" y="236.1" width="2" height="10.5" fill="#c2bbb2"/>
<rect x="614.2" y="236.1" width="2" height="10.5" fill="#bebebe"/>
<rect x="616.2" y="236.1" width="1" height="10.5" fill="#c2bbb2"/>
<rect x="617.2" y="236.1" width="1" height="10.5" fill="#c6b8a6"/>
<rect x="618.2" y="236.1" width="1" height="10.5" fill="#bebebe"/>
<rect x="619.2" y="236.1" width="1" height="10.5" fill="#f79218"/>
<rect x="620.2" y="236.1" width="5" height="10.5" fill="#c2bbb2"/>
<rect x="625.2" y="236.1" width="1" height="10.5" fill="#bebebe"/>
<rect x="626.2" y="236.1" width="2" height="10.5" fill="#c2bbb2"/>
<rect x="628.2" y="236.1" width="1" height="10.5" fill="#bebebe"/>
<rect x="629.2" y="236.1" width="2" height="10.5" fill="#c2bbb2"/>
<rect x="631.2" y="236.1" width="1" height="10.5" fill="#bebebe"/>
<rect x="632.2" y="236.1" width="1" height="10.5" fill="#c2bbb2"/>
<rect x="633.2" y="236.1" width="1" height="10.5" fill="#bebebe"/>
<rect x="634.2" y="236.1" width="0.3" height="10.5" fill="#c2bbb2"/>
<rect x="460.2" y="245.8" width="81" height="10.5" fill="#ff8c00"/>
<rect x="541.2" y="245.8" width="1" height="10.5" fill="#f79218"/>
<rect x="542.2" y="245.8" width="4" height="10.5" fill="#ff8c00"/>
<rect x="546.2" y="245.8" width="1" height="10.5" fill="#f79218"/>
<rect x="547.2" y="245.8" width="16" height="10.5" fill="#ff8c00"/>
<rect x="563.2" y="245.8" width="1" height="10.5" fill="#d6ab77"/>
<rect x="564.2" y="245.8" width="8" height="10.5" fill="#ff8c00"/>
<rect x="572.2" y="245.8" width="1" height="10.5" fill="#f39524"/>
<rect x="573.2" y="245.8" width="1" height="10.5" fill="#daa86b"/>
<rect x="574.2" y="245.8" width="1" height="10.5" fill="#f79218"/>
<rect x="575.2" y="245.8" width="1" height="10.5" fill="#ff8c00"/>
<rect x="576.2" y="245.8" width="1" height="10.5" fill="#d6ab77"/>
<rect x="577.2" y="245.8" width="1" height="10.5" fill="#f39524"/>
<rect x="578.2" y="245.8" width="4" height="10.5" fill="#ff8c00"/>
<rect x="582.2" y="245.8" width="2" height="10.5" fill="#ef9830"/>
<rect x="584.2" y="245.8" width="2" height="10.5" fill="#ff8c00"/>
<rect x="586.2" y="245.8" width="1" height="10.5" fill="#daa86b"/>
<rect x="587.2" y="245.8" width="1" height="10.5" fill="#ff8c00"/>
<rect x="588.2" y="245.8" width="1" height="10.5" fill="#d2ae83"/>
<rect x="589.2" y="245.8" width="2" height="10.5" fill="#ff8c00"/>
<rect x="591.2" y="245.8" width="1" height="10.5" fill="#daa86b"/>
<rect x="592.2" y="245.8" width="4" height="10.5" fill="#ff8c00"/>
<rect x="596.2" y="245.8" width="1" height="10.5" fill="#f79218"/>
<rect x="597.2" y="245.8" width="1" height="10.5" fill="#dea55f"/>
<rect x="598.2" y="245.8" width="1" height="10.5" fill="#cab59a"/>
<rect x="599.2" y="245.8" width="1" height="10.5" fill="#daa86b"/>
<rect x="600.2" y="245.8" width="2" height="10.5" fill="#c6b8a6"/>
<rect x="602.2" y="245.8" width="2" height="10.5" fill="#ceb28e"/>
<rect x="604.2" y="245.8" width="2" height="10.5" fill="#cab59a"/>
<rect x="606.2" y="245.8" width="4" height="10.5" fill="#c2bbb2"/>
<rect x="610.2" y="245.8" width="2" height="10.5" fill="#bebebe"/>
<rect x="612.2" y="245.8" width="1" height="10.5" fill="#c2bbb2"/>
<rect x="613.2" y="245.8" width="1" height="10.5" fill="#bebebe"/>
<rect x="614.2" y="245.8" width="2" height="10.5" fill="#c2bbb2"/>
<rect x="616.2" y="245.8" width="1" height="10.5" fill="#bebebe"/>
<rect x="617.2" y="245.8" width="3" height="10.5" fill="#c2bbb2"/>
<rect x="620.2" y="245.8" width="2" height="10.5" fill="#f79218"/>
<rect x="622.2" y="245.8" width="1" height="10.5" fill="#c6b8a6"/>
<rect x="623.2" y="245.8" width="2" height="10.5" fill="#bebebe"/>
<rect x="625.2" y="245.8" width="1" height="10.5" fill="#c2bbb2"/>
<rect x="626.2" y="245.8" width="1" height="10.5" fill="#bebebe"/>
<rect x="627.2" y="245.8" width="5" height="10.5" fill="#c2bbb2"/>
<rect x="632.2" y="245.8" width="1" height="10.5" fill="#bebebe"/>
<rect x="633.2" y="245.8" width="1" height="10.5" fill="#c2bbb2"/>
<rect x="634.2" y="245.8" width="0.3" height="10.5" fill="#bebebe"/>
<rect x="460.2" y="255.5" width="79" height="10.5" fill="#ff8c00"/>
<rect x="539.2" y="255.5" width="1" height="10.5" fill="#f79218"/>
<rect x="540.2" y="255.5" width="8" height="10.5" fill="#ff8c00"/>
<rect x="548.2" y="255.5" width="1" height="10.5" fill="#f39524"/>
<rect x="549.2" y="255.5" width="2" height="10.5" fill="#ff8c00"/>
<rect x="551.2" y="255.5" width="1" height="10.5" fill="#f79218"/>
<rect x="552.2" y="255.5" width="6" height="10.5" fill="#ff8c00"/>
<rect x="558.2" y="255.5" width="1" height="10.5" fill="#dea55f"/>
<rect x="559.2" y="255.5" width="4" height="10.5" fill="#ff8c00"/>
<rect x="563.2" y="255.5" width="1" height="10.5" fill="#fb8f0c"/>
<rect x="564.2" y="255.5" width="2" height="10.5" fill="#ff8c00"/>
<rect x="566.2" y="255.5" width="1" height="10.5" fill="#dea55f"/>
<rect x="567.2" y="255.5" width="3" height="10.5" fill="#ff8c00"/>
<rect x="570.2" y="255.5" width="1" height="10.5" fill="#f39524"/>
<rect x="571.2" y="255.5" width="11" height="10.5" fill="#ff8c00"/>
<rect x="582.2" y="255.5" width="1" height="10.5" fill="#fb8f0c"/>
<rect x="583.2" y="255.5" width="1" height="10.5" fill="#ff8c00"/>
<rect x="584.2" y="255.5" width="1" height="10.5" fill="#ef9830"/>
<rect x="585.2" y="255.5" width="1" height="10.5" fill="#dea55f"/>
<rect x="586.2" y="255.5" width="1" height="10.5" fill="#e3a253"/>
<rect x="587.2" y="255.5" width="1" height="10.5" fill="#eb9c3b"/>
<rect x="588.2" y="255.5" width="1" height="10.5" fill="#ff8c00"/>
<rect x="589.2" y="255.5" width="2" height="10.5" fill="#dea55f"/>
<rect x="591.2" y="255.5" width="1" height="10.5" fill="#ff8c00"/>
<rect x="592.2" y="255.5" width="2" height="10.5" fill="#ceb28e"/>
<rect x="594.2" y="255.5" width="1" height="10.5" fill="#d6ab77"/>
<rect x="595.2" y="255.5" width="1" height="10.5" fill="#dea55f"/>
<rect x="596.2" y="255.5" width="1" height="10.5" fill="#ff8c00"/>
<rect x="597.2" y="255.5" width="1" height="10.5" fill="#d6ab77"/>
<rect x="598.2" y="255.5" width="1" height="10.5" fill="#e3a253"/>
<rect x="599.2" y="255.5" width="1" height="10.5" fill="#f39524"/>
<rect x="600.2" y="255.5" width="1" height="10.5" fill="#ef9830"/>
<rect x="601.2" y="255.5" width="2" height="10.5" fill="#cab59a"/>
<rect x="603.2" y="255.5" width="1" height="10.5" fill="#f39524"/>
<rect x="604.2" y="255.5" width="1" height="10.5" fill="#ef9830"/>
<rect x="605.2" y="255.5" width="1" height="10.5" fill="#bebebe"/>
<rect x="606.2" y="255.5" width="1" height="10.5" fill="#c6b8a6"/>
<rect x="607.2" y="255.5" width="1" height="10.5" fill="#e3a253"/>
<rect x="608.2" y="255.5" width="4" height="10.5" fill="#c2bbb2"/>
<rect x="612.2" y="255.5" width="1" height="10.5" fill="#c6b8a6"/>
<rect x="613.2" y="255.5" width="2" height="10.5" fill="#c2bbb2"/>
<rect x="615.2" y="255.5" width="2" height="10.5" fill="#bebebe"/>
<rect x="617.2" y="255.5" width="1" height="10.5" fill="#c6b8a6"/>
<rect x="618.2" y="255.5" width="1" height="10.5" fill="#c2bbb2"/>
<rect x="619.2" y="255.5" width="1" height="10.5" fill="#bebebe"/>
<rect x="620.2" y="255.5" width="1" height="10.5" fill="#c2bbb2"/>
<rect x="621.2" y="255.5" width="1" height="10.5" fill="#bebebe"/>
<rect x="622.2" y="255.5" width="1" height="10.5" fill="#c2bbb2"/>
<rect x="623.2" y="255.5" width="2" height="10.5" fill="#f79218"/>
<rect x="625.2" y="255.5" width="1" height="10.5" fill="#bebebe"/>
<rect x="626.2" y="255.5" width="3" height="10.5" fill="#c2bbb2"/>
<rect x="629.2" y="255.5" width="3" height="10.5" fill="#bebebe"/>
<rect x="632.2" y="255.5" width="2" height="10.5" fill="#c2bbb2"/>
<rect x="634.2" y="255.5" width="0.3" height="10.5" fill="#bebebe"/>
<rect x="460.2" y="265.2" width="81" height="10.5" fill="#ff8c00"/>
<rect x="541.2" y="265.2" width="1" height="10.5" fill="#f79218"/>
<rect x="542.2" y="265.2" width="2" height="10.5" fill="#ff8c00"/>
<rect x="544.2" y="265.2" width="1" height="10.5" fill="#f39524"/>
<rect x="545.2" y="265.2" width="12" height="10.5" fill="#ff8c00"/>
<rect x="557.2" y="265.2" width="1" height="10.5" fill="#eb9c3b"/>
<rect x="558.2" y="265.2" width="1" height="10.5" fill="#f39524"/>
<rect x="559.2" y="265.2" width="4" height="10.5" fill="#ff8c00"/>
<rect x="563.2" y="265.2" width="1" height="10.5" fill="#ef9830"/>
<rect x="564.2" y="265.2" width="1" height="10.5" fill="#dea55f"/>
<rect x="565.2" y="265.2" width="4" height="10.5" fill="#ff8c00"/>
<rect x="569.2" y="265.2" width="1" height="10.5" fill="#f39524"/>
<rect x="570.2" y="265.2" width="1" height="10.5" fill="#ff8c00"/>
<rect x="571.2" y="265.2" width="1" height="10.5" fill="#f39524"/>
<rect x="572.2" y="265.2" width="2" height="10.5" fill="#ff8c00"/>
<rect x="574.2" y="265.2" width="1" height="10.5" fill="#f79218"/>
<rect x="575.2" y="265.2" width="1" height="10.5" fill="#ef9830"/>
<rect x="576.2" y="265.2" width="1" height="10.5" fill="#daa86b"/>
<rect x="577.2" y="265.2" width="1" height="10.5" fill="#f79218"/>
<rect x="578.2" y="265.2" width="2" height="10.5" fill="#ff8c00"/>
<rect x="580.2" y="265.2" width="1" height="10.5" fill="#dea55f"/>
<rect x="581.2" y="265.2" width="3" height="10.5" fill="#ff8c00"/>
<rect x="584.2" y="265.2" width="1" height="10.5" fill="#daa86b"/>
<rect x="585.2" y="265.2" width="2" height="10.5" fill="#ff8c00"/>
<rect x="587.2" y="265.2" width="1" height="10.5" fill="#fb8f0c"/>
<rect x="588.2" y="265.2" width="2" height="10.5" fill="#ff8c00"/>
<rect x="590.2" y="265.2" width="1" height="10.5" fill="#f79218"/>
<rect x="591.2" y="265.2" width="1" height="10.5" fill="#d6ab77"/>
<rect x="592.2" y="265.2" width="1" height="10.5" fill="#ff8c00"/>
<rect x="593.2" y="265.2" width="1" height="10.5" fill="#daa86b"/>
<rect x="594.2" y="265.2" width="1" height="10.5" fill="#c6b8a6"/>
<rect x="595.2" y="265.2" width="1" height="10.5" fill="#f79218"/>
<rect x="596.2" y="265.2" width="1" height="10.5" fill="#ff8c00"/>
<rect x="597.2" y="265.2" width="1" height="10.5" fill="#c6b8a6"/>
<rect x="598.2" y="265.2" width="1" height="10.5" fill="#d2ae83"/>
<rect x="599.2" y="265.2" width="1" height="10.5" fill="#d6ab77"/>
<rect x="600.2" y="265.2" width="2" height="10.5" fill="#c2bbb2"/>
<rect x="602.2" y="265.2" width="1" height="10.5" fill="#c6b8a6"/>
<rect x="603.2" y="265.2" width="1" height="10.5" fill="#ef9830"/>
<rect x="604.2" y="265.2" width="1" height="10.5" fill="#c6b8a6"/>
<rect x="605.2" y="265.2" width="1" height="10.5" fill="#bebebe"/>
<rect x="606.2" y="265.2" width="1" height="10.5" fill="#c2bbb2"/>
<rect x="607.2" y="265.2" width="2" height="10.5" fill="#bebebe"/>
<rect x="609.2" y="265.2" width="2" height="10.5" fill="#c2bbb2"/>
<rect x="611.2" y="265.2" width="1" height="10.5" fill="#eb9c3b"/>
<rect x="612.2" y="265.2" width="3" height="10.5" fill="#c2bbb2"/>
<rect x="615.2" y="265.2" width="3" height="10.5" fill="#bebebe"/>
<rect x="618.2" y="265.2" width="1" height="10.5" fill="#f79218"/>
<rect x="619.2" y="265.2" width="2" height="10.5" fill="#c2bbb2"/>
<rect x="621.2" y="265.2" width="1" height="10.5" fill="#bebebe"/>
<rect x="622.2" y="265.2" width="1" height="10.5" fill="#c6b8a6"/>
<rect x="623.2" y="265.2" width="1" height="10.5" fill="#c2bbb2"/>
<rect x="624.2" y="265.2" width="2" height="10.5" fill="#f79218"/>
<rect x="626.2" y="265.2" width="8" height="10.5" fill="#c2bbb2"/>
<rect x="634.2" y="265.2" width="0.3" height="10.5" fill="#bebebe"/>
<rect x="460.2" y="274.9" width="73" height="10.5" fill="#ff8c00"/>
<rect x="533.2" y="274.9" width="1" height="10.5" fill="#f39524"/>
<rect x="534.2" y="274.9" width="1" height="10.5" fill="#f79218"/>
<rect x="535.2" y="274.9" width="4" height="10.5" fill="#ff8c00"/>
<rect x="539.2" y="274.9" width="1" height="10.5" fill="#f79218"/>
<rect x="540.2" y="274.9" width="4" height="10.5" fill="#ff8c00"/>
<rect x="544.2" y="274.9" width="1" height="10.5" fill="#f79218"/>
<rect x="545.2" y="274.9" width="7" height="10.5" fill="#ff8c00"/>
<rect x="552.2" y="274.9" width="1" height="10.5" fill="#f79218"/>
<rect x="553.2" y="274.9" width="4" height="10.5" fill="#ff8c00"/>
<rect x="557.2" y="274.9" width="1" height="10.5" fill="#fb8f0c"/>
<rect x="558.2" y="274.9" width="4" height="10.5" fill="#ff8c00"/>
<rect x="562.2" y="274.9" width="2" height="10.5" fill="#f79218"/>
<rect x="564.2" y="274.9" width="2" height="10.5" fill="#ff8c00"/>
<rect x="566.2" y="274.9" width="1" height="10.5" fill="#f79218"/>
<rect x="567.2" y="274.9" width="1" height="10.5" fill="#f39524"/>
<rect x="568.2" y="274.9" width="1" height="10.5" fill="#e79f47"/>
<rect x="569.2" y="274.9" width="1" height="10.5" fill="#e3a253"/>
<rect x="570.2" y="274.9" width="4" height="10.5" fill="#ff8c00"/>
<rect x="574.2" y="274.9" width="1" height="10.5" fill="#daa86b"/>
<rect x="575.2" y="274.9" width="3" height="10.5" fill="#ff8c00"/>
<rect x="578.2" y="274.9" width="1" height="10.5" fill="#e3a253"/>
<rect x="579.2" y="274.9" width="3" height="10.5" fill="#ff8c00"/>
<rect x="582.2" y="274.9" width="1" height="10.5" fill="#eb9c3b"/>
<rect x="583.2" y="274.9" width="1" height="10.5" fill="#ef9830"/>
<rect x="584.2" y="274.9" width="1" height="10.5" fill="#e3a253"/>
<rect x="585.2" y="274.9" width="1" height="10.5" fill="#eb9c3b"/>
<rect x="586.2" y="274.9" width="3" height="10.5" fill="#ff8c00"/>
<rect x="589.2" y="274.9" width="1" height="10.5" fill="#f79218"/>
<rect x="590.2" y="274.9" width="1" height="10.5" fill="#ff8c00"/>
<rect x="591.2" y="274.9" width="1" height="10.5" fill="#e3a253"/>
<rect x="592.2" y="274.9" width="1" height="10.5" fill="#dea55f"/>
<rect x="593.2" y="274.9" width="1" height="10.5" fill="#d2ae83"/>
<rect x="594.2" y="274.9" width="1" height="10.5" fill="#ff8c00"/>
<rect x="595.2" y="274.9" width="1" height="10.5" fill="#dea55f"/>
<rect x="596.2" y="274.9" width="1" height="10.5" fill="#ff8c00"/>
<rect x="597.2" y="274.9" width="1" height="10.5" fill="#ceb28e"/>
<rect x="598.2" y="274.9" width="1" height="10.5" fill="#d2ae83"/>
<rect x="599.2" y="274.9" width="1" height="10.5" fill="#ceb28e"/>
<rect x="600.2" y="274.9" width="1" height="10.5" fill="#cab59a"/>
<rect x="601.2" y="274.9" width="1" height="10.5" fill="#d6ab77"/>
<rect x="602.2" y="274.9" width="1" height="10.5" fill="#cab59a"/>
<rect x="603.2" y="274.9" width="1" height="10.5" fill="#ceb28e"/>
<rect x="604.2" y="274.9" width="1" height="10.5" fill="#c6b8a6"/>
<rect x="605.2" y="274.9" width="3" height="10.5" fill="#c2bbb2"/>
<rect x="608.2" y="274.9" width="1" height="10.5" fill="#bebebe"/>
<rect x="609.2" y="274.9" width="5" height="10.5" fill="#c2bbb2"/>
<rect x="614.2" y="274.9" width="3" height="10.5" fill="#bebebe"/>
<rect x="617.2" y="274.9" width="3" height="10.5" fill="#c2bbb2"/>
<rect x="620.2" y="274.9" width="1" height="10.5" fill="#bebebe"/>
<rect x="621.2" y="274.9" width="5" height="10.5" fill="#c2bbb2"/>
<rect x="626.2" y="274.9" width="2" height="10.5" fill="#f79218"/>
<rect x="628.2" y="274.9" width="1" height="10.5" fill="#bebebe"/>
<rect x="629.2" y="274.9" width="1" height="10.5" fill="#c2bbb2"/>
<rect x="630.2" y="274.9" width="1" height="10.5" fill="#bebebe"/>
<rect x="631.2" y="274.9" width="2" height="10.5" fill="#c2bbb2"/>
<rect x="633.2" y="274.9" width="1" height="10.5" fill="#bebebe"/>
<rect x="634.2" y="274.9" width="0.3" height="10.5" fill="#c6b8a6"/>
<rect x="460.2" y="284.6" width="72" height="10.5" fill="#ff8c00"/>
<rect x="532.2" y="284.6" width="1" height="10.5" fill="#fb8f0c"/>
<rect x="533.2" y="284.6" width="5" height="10.5" fill="#ff8c00"/>
<rect x="538.2" y="284.6" width="1" height="10.5" fill="#f79218"/>
<rect x="539.2" y="284.6" width="15" height="10.5" fill="#ff8c00"/>
<rect x="554.2" y="284.6" width="1" height="10.5" fill="#f39524"/>
<rect x="555.2" y="284.6" width="1" height="10.5" fill="#ff8c00"/>
<rect x="556.2" y="284.6" width="1" height="10.5" fill="#f79218"/>
<rect x="557.2" y="284.6" width="3" height="10.5" fill="#ff8c00"/>
<rect x="560.2" y="284.6" width="1" height="10.5" fill="#f79218"/>
<rect x="561.2" y="284.6" width="1" height="10.5" fill="#ff8c00"/>
<rect x="562.2" y="284.6" width="1" height="10.5" fill="#f39524"/>
<rect x="563.2" y="284.6" width="2" height="10.5" fill="#ff8c00"/>
<rect x="565.2" y="284.6" width="1" height="10.5" fill="#f79218"/>
<rect x="566.2" y="284.6" width="1" height="10.5" fill="#ff8c00"/>
<rect x="567.2" y="284.6" width="1" height="10.5" fill="#f79218"/>
<rect x="568.2" y="284.6" width="2" height="10.5" fill="#ff8c00"/>
<rect x="570.2" y="284.6" width="1" height="10.5" fill="#fb8f0c"/>
<rect x="571.2" y="284.6" width="8" height="10.5" fill="#ff8c00"/>
<rect x="579.2" y="284.6" width="1" height="10.5" fill="#daa86b"/>
<rect x="580.2" y="284.6" width="1" height="10.5" fill="#ff8c00"/>
<rect x="581.2" y="284.6" width="1" height="10.5" fill="#f39524"/>
<rect x="582.2" y="284.6" width="4" height="10.5" fill="#ff8c00"/>
<rect x="586.2" y="284.6" width="1" height="10.5" fill="#e79f47"/>
<rect x="587.2" y="284.6" width="4" height="10.5" fill="#ff8c00"/>
<rect x="591.2" y="284.6" width="3" height="10.5" fill="#e79f47"/>
<rect x="594.2" y="284.6" width="3" height="10.5" fill="#ff8c00"/>
<rect x="597.2" y="284.6" width="1" height="10.5" fill="#d2ae83"/>
<rect x="598.2" y="284.6" width="1" height="10.5" fill="#d6ab77"/>
<rect x="599.2" y="284.6" width="1" height="10.5" fill="#ceb28e"/>
<rect x="600.2" y="284.6" width="1" height="10.5" fill="#c6b8a6"/>
<rect x="601.2" y="284.6" width="1" height="10.5" fill="#d2ae83"/>
<rect x="602.2" y="284.6" width="1" height="10.5" fill="#ceb28e"/>
<rect x="603.2" y="284.6" width="1" height="10.5" fill="#c2bbb2"/>
<rect x="604.2" y="284.6" width="1" height="10.5" fill="#cab59a"/>
<rect x="605.2" y="284.6" width="1" height="10.5" fill="#c6b8a6"/>
<rect x="606.2" y="284.6" width="1" height="10.5" fill="#f39524"/>
<rect x="607.2" y="284.6" width="1" height="10.5" fill="#c6b8a6"/>
<rect x="608.2" y="284.6" width="1" height="10.5" fill="#c2bbb2"/>
<rect x="609.2" y="284.6" width="2" height="10.5" fill="#c6b8a6"/>
<rect x="611.2" y="284.6" width="3" height="10.5" fill="#c2bbb2"/>
<rect x="614.2" y="284.6" width="1" height="10.5" fill="#eb9c3b"/>
<rect x="615.2" y="284.6" width="2" height="10.5" fill="#bebebe"/>
<rect x="617.2" y="284.6" width="2" height="10.5" fill="#c2bbb2"/>
<rect x="619.2" y="284.6" width="1" height="10.5" fill="#bebebe"/>
<rect x="620.2" y="284.6" width="1" height="10.5" fill="#f79218"/>
<rect x="621.2" y="284.6" width="1" height="10.5" fill="#c2bbb2"/>
<rect x="622.2" y="284.6" width="1" height="10.5" fill="#c6b8a6"/>
<rect x="623.2" y="284.6" width="1" height="10.5" fill="#bebebe"/>
<rect x="624.2" y="284.6" width="2" height="10.5" fill="#c2bbb2"/>
<rect x="626.2" y="284.6" width="1" height="10.5" fill="#bebebe"/>
<rect x="627.2" y="284.6" width="2" height="10.5" fill="#f79218"/>
<rect x="629.2" y="284.6" width="5" height="10.5" fill="#c2bbb2"/>
<rect x="634.2" y="284.6" width="0.3" height="10.5" fill="#c6b8a6"/>
<rect x="460.2" y="294.3" width="72" height="10.5" fill="#ff8c00"/>
<rect x="532.2" y="294.3" width="1" height="10.5" fill="#fb8f0c"/>
<rect x="533.2" y="294.3" width="15" height="10.5" fill="#ff8c00"/>
<rect x="548.2" y="294.3" width="1" height="10.5" fill="#fb8f0c"/>
<rect x="549.2" y="294.3" width="1" height="10.5" fill="#f39524"/>
<rect x="550.2" y="294.3" width="18" height="10.5" fill="#ff8c00"/>
<rect x="568.2" y="294.3" width="1" height="10.5" fill="#fb8f0c"/>
<rect x="569.2" y="294.3" width="1" height="10.5" fill="#ff8c00"/>
<rect x="570.2" y="294.3" width="1" height="10.5" fill="#f79218"/>
<rect x="571.2" y="294.3" width="6" height="10.5" fill="#ff8c00"/>
<rect x="577.2" y="294.3" width="1" height="10.5" fill="#fb8f0c"/>
<rect x="578.2" y="294.3" width="1" height="10.5" fill="#ff8c00"/>
<rect x="579.2" y="294.3" width="1" height="10.5" fill="#fb8f0c"/>
<rect x="580.2" y="294.3" width="1" height="10.5" fill="#e79f47"/>
<rect x="581.2" y="294.3" width="1" height="10.5" fill="#daa86b"/>
<rect x="582.2" y="294.3" width="1" height="10.5" fill="#d6ab77"/>
<rect x="583.2" y="294.3" width="1" height="10.5" fill="#e3a253"/>
<rect x="584.2" y="294.3" width="1" height="10.5" fill="#eb9c3b"/>
<rect x="585.2" y="294.3" width="1" height="10.5" fill="#d2ae83"/>
<rect x="586.2" y="294.3" width="1" height="10.5" fill="#f79218"/>
<rect x="587.2" y="294.3" width="1" height="10.5" fill="#ff8c00"/>
<rect x="588.2" y="294.3" width="1" height="10.5" fill="#f79218"/>
<rect x="589.2" y="294.3" width="1" height="10.5" fill="#d6ab77"/>
<rect x="590.2" y="294.3" width="1" height="10.5" fill="#ff8c00"/>
<rect x="591.2" y="294.3" width="1" height="10.5" fill="#ceb28e"/>
<rect x="592.2" y="294.3" width="1" height="10.5" fill="#ff8c00"/>
<rect x="593.2" y="294.3" width="1" height="10.5" fill="#c6b8a6"/>
<rect x="594.2" y="294.3" width="1" height="10.5" fill="#ff8c00"/>
<rect x="595.2" y="294.3" width="1" height="10.5" fill="#ceb28e"/>
<rect x="596.2" y="294.3" width="1" height="10.5" fill="#c2bbb2"/>
<rect x="597.2" y="294.3" width="1" height="10.5" fill="#d6ab77"/>
<rect x="598.2" y="294.3" width="1" height="10.5" fill="#ceb28e"/>
<rect x="599.2" y="294.3" width="1" height="10.5" fill="#f39524"/>
<rect x="600.2" y="294.3" width="1" height="10.5" fill="#ceb28e"/>
<rect x="601.2" y="294.3" width="1" height="10.5" fill="#d2ae83"/>
<rect x="602.2" y="294.3" width="1" height="10.5" fill="#c6b8a6"/>
<rect x="603.2" y="294.3" width="1" height="10.5" fill="#ceb28e"/>
<rect x="604.2" y="294.3" width="1" height="10.5" fill="#c2bbb2"/>
<rect x="605.2" y="294.3" width="1" height="10.5" fill="#f39524"/>
<rect x="606.2" y="294.3" width="1" height="10.5" fill="#e79f47"/>
<rect x="607.2" y="294.3" width="1" height="10.5" fill="#e3a253"/>
<rect x="608.2" y="294.3" width="2" height="10.5" fill="#bebebe"/>
<rect x="610.2" y="294.3" width="2" height="10.5" fill="#c2bbb2"/>
<rect x="612.2" y="294.3" width="2" height="10.5" fill="#bebebe"/>
<rect x="614.2" y="294.3" width="1" height="10.5" fill="#c6b8a6"/>
<rect x="615.2" y="294.3" width="3" height="10.5" fill="#c2bbb2"/>
<rect x="618.2" y="294.3" width="1" height="10.5" fill="#ef9830"/>
<rect x="619.2" y="294.3" width="1" height="10.5" fill="#bebebe"/>
<rect x="620.2" y="294.3" width="1" height="10.5" fill="#dea55f"/>
<rect x="621.2" y="294.3" width="1" height="10.5" fill="#c6b8a6"/>
<rect x="622.2" y="294.3" width="1" height="10.5" fill="#bebebe"/>
<rect x="623.2" y="294.3" width="2" height="10.5" fill="#c2bbb2"/>
<rect x="625.2" y="294.3" width="1" height="10.5" fill="#eb9c3b"/>
<rect x="626.2" y="294.3" width="1" height="10.5" fill="#bebebe"/>
<rect x="627.2" y="294.3" width="1" height="10.5" fill="#c2bbb2"/>
<rect x="628.2" y="294.3" width="2" height="10.5" fill="#f79218"/>
<rect x="630.2" y="294.3" width="1" height="10.5" fill="#bebebe"/>
<rect x="631.2" y="294.3" width="2" height="10.5" fill="#c2bbb2"/>
<rect x="633.2" y="294.3" width="1" height="10.5" fill="#bebebe"/>
<rect x="634.2" y="294.3" width="0.3" height="10.5" fill="#c2bbb2"/>
<rect x="460.2" y="304" width="85" height="10.5" fill="#ff8c00"/>
<rect x="545.2" y="304" width="1" height="10.5" fill="#fb8f0c"/>
<rect x="546.2" y="304" width="10" height="10.5" fill="#ff8c00"/>
<rect x="556.2" y="304" width="1" height="10.5" fill="#fb8f0c"/>
<rect x="557.2" y="304" width="9" height="10.5" fill="#ff8c00"/>
<rect x="566.2" y="304" width="2" height="10.5" fill="#f39524"/>
<rect x="568.2" y="304" width="1" height="10.5" fill="#fb8f0c"/>
<rect x="569.2" y="304" width="7" height="10.5" fill="#ff8c00"/>
<rect x="576.2" y="304" width="1" height="10.5" fill="#d6ab77"/>
<rect x="577.2" y="304" width="4" height="10.5" fill="#ff8c00"/>
<rect x="581.2" y="304" width="1" height="10.5" fill="#ef9830"/>
<rect x="582.2" y="304" width="1" height="10.5" fill="#ff8c00"/>
<rect x="583.2" y="304" width="1" height="10.5" fill="#fb8f0c"/>
<rect x="584.2" y="304" width="1" height="10.5" fill="#dea55f"/>
<rect x="585.2" y="304" width="1" height="10.5" fill="#f39524"/>
<rect x="586.2" y="304" width="1" height="10.5" fill="#ff8c00"/>
<rect x="587.2" y="304" width="1" height="10.5" fill="#f79218"/>
<rect x="588.2" y="304" width="1" height="10.5" fill="#fb8f0c"/>
<rect x="589.2" y="304" width="1" height="10.5" fill="#f39524"/>
<rect x="590.2" y="304" width="1" height="10.5" fill="#ff8c00"/>
<rect x="591.2" y="304" width="1" height="10.5" fill="#daa86b"/>
<rect x="592.2" y="304" width="1" height="10.5" fill="#d2ae83"/>
<rect x="593.2" y="304" width="2" height="10.5" fill="#ceb28e"/>
<rect x="595.2" y="304" width="1" height="10.5" fill="#daa86b"/>
<rect x="596.2" y="304" width="1" height="10.5" fill="#ff8c00"/>
<rect x="597.2" y="304" width="1" height="10.5" fill="#e3a253"/>
<rect x="598.2" y="304" width="1" height="10.5" fill="#dea55f"/>
<rect x="599.2" y="304" width="1" height="10.5" fill="#cab59a"/>
<rect x="600.2" y="304" width="1" height="10.5" fill="#d2ae83"/>
<rect x="601.2" y="304" width="1" height="10.5" fill="#ceb28e"/>
<rect x="602.2" y="304" width="1" height="10.5" fill="#c2bbb2"/>
<rect x="603.2" y="304" width="1" height="10.5" fill="#ceb28e"/>
<rect x="604.2" y="304" width="2" height="10.5" fill="#c6b8a6"/>
<rect x="606.2" y="304" width="1" height="10.5" fill="#c2bbb2"/>
<rect x="607.2" y="304" width="2" height="10.5" fill="#bebebe"/>
<rect x="609.2" y="304" width="1" height="10.5" fill="#c2bbb2"/>
<rect x="610.2" y="304" width="1" height="10.5" fill="#bebebe"/>
<rect x="611.2" y="304" width="1" height="10.5" fill="#dea55f"/>
<rect x="612.2" y="304" width="1" height="10.5" fill="#c2bbb2"/>
<rect x="613.2" y="304" width="1" height="10.5" fill="#dea55f"/>
<rect x="614.2" y="304" width="1" height="10.5" fill="#bebebe"/>
<rect x="615.2" y="304" width="2" height="10.5" fill="#c2bbb2"/>
<rect x="617.2" y="304" width="1" height="10.5" fill="#bebebe"/>
<rect x="618.2" y="304" width="4" height="10.5" fill="#c2bbb2"/>
<rect x="622.2" y="304" width="1" height="10.5" fill="#bebebe"/>
<rect x="623.2" y="304" width="1" height="10.5" fill="#c6b8a6"/>
<rect x="624.2" y="304" width="4" height="10.5" fill="#c2bbb2"/>
<rect x="628.2" y="304" width="1" height="10.5" fill="#bebebe"/>
<rect x="629.2" y="304" width="1" height="10.5" fill="#f79218"/>
<rect x="630.2" y="304" width="4" height="10.5" fill="#c2bbb2"/>
<rect x="634.2" y="304" width="0.3" height="10.5" fill="#bebebe"/>
<rect x="460.2" y="313.7" width="82" height="10.5" fill="#ff8c00"/>
<rect x="542.2" y="313.7" width="1" height="10.5" fill="#f79218"/>
<rect x="543.2" y="313.7" width="6" height="10.5" fill="#ff8c00"/>
<rect x="549.2" y="313.7" width="1" height="10.5" fill="#f39524"/>
<rect x="550.2" y="313.7" width="7" height="10.5" fill="#ff8c00"/>
<rect x="557.2" y="313.7" width="1" height="10.5" fill="#fb8f0c"/>
<rect x="558.2" y="313.7" width="11" height="10.5" fill="#ff8c00"/>
<rect x="569.2" y="313.7" width="1" height="10.5" fill="#daa86b"/>
<rect x="570.2" y="313.7" width="3" height="10.5" fill="#ff8c00"/>
<rect x="573.2" y="313.7" width="1" height="10.5" fill="#e3a253"/>
<rect x="574.2" y="313.7" width="7" height="10.5" fill="#ff8c00"/>
<rect x="581.2" y="313.7" width="1" height="10.5" fill="#f39524"/>
<rect x="582.2" y="313.7" width="1" height="10.5" fill="#f79218"/>
<rect x="583.2" y="313.7" width="1" height="10.5" fill="#ff8c00"/>
<rect x="584.2" y="313.7" width="1" height="10.5" fill="#dea55f"/>
<rect x="585.2" y="313.7" width="2" height="10.5" fill="#ff8c00"/>
<rect x="587.2" y="313.7" width="1" height="10.5" fill="#dea55f"/>
<rect x="588.2" y="313.7" width="1" height="10.5" fill="#ff8c00"/>
<rect x="589.2" y="313.7" width="2" height="10.5" fill="#f79218"/>
<rect x="591.2" y="313.7" width="2" height="10.5" fill="#ff8c00"/>
<rect x="593.2" y="313.7" width="1" height="10.5" fill="#e3a253"/>
<rect x="594.2" y="313.7" width="1" height="10.5" fill="#f79218"/>
<rect x="595.2" y="313.7" width="1" height="10.5" fill="#e79f47"/>
<rect x="596.2" y="313.7" width="1" height="10.5" fill="#ceb28e"/>
<rect x="597.2" y="313.7" width="1" height="10.5" fill="#c2bbb2"/>
<rect x="598.2" y="313.7" width="1" height="10.5" fill="#eb9c3b"/>
<rect x="599.2" y="313.7" width="1" height="10.5" fill="#d2ae83"/>
<rect x="600.2" y="313.7" width="1" height="10.5" fill="#ceb28e"/>
<rect x="601.2" y="313.7" width="1" height="10.5" fill="#c2bbb2"/>
<rect x="602.2" y="313.7" width="1" height="10.5" fill="#d2ae83"/>
<rect x="603.2" y="313.7" width="1" height="10.5" fill="#ceb28e"/>
<rect x="604.2" y="313.7" width="2" height="10.5" fill="#bebebe"/>
<rect x="606.2" y="313.7" width="1" height="10.5" fill="#c2bbb2"/>
<rect x="607.2" y="313.7" width="1" height="10.5" fill="#dea55f"/>
<rect x="608.2" y="313.7" width="1" height="10.5" fill="#bebebe"/>
<rect x="609.2" y="313.7" width="1" height="10.5" fill="#c6b8a6"/>
<rect x="610.2" y="313.7" width="2" height="10.5" fill="#c2bbb2"/>
<rect x="612.2" y="313.7" width="1" height="10.5" fill="#bebebe"/>
<rect x="613.2" y="313.7" width="4" height="10.5" fill="#c2bbb2"/>
<rect x="617.2" y="313.7" width="1" height="10.5" fill="#c6b8a6"/>
<rect x="618.2" y="313.7" width="1" height="10.5" fill="#bebebe"/>
<rect x="619.2" y="313.7" width="7" height="10.5" fill="#c2bbb2"/>
<rect x="626.2" y="313.7" width="2" height="10.5" fill="#bebebe"/>
<rect x="628.2" y="313.7" width="1" height="10.5" fill="#c2bbb2"/>
<rect x="629.2" y="313.7" width="2" height="10.5" fill="#f79218"/>
<rect x="631.2" y="313.7" width="3" height="10.5" fill="#c2bbb2"/>
<rect x="634.2" y="313.7" width="0.3" height="10.5" fill="#bebebe"/>
<rect x="460.2" y="323.4" width="72" height="10.5" fill="#ff8c00"/>
<rect x="532.2" y="323.4" width="1" height="10.5" fill="#f79218"/>
<rect x="533.2" y="323.4" width="3" height="10.5" fill="#ff8c00"/>
<rect x="536.2" y="323.4" width="1" height="10.5" fill="#fb8f0c"/>
<rect x="537.2" y="323.4" width="1" height="10.5" fill="#ff8c00"/>
<rect x="538.2" y="323.4" width="1" height="10.5" fill="#f79218"/>
<rect x="539.2" y="323.4" width="19" height="10.5" fill="#ff8c00"/>
<rect x="558.2" y="323.4" width="1" height="10.5" fill="#f79218"/>
<rect x="559.2" y="323.4" width="7" height="10.5" fill="#ff8c00"/>
<rect x="566.2" y="323.4" width="1" height="10.5" fill="#fb8f0c"/>
<rect x="567.2" y="323.4" width="1" height="10.5" fill="#ff8c00"/>
<rect x="568.2" y="323.4" width="1" height="10.5" fill="#d2ae83"/>
<rect x="569.2" y="323.4" width="1" height="10.5" fill="#ff8c00"/>
<rect x="570.2" y="323.4" width="2" height="10.5" fill="#f39524"/>
<rect x="572.2" y="323.4" width="4" height="10.5" fill="#ff8c00"/>
<rect x="576.2" y="323.4" width="1" height="10.5" fill="#f79218"/>
<rect x="577.2" y="323.4" width="1" height="10.5" fill="#f39524"/>
<rect x="578.2" y="323.4" width="3" height="10.5" fill="#ff8c00"/>
<rect x="581.2" y="323.4" width="1" height="10.5" fill="#e3a253"/>
<rect x="582.2" y="323.4" width="4" height="10.5" fill="#ff8c00"/>
<rect x="586.2" y="323.4" width="1" height="10.5" fill="#ef9830"/>
<rect x="587.2" y="323.4" width="3" height="10.5" fill="#ff8c00"/>
<rect x="590.2" y="323.4" width="1" height="10.5" fill="#dea55f"/>
<rect x="591.2" y="323.4" width="1" height="10.5" fill="#daa86b"/>
<rect x="592.2" y="323.4" width="1" height="10.5" fill="#ff8c00"/>
<rect x="593.2" y="323.4" width="1" height="10.5" fill="#cab59a"/>
<rect x="594.2" y="323.4" width="1" height="10.5" fill="#d6ab77"/>
<rect x="595.2" y="323.4" width="1" height="10.5" fill="#ff8c00"/>
<rect x="596.2" y="323.4" width="1" height="10.5" fill="#fb8f0c"/>
<rect x="597.2" y="323.4" width="1" height="10.5" fill="#ceb28e"/>
<rect x="598.2" y="323.4" width="1" height="10.5" fill="#d2ae83"/>
<rect x="599.2" y="323.4" width="1" height="10.5" fill="#ef9830"/>
<rect x="600.2" y="323.4" width="1" height="10.5" fill="#ceb28e"/>
<rect x="601.2" y="323.4" width="3" height="10.5" fill="#cab59a"/>
<rect x="604.2" y="323.4" width="1" height="10.5" fill="#f39524"/>
<rect x="605.2" y="323.4" width="1" height="10.5" fill="#cab59a"/>
<rect x="606.2" y="323.4" width="2" height="10.5" fill="#c2bbb2"/>
<rect x="608.2" y="323.4" width="1" height="10.5" fill="#bebebe"/>
<rect x="609.2" y="323.4" width="2" height="10.5" fill="#c2bbb2"/>
<rect x="611.2" y="323.4" width="1" height="10.5" fill="#bebebe"/>
<rect x="612.2" y="323.4" width="1" height="10.5" fill="#e3a253"/>
<rect x="613.2" y="323.4" width="1" height="10.5" fill="#c2bbb2"/>
<rect x="614.2" y="323.4" width="1" height="10.5" fill="#bebebe"/>
<rect x="615.2" y="323.4" width="1" height="10.5" fill="#c2bbb2"/>
<rect x="616.2" y="323.4" width="1" height="10.5" fill="#bebebe"/>
<rect x="617.2" y="323.4" width="1" height="10.5" fill="#c2bbb2"/>
<rect x="618.2" y="323.4" width="2" height="10.5" fill="#bebebe"/>
<rect x="620.2" y="323.4" width="2" height="10.5" fill="#c2bbb2"/>
<rect x="622.2" y="323.4" width="2" height="10.5" fill="#bebebe"/>
<rect x="624.2" y="323.4" width="2" height="10.5" fill="#c2bbb2"/>
<rect x="626.2" y="323.4" width="3" height="10.5" fill="#bebebe"/>
<rect x="629.2" y="323.4" width="1" height="10.5" fill="#c2bbb2"/>
<rect x="630.2" y="323.4" width="2" height="10.5" fill="#f79218"/>
<rect x="632.2" y="323.4" width="1" height="10.5" fill="#c2bbb2"/>
<rect x="633.2" y="323.4" width="1.3" height="10.5" fill="#bebebe"/>
<rect x="460.2" y="333.1" width="84" height="10.5" fill="#ff8c00"/>
<rect x="544.2" y="333.1" width="2" height="10.5" fill="#f79218"/>
<rect x="546.2" y="333.1" width="2" height="10.5" fill="#ff8c00"/>
<rect x="548.2" y="333.1" width="1" height="10.5" fill="#f79218"/>
<rect x="549.2" y="333.1" width="13" height="10.5" fill="#ff8c00"/>
<rect x="562.2" y="333.1" width="1" height="10.5" fill="#d2ae83"/>
<rect x="563.2" y="333.1" width="2" height="10.5" fill="#ff8c00"/>
<rect x="565.2" y="333.1" width="1" height="10.5" fill="#eb9c3b"/>
<rect x="566.2" y="333.1" width="1" height="10.5" fill="#f79218"/>
<rect x="567.2" y="333.1" width="8" height="10.5" fill="#ff8c00"/>
<rect x="575.2" y="333.1" width="1" height="10.5" fill="#e79f47"/>
<rect x="576.2" y="333.1" width="1" height="10.5" fill="#eb9c3b"/>
<rect x="577.2" y="333.1" width="1" height="10.5" fill="#d6ab77"/>
<rect x="578.2" y="333.1" width="1" height="10.5" fill="#e79f47"/>
<rect x="579.2" y="333.1" width="5" height="10.5" fill="#ff8c00"/>
<rect x="584.2" y="333.1" width="1" height="10.5" fill="#dea55f"/>
<rect x="585.2" y="333.1" width="1" height="10.5" fill="#daa86b"/>
<rect x="586.2" y="333.1" width="1" height="10.5" fill="#d2ae83"/>
<rect x="587.2" y="333.1" width="1" height="10.5" fill="#f79218"/>
<rect x="588.2" y="333.1" width="2" height="10.5" fill="#ff8c00"/>
<rect x="590.2" y="333.1" width="1" height="10.5" fill="#d2ae83"/>
<rect x="591.2" y="333.1" width="2" height="10.5" fill="#ff8c00"/>
<rect x="593.2" y="333.1" width="1" height="10.5" fill="#e79f47"/>
<rect x="594.2" y="333.1" width="1" height="10.5" fill="#bebebe"/>
<rect x="595.2" y="333.1" width="1" height="10.5" fill="#e79f47"/>
<rect x="596.2" y="333.1" width="1" height="10.5" fill="#ff8c00"/>
<rect x="597.2" y="333.1" width="1" height="10.5" fill="#cab59a"/>
<rect x="598.2" y="333.1" width="1" height="10.5" fill="#c6b8a6"/>
<rect x="599.2" y="333.1" width="1" height="10.5" fill="#d6ab77"/>
<rect x="600.2" y="333.1" width="1" height="10.5" fill="#daa86b"/>
<rect x="601.2" y="333.1" width="1" height="10.5" fill="#e3a253"/>
<rect x="602.2" y="333.1" width="1" height="10.5" fill="#d2ae83"/>
<rect x="603.2" y="333.1" width="1" height="10.5" fill="#cab59a"/>
<rect x="604.2" y="333.1" width="1" height="10.5" fill="#eb9c3b"/>
<rect x="605.2" y="333.1" width="1" height="10.5" fill="#c6b8a6"/>
<rect x="606.2" y="333.1" width="1" height="10.5" fill="#bebebe"/>
<rect x="607.2" y="333.1" width="1" height="10.5" fill="#c2bbb2"/>
<rect x="608.2" y="333.1" width="1" height="10.5" fill="#bebebe"/>
<rect x="609.2" y="333.1" width="2" height="10.5" fill="#c6b8a6"/>
<rect x="611.2" y="333.1" width="2" height="10.5" fill="#c2bbb2"/>
<rect x="613.2" y="333.1" width="1" height="10.5" fill="#c6b8a6"/>
<rect x="614.2" y="333.1" width="2" height="10.5" fill="#c2bbb2"/>
<rect x="616.2" y="333.1" width="1" height="10.5" fill="#c6b8a6"/>
<rect x="617.2" y="333.1" width="1" height="10.5" fill="#bebebe"/>
<rect x="618.2" y="333.1" width="1" height="10.5" fill="#c6b8a6"/>
<rect x="619.2" y="333.1" width="1" height="10.5" fill="#c2bbb2"/>
<rect x="620.2" y="333.1" width="2" height="10.5" fill="#bebebe"/>
<rect x="622.2" y="333.1" width="4" height="10.5" fill="#c2bbb2"/>
<rect x="626.2" y="333.1" width="1" height="10.5" fill="#ef9830"/>
<rect x="627.2" y="333.1" width="1" height="10.5" fill="#c2bbb2"/>
<rect x="628.2" y="333.1" width="1" height="10.5" fill="#bebebe"/>
<rect x="629.2" y="333.1" width="1" height="10.5" fill="#c2bbb2"/>
<rect x="630.2" y="333.1" width="2" height="10.5" fill="#dea55f"/>
<rect x="632.2" y="333.1" width="1" height="10.5" fill="#bebebe"/>
<rect x="633.2" y="333.1" width="1.3" height="10.5" fill="#c2bbb2"/>
<rect x="460.2" y="342.8" width="72" height="10.5" fill="#ff8c00"/>
<rect x="532.2" y="342.8" width="1" height="10.5" fill="#d2ae83"/>
<rect x="533.2" y="342.8" width="5" height="10.5" fill="#ff8c00"/>
<rect x="538.2" y="342.8" width="1" height="10.5" fill="#fb8f0c"/>
<rect x="539.2" y="342.8" width="3" height="10.5" fill="#ff8c00"/>
<rect x="542.2" y="342.8" width="1" height="10.5" fill="#e79f47"/>
<rect x="543.2" y="342.8" width="1" height="10.5" fill="#e3a253"/>
<rect x="544.2" y="342.8" width="1" height="10.5" fill="#cab59a"/>
<rect x="545.2" y="342.8" width="1" height="10.5" fill="#e79f47"/>
<rect x="546.2" y="342.8" width="2" height="10.5" fill="#ff8c00"/>
<rect x="548.2" y="342.8" width="1" height="10.5" fill="#e79f47"/>
<rect x="549.2" y="342.8" width="1" height="10.5" fill="#ef9830"/>
<rect x="550.2" y="342.8" width="1" height="10.5" fill="#dea55f"/>
<rect x="551.2" y="342.8" width="1" height="10.5" fill="#ff8c00"/>
<rect x="552.2" y="342.8" width="1" height="10.5" fill="#daa86b"/>
<rect x="553.2" y="342.8" width="1" height="10.5" fill="#ff8c00"/>
<rect x="554.2" y="342.8" width="1" height="10.5" fill="#daa86b"/>
<rect x="555.2" y="342.8" width="1" height="10.5" fill="#ff8c00"/>
<rect x="556.2" y="342.8" width="1" height="10.5" fill="#eb9c3b"/>
<rect x="557.2" y="342.8" width="1" height="10.5" fill="#d6ab77"/>
<rect x="558.2" y="342.8" width="1" height="10.5" fill="#ff8c00"/>
<rect x="559.2" y="342.8" width="1" height="10.5" fill="#eb9c3b"/>
<rect x="560.2" y="342.8" width="1" height="10.5" fill="#f79218"/>
<rect x="561.2" y="342.8" width="1" height="10.5" fill="#f39524"/>
<rect x="562.2" y="342.8" width="1" height="10.5" fill="#ff8c00"/>
<rect x="563.2" y="342.8" width="1" height="10.5" fill="#eb9c3b"/>
<rect x="564.2" y="342.8" width="2" height="10.5" fill="#ff8c00"/>
<rect x="566.2" y="342.8" width="1" height="10.5" fill="#fb8f0c"/>
<rect x="567.2" y="342.8" width="3" height="10.5" fill="#ff8c00"/>
<rect x="570.2" y="342.8" width="1" height="10.5" fill="#eb9c3b"/>
<rect x="571.2" y="342.8" width="3" height="10.5" fill="#ff8c00"/>
<rect x="574.2" y="342.8" width="1" height="10.5" fill="#dea55f"/>
<rect x="575.2" y="342.8" width="1" height="10.5" fill="#fb8f0c"/>
<rect x="576.2" y="342.8" width="1" height="10.5" fill="#dea55f"/>
<rect x="577.2" y="342.8" width="1" height="10.5" fill="#e3a253"/>
<rect x="578.2" y="342.8" width="1" height="10.5" fill="#f39524"/>
<rect x="579.2" y="342.8" width="1" height="10.5" fill="#daa86b"/>
<rect x="580.2" y="342.8" width="1" height="10.5" fill="#dea55f"/>
<rect x="581.2" y="342.8" width="1" height="10.5" fill="#d6ab77"/>
<rect x="582.2" y="342.8" width="1" height="10.5" fill="#ef9830"/>
<rect x="583.2" y="342.8" width="1" height="10.5" fill="#f39524"/>
<rect x="584.2" y="342.8" width="1" height="10.5" fill="#daa86b"/>
<rect x="585.2" y="342.8" width="1" height="10.5" fill="#dea55f"/>
<rect x="586.2" y="342.8" width="1" height="10.5" fill="#e79f47"/>
<rect x="587.2" y="342.8" width="1" height="10.5" fill="#ff8c00"/>
<rect x="588.2" y="342.8" width="1" height="10.5" fill="#cab59a"/>
<rect x="589.2" y="342.8" width="1" height="10.5" fill="#f79218"/>
<rect x="590.2" y="342.8" width="1" height="10.5" fill="#e3a253"/>
<rect x="591.2" y="342.8" width="1" height="10.5" fill="#ceb28e"/>
<rect x="592.2" y="342.8" width="1" height="10.5" fill="#dea55f"/>
<rect x="593.2" y="342.8" width="1" height="10.5" fill="#d2ae83"/>
<rect x="594.2" y="342.8" width="2" height="10.5" fill="#ceb28e"/>
<rect x="596.2" y="342.8" width="1" height="10.5" fill="#ff8c00"/>
<rect x="597.2" y="342.8" width="1" height="10.5" fill="#cab59a"/>
<rect x="598.2" y="342.8" width="1" height="10.5" fill="#dea55f"/>
<rect x="599.2" y="342.8" width="1" height="10.5" fill="#daa86b"/>
<rect x="600.2" y="342.8" width="1" height="10.5" fill="#ceb28e"/>
<rect x="601.2" y="342.8" width="1" height="10.5" fill="#cab59a"/>
<rect x="602.2" y="342.8" width="1" height="10.5" fill="#ceb28e"/>
<rect x="603.2" y="342.8" width="1" height="10.5" fill="#c2bbb2"/>
<rect x="604.2" y="342.8" width="1" height="10.5" fill="#cab59a"/>
<rect x="605.2" y="342.8" width="2" height="10.5" fill="#c2bbb2"/>
<rect x="607.2" y="342.8" width="1" height="10.5" fill="#c6b8a6"/>
<rect x="608.2" y="342.8" width="1" height="10.5" fill="#c2bbb2"/>
<rect x="609.2" y="342.8" width="2" height="10.5" fill="#bebebe"/>
<rect x="611.2" y="342.8" width="4" height="10.5" fill="#c2bbb2"/>
<rect x="615.2" y="342.8" width="1" height="10.5" fill="#bebebe"/>
<rect x="616.2" y="342.8" width="3" height="10.5" fill="#c2bbb2"/>
<rect x="619.2" y="342.8" width="2" height="10.5" fill="#bebebe"/>
<rect x="621.2" y="342.8" width="4" height="10.5" fill="#c2bbb2"/>
<rect x="625.2" y="342.8" width="5" height="10.5" fill="#bebebe"/>
<rect x="630.2" y="342.8" width="1" height="10.5" fill="#c2bbb2"/>
<rect x="631.2" y="342.8" width="2" height="10.5" fill="#dea55f"/>
<rect x="633.2" y="342.8" width="1.3" height="10.5" fill="#c2bbb2"/>
<rect x="460.2" y="352.5" width="76" height="10.5" fill="#ff8c00"/>
<rect x="536.2" y="352.5" width="1" height="10.5" fill="#ceb28e"/>
<rect x="537.2" y="352.5" width="1" height="10.5" fill="#ff8c00"/>
<rect x="538.2" y="352.5" width="1" height="10.5" fill="#f39524"/>
<rect x="539.2" y="352.5" width="32" height="10.5" fill="#ff8c00"/>
<rect x="571.2" y="352.5" width="1" height="10.5" fill="#f79218"/>
<rect x="572.2" y="352.5" width="1" height="10.5" fill="#ff8c00"/>
<rect x="573.2" y="352.5" width="1" height="10.5" fill="#f79218"/>
<rect x="574.2" y="352.5" width="2" height="10.5" fill="#ff8c00"/>
<rect x="576.2" y="352.5" width="1" height="10.5" fill="#fb8f0c"/>
<rect x="577.2" y="352.5" width="2" height="10.5" fill="#ff8c00"/>
<rect x="579.2" y="352.5" width="1" height="10.5" fill="#daa86b"/>
<rect x="580.2" y="352.5" width="1" height="10.5" fill="#f79218"/>
<rect x="581.2" y="352.5" width="1" height="10.5" fill="#f39524"/>
<rect x="582.2" y="352.5" width="1" height="10.5" fill="#dea55f"/>
<rect x="583.2" y="352.5" width="1" height="10.5" fill="#d6ab77"/>
<rect x="584.2" y="352.5" width="1" height="10.5" fill="#fb8f0c"/>
<rect x="585.2" y="352.5" width="1" height="10.5" fill="#eb9c3b"/>
<rect x="586.2" y="352.5" width="1" height="10.5" fill="#e79f47"/>
<rect x="587.2" y="352.5" width="2" height="10.5" fill="#ff8c00"/>
<rect x="589.2" y="352.5" width="1" height="10.5" fill="#d2ae83"/>
<rect x="590.2" y="352.5" width="1" height="10.5" fill="#f79218"/>
<rect x="591.2" y="352.5" width="2" height="10.5" fill="#e3a253"/>
<rect x="593.2" y="352.5" width="2" height="10.5" fill="#ff8c00"/>
<rect x="595.2" y="352.5" width="1" height="10.5" fill="#c6b8a6"/>
<rect x="596.2" y="352.5" width="1" height="10.5" fill="#dea55f"/>
<rect x="597.2" y="352.5" width="1" height="10.5" fill="#e3a253"/>
<rect x="598.2" y="352.5" width="1" height="10.5" fill="#f39524"/>
<rect x="599.2" y="352.5" width="1" height="10.5" fill="#d2ae83"/>
<rect x="600.2" y="352.5" width="1" height="10.5" fill="#c6b8a6"/>
<rect x="601.2" y="352.5" width="1" height="10.5" fill="#cab59a"/>
<rect x="602.2" y="352.5" width="1" height="10.5" fill="#c2bbb2"/>
<rect x="603.2" y="352.5" width="1" height="10.5" fill="#ceb28e"/>
<rect x="604.2" y="352.5" width="1" height="10.5" fill="#c6b8a6"/>
<rect x="605.2" y="352.5" width="2" height="10.5" fill="#f79218"/>
<rect x="607.2" y="352.5" width="1" height="10.5" fill="#bebebe"/>
<rect x="608.2" y="352.5" width="1" height="10.5" fill="#c6b8a6"/>
<rect x="609.2" y="352.5" width="1" height="10.5" fill="#c2bbb2"/>
<rect x="610.2" y="352.5" width="1" height="10.5" fill="#c6b8a6"/>
<rect x="611.2" y="352.5" width="2" height="10.5" fill="#c2bbb2"/>
<rect x="613.2" y="352.5" width="2" height="10.5" fill="#bebebe"/>
<rect x="615.2" y="352.5" width="2" height="10.5" fill="#c2bbb2"/>
<rect x="617.2" y="352.5" width="1" height="10.5" fill="#bebebe"/>
<rect x="618.2" y="352.5" width="1" height="10.5" fill="#c2bbb2"/>
<rect x="619.2" y="352.5" width="1" height="10.5" fill="#bebebe"/>
<rect x="620.2" y="352.5" width="1" height="10.5" fill="#c2bbb2"/>
<rect x="621.2" y="352.5" width="1" height="10.5" fill="#c6b8a6"/>
<rect x="622.2" y="352.5" width="1" height="10.5" fill="#c2bbb2"/>
<rect x="623.2" y="352.5" width="2" height="10.5" fill="#bebebe"/>
<rect x="625.2" y="352.5" width="1" height="10.5" fill="#c6b8a6"/>
<rect x="626.2" y="352.5" width="1" height="10.5" fill="#bebebe"/>
<rect x="627.2" y="352.5" width="4" height="10.5" fill="#c2bbb2"/>
<rect x="631.2" y="352.5" width="2" height="10.5" fill="#dea55f"/>
<rect x="633.2" y="352.5" width="1.3" height="10.5" fill="#c2bbb2"/>
<rect x="460.2" y="362.2" width="77" height="10.5" fill="#ff8c00"/>
<rect x="537.2" y="362.2" width="1" height="10.5" fill="#c2bbb2"/>
<rect x="538.2" y="362.2" width="3" height="10.5" fill="#ff8c00"/>
<rect x="541.2" y="362.2" width="1" height="10.5" fill="#dea55f"/>
<rect x="542.2" y="362.2" width="1" height="10.5" fill="#f39524"/>
<rect x="543.2" y="362.2" width="1" height="10.5" fill="#e79f47"/>
<rect x="544.2" y="362.2" width="4" height="10.5" fill="#ff8c00"/>
<rect x="548.2" y="362.2" width="1" height="10.5" fill="#f79218"/>
<rect x="549.2" y="362.2" width="2" height="10.5" fill="#ff8c00"/>
<rect x="551.2" y="362.2" width="1" height="10.5" fill="#fb8f0c"/>
<rect x="552.2" y="362.2" width="1" height="10.5" fill="#e3a253"/>
<rect x="553.2" y="362.2" width="6" height="10.5" fill="#ff8c00"/>
<rect x="559.2" y="362.2" width="1" height="10.5" fill="#d2ae83"/>
<rect x="560.2" y="362.2" width="3" height="10.5" fill="#ff8c00"/>
<rect x="563.2" y="362.2" width="1" height="10.5" fill="#f79218"/>
<rect x="564.2" y="362.2" width="9" height="10.5" fill="#ff8c00"/>
<rect x="573.2" y="362.2" width="2" height="10.5" fill="#dea55f"/>
<rect x="575.2" y="362.2" width="1" height="10.5" fill="#ff8c00"/>
<rect x="576.2" y="362.2" width="1" height="10.5" fill="#e3a253"/>
<rect x="577.2" y="362.2" width="1" height="10.5" fill="#ff8c00"/>
<rect x="578.2" y="362.2" width="1" height="10.5" fill="#f39524"/>
<rect x="579.2" y="362.2" width="1" height="10.5" fill="#eb9c3b"/>
<rect x="580.2" y="362.2" width="2" height="10.5" fill="#ff8c00"/>
<rect x="582.2" y="362.2" width="1" height="10.5" fill="#f39524"/>
<rect x="583.2" y="362.2" width="1" height="10.5" fill="#ff8c00"/>
<rect x="584.2" y="362.2" width="1" height="10.5" fill="#d2ae83"/>
<rect x="585.2" y="362.2" width="1" height="10.5" fill="#fb8f0c"/>
<rect x="586.2" y="362.2" width="1" height="10.5" fill="#f39524"/>
<rect x="587.2" y="362.2" width="1" height="10.5" fill="#eb9c3b"/>
<rect x="588.2" y="362.2" width="1" height="10.5" fill="#ff8c00"/>
<rect x="589.2" y="362.2" width="1" height="10.5" fill="#e79f47"/>
<rect x="590.2" y="362.2" width="1" height="10.5" fill="#ff8c00"/>
<rect x="591.2" y="362.2" width="1" height="10.5" fill="#dea55f"/>
<rect x="592.2" y="362.2" width="1" height="10.5" fill="#e79f47"/>
<rect x="593.2" y="362.2" width="1" height="10.5" fill="#e3a253"/>
<rect x="594.2" y="362.2" width="1" height="10.5" fill="#cab59a"/>
<rect x="595.2" y="362.2" width="1" height="10.5" fill="#dea55f"/>
<rect x="596.2" y="362.2" width="1" height="10.5" fill="#f79218"/>
<rect x="597.2" y="362.2" width="1" height="10.5" fill="#d6ab77"/>
<rect x="598.2" y="362.2" width="1" height="10.5" fill="#e3a253"/>
<rect x="599.2" y="362.2" width="1" height="10.5" fill="#d6ab77"/>
<rect x="600.2" y="362.2" width="1" height="10.5" fill="#d2ae83"/>
<rect x="601.2" y="362.2" width="2" height="10.5" fill="#cab59a"/>
<rect x="603.2" y="362.2" width="2" height="10.5" fill="#c2bbb2"/>
<rect x="605.2" y="362.2" width="2" height="10.5" fill="#c6b8a6"/>
<rect x="607.2" y="362.2" width="3" height="10.5" fill="#c2bbb2"/>
<rect x="610.2" y="362.2" width="1" height="10.5" fill="#bebebe"/>
<rect x="611.2" y="362.2" width="1" height="10.5" fill="#c6b8a6"/>
<rect x="612.2" y="362.2" width="2" height="10.5" fill="#c2bbb2"/>
<rect x="614.2" y="362.2" width="1" height="10.5" fill="#bebebe"/>
<rect x="615.2" y="362.2" width="3" height="10.5" fill="#c2bbb2"/>
<rect x="618.2" y="362.2" width="1" height="10.5" fill="#c6b8a6"/>
<rect x="619.2" y="362.2" width="4" height="10.5" fill="#c2bbb2"/>
<rect x="623.2" y="362.2" width="3" height="10.5" fill="#bebebe"/>
<rect x="626.2" y="362.2" width="1" height="10.5" fill="#c2bbb2"/>
<rect x="627.2" y="362.2" width="1" height="10.5" fill="#bebebe"/>
<rect x="628.2" y="362.2" width="1" height="10.5" fill="#c2bbb2"/>
<rect x="629.2" y="362.2" width="1" height="10.5" fill="#bebebe"/>
<rect x="630.2" y="362.2" width="1" height="10.5" fill="#c2bbb2"/>
<rect x="631.2" y="362.2" width="2" height="10.5" fill="#dea55f"/>
<rect x="633.2" y="362.2" width="1.3" height="10.5" fill="#bebebe"/>
<rect x="460.2" y="371.9" width="76" height="10.5" fill="#ff8c00"/>
<rect x="536.2" y="371.9" width="1" height="10.5" fill="#f79218"/>
<rect x="537.2" y="371.9" width="1" height="10.5" fill="#f39524"/>
<rect x="538.2" y="371.9" width="12" height="10.5" fill="#ff8c00"/>
<rect x="550.2" y="371.9" width="1" height="10.5" fill="#f79218"/>
<rect x="551.2" y="371.9" width="1" height="10.5" fill="#ff8c00"/>
<rect x="552.2" y="371.9" width="1" height="10.5" fill="#f79218"/>
<rect x="553.2" y="371.9" width="4" height="10.5" fill="#ff8c00"/>
<rect x="557.2" y="371.9" width="1" height="10.5" fill="#f39524"/>
<rect x="558.2" y="371.9" width="1" height="10.5" fill="#d6ab77"/>
<rect x="559.2" y="371.9" width="4" height="10.5" fill="#ff8c00"/>
<rect x="563.2" y="371.9" width="1" height="10.5" fill="#f39524"/>
<rect x="564.2" y="371.9" width="1" height="10.5" fill="#ff8c00"/>
<rect x="565.2" y="371.9" width="1" height="10.5" fill="#fb8f0c"/>
<rect x="566.2" y="371.9" width="1" height="10.5" fill="#ff8c00"/>
<rect x="567.2" y="371.9" width="1" height="10.5" fill="#fb8f0c"/>
<rect x="568.2" y="371.9" width="1" height="10.5" fill="#f79218"/>
<rect x="569.2" y="371.9" width="2" height="10.5" fill="#ff8c00"/>
<rect x="571.2" y="371.9" width="1" height="10.5" fill="#f79218"/>
<rect x="572.2" y="371.9" width="1" height="10.5" fill="#ff8c00"/>
<rect x="573.2" y="371.9" width="1" height="10.5" fill="#daa86b"/>
<rect x="574.2" y="371.9" width="1" height="10.5" fill="#ff8c00"/>
<rect x="575.2" y="371.9" width="1" height="10.5" fill="#ef9830"/>
<rect x="576.2" y="371.9" width="1" height="10.5" fill="#ff8c00"/>
<rect x="577.2" y="371.9" width="1" height="10.5" fill="#fb8f0c"/>
<rect x="578.2" y="371.9" width="3" height="10.5" fill="#ff8c00"/>
<rect x="581.2" y="371.9" width="1" height="10.5" fill="#f79218"/>
<rect x="582.2" y="371.9" width="2" height="10.5" fill="#ff8c00"/>
<rect x="584.2" y="371.9" width="1" height="10.5" fill="#daa86b"/>
<rect x="585.2" y="371.9" width="3" height="10.5" fill="#ff8c00"/>
<rect x="588.2" y="371.9" width="1" height="10.5" fill="#f79218"/>
<rect x="589.2" y="371.9" width="2" height="10.5" fill="#ff8c00"/>
<rect x="591.2" y="371.9" width="1" height="10.5" fill="#daa86b"/>
<rect x="592.2" y="371.9" width="1" height="10.5" fill="#ff8c00"/>
<rect x="593.2" y="371.9" width="1" height="10.5" fill="#cab59a"/>
<rect x="594.2" y="371.9" width="1" height="10.5" fill="#ff8c00"/>
<rect x="595.2" y="371.9" width="1" height="10.5" fill="#d6ab77"/>
<rect x="596.2" y="371.9" width="1" height="10.5" fill="#ff8c00"/>
<rect x="597.2" y="371.9" width="1" height="10.5" fill="#d6ab77"/>
<rect x="598.2" y="371.9" width="1" height="10.5" fill="#e3a253"/>
<rect x="599.2" y="371.9" width="1" height="10.5" fill="#ceb28e"/>
<rect x="600.2" y="371.9" width="1" height="10.5" fill="#eb9c3b"/>
<rect x="601.2" y="371.9" width="1" height="10.5" fill="#d2ae83"/>
<rect x="602.2" y="371.9" width="1" height="10.5" fill="#c6b8a6"/>
<rect x="603.2" y="371.9" width="1" height="10.5" fill="#cab59a"/>
<rect x="604.2" y="371.9" width="1" height="10.5" fill="#c2bbb2"/>
<rect x="605.2" y="371.9" width="1" height="10.5" fill="#c6b8a6"/>
<rect x="606.2" y="371.9" width="6" height="10.5" fill="#c2bbb2"/>
<rect x="612.2" y="371.9" width="1" height="10.5" fill="#bebebe"/>
<rect x="613.2" y="371.9" width="1" height="10.5" fill="#c2bbb2"/>
<rect x="614.2" y="371.9" width="2" height="10.5" fill="#bebebe"/>
<rect x="616.2" y="371.9" width="2" height="10.5" fill="#c2bbb2"/>
<rect x="618.2" y="371.9" width="2" height="10.5" fill="#bebebe"/>
<rect x="620.2" y="371.9" width="3" height="10.5" fill="#c2bbb2"/>
<rect x="623.2" y="371.9" width="1" height="10.5" fill="#ef9830"/>
<rect x="624.2" y="371.9" width="1" height="10.5" fill="#c2bbb2"/>
<rect x="625.2" y="371.9" width="1" height="10.5" fill="#bebebe"/>
<rect x="626.2" y="371.9" width="1" height="10.5" fill="#c2bbb2"/>
<rect x="627.2" y="371.9" width="2" height="10.5" fill="#bebebe"/>
<rect x="629.2" y="371.9" width="1" height="10.5" fill="#c6b8a6"/>
<rect x="630.2" y="371.9" width="2" height="10.5" fill="#c2bbb2"/>
<rect x="632.2" y="371.9" width="1" height="10.5" fill="#dea55f"/>
<rect x="633.2" y="371.9" width="1" height="10.5" fill="#c2bbb2"/>
<rect x="634.2" y="371.9" width="0.3" height="10.5" fill="#bebebe"/>
<rect x="460.2" y="381.6" width="90" height="10.5" fill="#ff8c00"/>
<rect x="550.2" y="381.6" width="1" height="10.5" fill="#f79218"/>
<rect x="551.2" y="381.6" width="4" height="10.5" fill="#ff8c00"/>
<rect x="555.2" y="381.6" width="1" height="10.5" fill="#fb8f0c"/>
<rect x="556.2" y="381.6" width="2" height="10.5" fill="#ff8c00"/>
<rect x="558.2" y="381.6" width="2" height="10.5" fill="#f79218"/>
<rect x="560.2" y="381.6" width="2" height="10.5" fill="#ff8c00"/>
<rect x="562.2" y="381.6" width="1" height="10.5" fill="#f39524"/>
<rect x="563.2" y="381.6" width="1" height="10.5" fill="#d2ae83"/>
<rect x="564.2" y="381.6" width="7" height="10.5" fill="#ff8c00"/>
<rect x="571.2" y="381.6" width="1" height="10.5" fill="#e3a253"/>
<rect x="572.2" y="381.6" width="4" height="10.5" fill="#ff8c00"/>
<rect x="576.2" y="381.6" width="2" height="10.5" fill="#f79218"/>
<rect x="578.2" y="381.6" width="1" height="10.5" fill="#dea55f"/>
<rect x="579.2" y="381.6" width="1" height="10.5" fill="#ff8c00"/>
<rect x="580.2" y="381.6" width="1" height="10.5" fill="#daa86b"/>
<rect x="581.2" y="381.6" width="1" height="10.5" fill="#ff8c00"/>
<rect x="582.2" y="381.6" width="1" height="10.5" fill="#eb9c3b"/>
<rect x="583.2" y="381.6" width="1" height="10.5" fill="#daa86b"/>
<rect x="584.2" y="381.6" width="1" height="10.5" fill="#e79f47"/>
<rect x="585.2" y="381.6" width="1" height="10.5" fill="#e3a253"/>
<rect x="586.2" y="381.6" width="1" height="10.5" fill="#ef9830"/>
<rect x="587.2" y="381.6" width="1" height="10.5" fill="#ff8c00"/>
<rect x="588.2" y="381.6" width="1" height="10.5" fill="#fb8f0c"/>
<rect x="589.2" y="381.6" width="1" height="10.5" fill="#f79218"/>
<rect x="590.2" y="381.6" width="3" height="10.5" fill="#ff8c00"/>
<rect x="593.2" y="381.6" width="1" height="10.5" fill="#eb9c3b"/>
<rect x="594.2" y="381.6" width="1" height="10.5" fill="#d6ab77"/>
<rect x="595.2" y="381.6" width="1" height="10.5" fill="#ceb28e"/>
<rect x="596.2" y="381.6" width="1" height="10.5" fill="#f79218"/>
<rect x="597.2" y="381.6" width="1" height="10.5" fill="#ceb28e"/>
<rect x="598.2" y="381.6" width="1" height="10.5" fill="#daa86b"/>
<rect x="599.2" y="381.6" width="1" height="10.5" fill="#d6ab77"/>
<rect x="600.2" y="381.6" width="1" height="10.5" fill="#daa86b"/>
<rect x="601.2" y="381.6" width="1" height="10.5" fill="#d2ae83"/>
<rect x="602.2" y="381.6" width="1" height="10.5" fill="#ceb28e"/>
<rect x="603.2" y="381.6" width="1" height="10.5" fill="#c6b8a6"/>
<rect x="604.2" y="381.6" width="1" height="10.5" fill="#c2bbb2"/>
<rect x="605.2" y="381.6" width="1" height="10.5" fill="#cab59a"/>
<rect x="606.2" y="381.6" width="1" height="10.5" fill="#c6b8a6"/>
<rect x="607.2" y="381.6" width="1" height="10.5" fill="#f79218"/>
<rect x="608.2" y="381.6" width="1" height="10.5" fill="#c2bbb2"/>
<rect x="609.2" y="381.6" width="1" height="10.5" fill="#bebebe"/>
<rect x="610.2" y="381.6" width="1" height="10.5" fill="#c2bbb2"/>
<rect x="611.2" y="381.6" width="1" height="10.5" fill="#c6b8a6"/>
<rect x="612.2" y="381.6" width="2" height="10.5" fill="#c2bbb2"/>
<rect x="614.2" y="381.6" width="4" height="10.5" fill="#bebebe"/>
<rect x="618.2" y="381.6" width="1" height="10.5" fill="#e3a253"/>
<rect x="619.2" y="381.6" width="1" height="10.5" fill="#bebebe"/>
<rect x="620.2" y="381.6" width="1" height="10.5" fill="#c2bbb2"/>
<rect x="621.2" y="381.6" width="1" height="10.5" fill="#bebebe"/>
<rect x="622.2" y="381.6" width="1" height="10.5" fill="#c2bbb2"/>
<rect x="623.2" y="381.6" width="2" height="10.5" fill="#bebebe"/>
<rect x="625.2" y="381.6" width="3" height="10.5" fill="#c2bbb2"/>
<rect x="628.2" y="381.6" width="2" height="10.5" fill="#bebebe"/>
<rect x="630.2" y="381.6" width="2" height="10.5" fill="#c2bbb2"/>
<rect x="632.2" y="381.6" width="2" height="10.5" fill="#dea55f"/>
<rect x="634.2" y="381.6" width="0.3" height="10.5" fill="#c2bbb2"/>
<rect x="460.2" y="391.3" width="80" height="9.7" fill="#ff8c00"/>
<rect x="540.2" y="391.3" width="1" height="9.7" fill="#e79f47"/>
<rect x="541.2" y="391.3" width="2" height="9.7" fill="#ff8c00"/>
<rect x="543.2" y="391.3" width="1" height="9.7" fill="#dea55f"/>
<rect x="544.2" y="391.3" width="3" height="9.7" fill="#ff8c00"/>
<rect x="547.2" y="391.3" width="1" height="9.7" fill="#d2ae83"/>
<rect x="548.2" y="391.3" width="1" height="9.7" fill="#eb9c3b"/>
<rect x="549.2" y="391.3" width="1" height="9.7" fill="#ff8c00"/>
<rect x="550.2" y="391.3" width="1" height="9.7" fill="#f79218"/>
<rect x="551.2" y="391.3" width="1" height="9.7" fill="#d6ab77"/>
<rect x="552.2" y="391.3" width="1" height="9.7" fill="#fb8f0c"/>
<rect x="553.2" y="391.3" width="1" height="9.7" fill="#ef9830"/>
<rect x="554.2" y="391.3" width="1" height="9.7" fill="#d6ab77"/>
<rect x="555.2" y="391.3" width="3" height="9.7" fill="#ff8c00"/>
<rect x="558.2" y="391.3" width="1" height="9.7" fill="#dea55f"/>
<rect x="559.2" y="391.3" width="2" height="9.7" fill="#ff8c00"/>
<rect x="561.2" y="391.3" width="1" height="9.7" fill="#ef9830"/>
<rect x="562.2" y="391.3" width="1" height="9.7" fill="#f79218"/>
<rect x="563.2" y="391.3" width="1" height="9.7" fill="#daa86b"/>
<rect x="564.2" y="391.3" width="3" height="9.7" fill="#ff8c00"/>
<rect x="567.2" y="391.3" width="1" height="9.7" fill="#e79f47"/>
<rect x="568.2" y="391.3" width="2" height="9.7" fill="#ff8c00"/>
<rect x="570.2" y="391.3" width="2" height="9.7" fill="#eb9c3b"/>
<rect x="572.2" y="391.3" width="1" height="9.7" fill="#ff8c00"/>
<rect x="573.2" y="391.3" width="3" height="9.7" fill="#dea55f"/>
<rect x="576.2" y="391.3" width="1" height="9.7" fill="#e3a253"/>
<rect x="577.2" y="391.3" width="1" height="9.7" fill="#ff8c00"/>
<rect x="578.2" y="391.3" width="1" height="9.7" fill="#ceb28e"/>
<rect x="579.2" y="391.3" width="1" height="9.7" fill="#ff8c00"/>
<rect x="580.2" y="391.3" width="1" height="9.7" fill="#daa86b"/>
<rect x="581.2" y="391.3" width="1" height="9.7" fill="#f39524"/>
<rect x="582.2" y="391.3" width="1" height="9.7" fill="#e3a253"/>
<rect x="583.2" y="391.3" width="2" height="9.7" fill="#daa86b"/>
<rect x="585.2" y="391.3" width="1" height="9.7" fill="#eb9c3b"/>
<rect x="586.2" y="391.3" width="1" height="9.7" fill="#e3a253"/>
<rect x="587.2" y="391.3" width="1" height="9.7" fill="#ff8c00"/>
<rect x="588.2" y="391.3" width="1" height="9.7" fill="#f39524"/>
<rect x="589.2" y="391.3" width="1" height="9.7" fill="#d6ab77"/>
<rect x="590.2" y="391.3" width="1" height="9.7" fill="#ff8c00"/>
<rect x="591.2" y="391.3" width="1" height="9.7" fill="#d2ae83"/>
<rect x="592.2" y="391.3" width="1" height="9.7" fill="#ff8c00"/>
<rect x="593.2" y="391.3" width="1" height="9.7" fill="#d6ab77"/>
<rect x="594.2" y="391.3" width="1" height="9.7" fill="#ff8c00"/>
<rect x="595.2" y="391.3" width="1" height="9.7" fill="#c6b8a6"/>
<rect x="596.2" y="391.3" width="1" height="9.7" fill="#ff8c00"/>
<rect x="597.2" y="391.3" width="1" height="9.7" fill="#ceb28e"/>
<rect x="598.2" y="391.3" width="1" height="9.7" fill="#f39524"/>
<rect x="599.2" y="391.3" width="1" height="9.7" fill="#d2ae83"/>
<rect x="600.2" y="391.3" width="1" height="9.7" fill="#cab59a"/>
<rect x="601.2" y="391.3" width="2" height="9.7" fill="#d2ae83"/>
<rect x="603.2" y="391.3" width="1" height="9.7" fill="#c2bbb2"/>
<rect x="604.2" y="391.3" width="1" height="9.7" fill="#cab59a"/>
<rect x="605.2" y="391.3" width="1" height="9.7" fill="#c2bbb2"/>
<rect x="606.2" y="391.3" width="1" height="9.7" fill="#bebebe"/>
<rect x="607.2" y="391.3" width="2" height="9.7" fill="#c2bbb2"/>
<rect x="609.2" y="391.3" width="1" height="9.7" fill="#c6b8a6"/>
<rect x="610.2" y="391.3" width="4" height="9.7" fill="#c2bbb2"/>
<rect x="614.2" y="391.3" width="1" height="9.7" fill="#bebebe"/>
<rect x="615.2" y="391.3" width="2" height="9.7" fill="#c2bbb2"/>
<rect x="617.2" y="391.3" width="1" height="9.7" fill="#bebebe"/>
<rect x="618.2" y="391.3" width="5" height="9.7" fill="#c2bbb2"/>
<rect x="623.2" y="391.3" width="1" height="9.7" fill="#bebebe"/>
<rect x="624.2" y="391.3" width="4" height="9.7" fill="#c2bbb2"/>
<rect x="628.2" y="391.3" width="1" height="9.7" fill="#bebebe"/>
<rect x="629.2" y="391.3" width="1" height="9.7" fill="#c2bbb2"/>
<rect x="630.2" y="391.3" width="1" height="9.7" fill="#c6b8a6"/>
<rect x="631.2" y="391.3" width="1" height="9.7" fill="#bebebe"/>
<rect x="632.2" y="391.3" width="2" height="9.7" fill="#dea55f"/>
<rect x="634.2" y="391.3" width="0.3" height="9.7" fill="#bebebe"/>
<text x="639.6" y="234.4" font-size="10" font-weight="bold" textLength="24.6" lengthAdjust="spacingAndGlyphs" fill="#231f20">Type</text>
<text x="639.7" y="244.9" font-size="9.65" text-anchor="start" fill="#231f20" >GUIQIE-1</text>
<text x="639.7" y="255.5" font-size="9.65" text-anchor="start" fill="#231f20" >HQ-1315</text>
<text x="639.7" y="265.5" font-size="9.65" text-anchor="start" fill="#231f20" >PI180485</text>
<text x="639.7" y="275.6" font-size="9.65" text-anchor="start" fill="#231f20" >PI196043</text>
<text x="639.7" y="285.9" font-size="9.65" text-anchor="start" fill="#231f20" >PI200854</text>
<text x="639.7" y="294.5" font-size="9.65" text-anchor="start" fill="#231f20" >S001</text>
<text x="639.7" y="304.3" font-size="9.65" text-anchor="start" fill="#231f20" >S027</text>
<text x="639.7" y="313.6" font-size="9.65" text-anchor="start" fill="#231f20" >S054</text>
<text x="639.7" y="323.1" font-size="9.65" text-anchor="start" fill="#231f20" >S057</text>
<text x="639.7" y="332.4" font-size="9.65" text-anchor="start" fill="#231f20" >S076</text>
<text x="639.7" y="342.8" font-size="9.65" text-anchor="start" fill="#231f20" >S092</text>
<text x="639.7" y="352.4" font-size="9.65" text-anchor="start" fill="#231f20" >S098</text>
<text x="639.7" y="361.6" font-size="9.65" text-anchor="start" fill="#231f20" >S126</text>
<text x="639.7" y="371.9" font-size="9.65" text-anchor="start" fill="#231f20" >S181</text>
<text x="639.7" y="381.9" font-size="9.65" text-anchor="start" fill="#231f20" >S184</text>
<text x="639.7" y="390.5" font-size="9.65" text-anchor="start" fill="#231f20" >S185</text>
<text x="639.7" y="400.6" font-size="9.65" text-anchor="start" fill="#231f20" >NO211</text>
<rect x="480.4" y="415.7" width="10.7" height="10" fill="#ff8c00" stroke="none" stroke-width="0" />
<text x="494.7" y="424.6" font-size="10.8" text-anchor="start" fill="#231f20" >Presence</text>
<rect x="559.8" y="415.7" width="10.2" height="10" fill="#bebebe" stroke="none" stroke-width="0" />
<text x="574.1" y="424.6" font-size="10.8" text-anchor="start" fill="#231f20" >Absence</text>
<line x1="47" y1="463.7" x2="47" y2="546.3" stroke="#555" stroke-width="0.9" />
<line x1="45.2" y1="463.7" x2="48.8" y2="463.7" stroke="#444" stroke-width="0.9" />
<line x1="47" y1="611.4" x2="47" y2="629.4" stroke="#555" stroke-width="0.9" />
<line x1="45.2" y1="629.4" x2="48.8" y2="629.4" stroke="#444" stroke-width="0.9" />
<rect x="43.4" y="546.3" width="7.2" height="65.1" fill="#8ab6e6" stroke="#3a3a3a" stroke-width="0.7" />
<line x1="43.4" y1="570.3" x2="50.6" y2="570.3" stroke="#3a3a3a" stroke-width="0.9" />
<text x="47" y="461.8" font-size="7.2" text-anchor="middle" fill="#333" >b</text>
<line x1="56.3" y1="463.7" x2="56.3" y2="544.3" stroke="#555" stroke-width="0.9" />
<line x1="54.5" y1="463.7" x2="58.1" y2="463.7" stroke="#444" stroke-width="0.9" />
<line x1="56.3" y1="611.4" x2="56.3" y2="629.4" stroke="#555" stroke-width="0.9" />
<line x1="54.5" y1="629.4" x2="58.1" y2="629.4" stroke="#444" stroke-width="0.9" />
<rect x="52.9" y="544.3" width="6.8" height="67.1" fill="#db8fe0" stroke="#3a3a3a" stroke-width="0.7" />
<line x1="52.9" y1="568" x2="59.7" y2="568" stroke="#3a3a3a" stroke-width="0.9" />
<text x="56.3" y="461.8" font-size="7.2" text-anchor="middle" fill="#333" >a</text>
<line x1="65.55" y1="463.7" x2="65.55" y2="547" stroke="#555" stroke-width="0.9" />
<line x1="63.75" y1="463.7" x2="67.35" y2="463.7" stroke="#444" stroke-width="0.9" />
<line x1="65.55" y1="612.3" x2="65.55" y2="629.4" stroke="#555" stroke-width="0.9" />
<line x1="63.75" y1="629.4" x2="67.35" y2="629.4" stroke="#444" stroke-width="0.9" />
<rect x="62" y="547" width="7.1" height="65.3" fill="#f0918c" stroke="#3a3a3a" stroke-width="0.7" />
<line x1="62" y1="570.3" x2="69.1" y2="570.3" stroke="#3a3a3a" stroke-width="0.9" />
<text x="65.55" y="461.8" font-size="7.2" text-anchor="middle" fill="#333" >c</text>
<line x1="74.85" y1="463.7" x2="74.85" y2="545.1" stroke="#555" stroke-width="0.9" />
<line x1="73.05" y1="463.7" x2="76.65" y2="463.7" stroke="#444" stroke-width="0.9" />
<line x1="74.85" y1="613.4" x2="74.85" y2="629.4" stroke="#555" stroke-width="0.9" />
<line x1="73.05" y1="629.4" x2="76.65" y2="629.4" stroke="#444" stroke-width="0.9" />
<rect x="71.4" y="545.1" width="6.9" height="68.3" fill="#52b68c" stroke="#3a3a3a" stroke-width="0.7" />
<line x1="71.4" y1="569.1" x2="78.3" y2="569.1" stroke="#3a3a3a" stroke-width="0.9" />
<text x="74.85" y="461.8" font-size="7.2" text-anchor="middle" fill="#333" >b</text>
<line x1="84.15" y1="463.7" x2="84.15" y2="547.7" stroke="#555" stroke-width="0.9" />
<line x1="82.35" y1="463.7" x2="85.95" y2="463.7" stroke="#444" stroke-width="0.9" />
<line x1="84.15" y1="616.3" x2="84.15" y2="629.4" stroke="#555" stroke-width="0.9" />
<line x1="82.35" y1="629.4" x2="85.95" y2="629.4" stroke="#444" stroke-width="0.9" />
<rect x="80.6" y="547.7" width="7.1" height="68.6" fill="#fbb73a" stroke="#3a3a3a" stroke-width="0.7" />
<line x1="80.6" y1="574.9" x2="87.7" y2="574.9" stroke="#3a3a3a" stroke-width="0.9" />
<text x="84.15" y="461.8" font-size="7.2" text-anchor="middle" fill="#333" >d</text>
<line x1="95.85" y1="466.3" x2="95.85" y2="564.3" stroke="#555" stroke-width="0.9" />
<line x1="94.05" y1="466.3" x2="97.65" y2="466.3" stroke="#444" stroke-width="0.9" />
<rect x="92.3" y="564.3" width="7.1" height="65.1" fill="#8ab6e6" stroke="#3a3a3a" stroke-width="0.7" />
<line x1="92.3" y1="613.4" x2="99.4" y2="613.4" stroke="#3a3a3a" stroke-width="0.9" />
<text x="95.85" y="464.4" font-size="7.2" text-anchor="middle" fill="#333" >e</text>
<line x1="105" y1="466.3" x2="105" y2="563.1" stroke="#555" stroke-width="0.9" />
<line x1="103.2" y1="466.3" x2="106.8" y2="466.3" stroke="#444" stroke-width="0.9" />
<rect x="101.4" y="563.1" width="7.2" height="66.3" fill="#db8fe0" stroke="#3a3a3a" stroke-width="0.7" />
<line x1="101.4" y1="614.3" x2="108.6" y2="614.3" stroke="#3a3a3a" stroke-width="0.9" />
<text x="105" y="464.4" font-size="7.2" text-anchor="middle" fill="#333" >e</text>
<line x1="114.45" y1="468.6" x2="114.45" y2="565.1" stroke="#555" stroke-width="0.9" />
<line x1="112.65" y1="468.6" x2="116.25" y2="468.6" stroke="#444" stroke-width="0.9" />
<rect x="110.9" y="565.1" width="7.1" height="64.3" fill="#f0918c" stroke="#3a3a3a" stroke-width="0.7" />
<line x1="110.9" y1="614.3" x2="118" y2="614.3" stroke="#3a3a3a" stroke-width="0.9" />
<text x="114.45" y="466.7" font-size="7.2" text-anchor="middle" fill="#333" >e</text>
<line x1="123.85" y1="464.9" x2="123.85" y2="563.7" stroke="#555" stroke-width="0.9" />
<line x1="122.05" y1="464.9" x2="125.65" y2="464.9" stroke="#444" stroke-width="0.9" />
<rect x="120.3" y="563.7" width="7.1" height="65.7" fill="#52b68c" stroke="#3a3a3a" stroke-width="0.7" />
<line x1="120.3" y1="616.3" x2="127.4" y2="616.3" stroke="#3a3a3a" stroke-width="0.9" />
<text x="123.85" y="463" font-size="7.2" text-anchor="middle" fill="#333" >e</text>
<line x1="133" y1="475.1" x2="133" y2="567.7" stroke="#555" stroke-width="0.9" />
<line x1="131.2" y1="475.1" x2="134.8" y2="475.1" stroke="#444" stroke-width="0.9" />
<rect x="129.4" y="567.7" width="7.2" height="61.7" fill="#fbb73a" stroke="#3a3a3a" stroke-width="0.7" />
<line x1="129.4" y1="618.6" x2="136.6" y2="618.6" stroke="#3a3a3a" stroke-width="0.9" />
<text x="133" y="473.2" font-size="7.2" text-anchor="middle" fill="#333" >f</text>
<line x1="144.4" y1="562.4" x2="144.4" y2="602.7" stroke="#555" stroke-width="0.9" />
<line x1="142.6" y1="562.4" x2="146.2" y2="562.4" stroke="#444" stroke-width="0.9" />
<rect x="140.9" y="602.7" width="7" height="26.7" fill="#8ab6e6" stroke="#3a3a3a" stroke-width="0.7" />
<line x1="140.9" y1="629.4" x2="147.9" y2="629.4" stroke="#3a3a3a" stroke-width="0.9" />
<text x="144.4" y="560.5" font-size="7.2" text-anchor="middle" fill="#333" >g</text>
<line x1="153.75" y1="562.4" x2="153.75" y2="603" stroke="#555" stroke-width="0.9" />
<line x1="151.95" y1="562.4" x2="155.55" y2="562.4" stroke="#444" stroke-width="0.9" />
<rect x="150.1" y="603" width="7.3" height="26.4" fill="#db8fe0" stroke="#3a3a3a" stroke-width="0.7" />
<line x1="150.1" y1="629.4" x2="157.4" y2="629.4" stroke="#3a3a3a" stroke-width="0.9" />
<text x="153.75" y="560.5" font-size="7.2" text-anchor="middle" fill="#333" >g</text>
<line x1="163.1" y1="562.4" x2="163.1" y2="603" stroke="#555" stroke-width="0.9" />
<line x1="161.3" y1="562.4" x2="164.9" y2="562.4" stroke="#444" stroke-width="0.9" />
<rect x="159.4" y="603" width="7.4" height="26.4" fill="#f0918c" stroke="#3a3a3a" stroke-width="0.7" />
<line x1="159.4" y1="629.4" x2="166.8" y2="629.4" stroke="#3a3a3a" stroke-width="0.9" />
<text x="163.1" y="560.5" font-size="7.2" text-anchor="middle" fill="#333" >g</text>
<line x1="172.2" y1="568.9" x2="172.2" y2="605.2" stroke="#555" stroke-width="0.9" />
<line x1="170.4" y1="568.9" x2="174" y2="568.9" stroke="#444" stroke-width="0.9" />
<rect x="168.5" y="605.2" width="7.4" height="24.2" fill="#52b68c" stroke="#3a3a3a" stroke-width="0.7" />
<line x1="168.5" y1="629.4" x2="175.9" y2="629.4" stroke="#3a3a3a" stroke-width="0.9" />
<text x="172.2" y="567" font-size="7.2" text-anchor="middle" fill="#333" >g</text>
<line x1="181.95" y1="571.5" x2="181.95" y2="606.2" stroke="#555" stroke-width="0.9" />
<line x1="180.15" y1="571.5" x2="183.75" y2="571.5" stroke="#444" stroke-width="0.9" />
<rect x="178.2" y="606.2" width="7.5" height="23.2" fill="#fbb73a" stroke="#3a3a3a" stroke-width="0.7" />
<line x1="178.2" y1="629.4" x2="185.7" y2="629.4" stroke="#3a3a3a" stroke-width="0.9" />
<text x="181.95" y="569.6" font-size="7.2" text-anchor="middle" fill="#333" >h</text>
<line x1="189.6" y1="629.5" x2="196.6" y2="629.5" stroke="#555" stroke-width="0.8" />
<text x="193.1" y="627.6" font-size="7.0" text-anchor="middle" fill="#333" >i</text>
<line x1="202.7" y1="621.5" x2="202.7" y2="626.2" stroke="#555" stroke-width="0.8" />
<line x1="201.5" y1="621.5" x2="203.9" y2="621.5" stroke="#555" stroke-width="0.8" />
<rect x="199.2" y="626.2" width="7" height="3.2" fill="#db8fe0" stroke="#3a3a3a" stroke-width="0.7" />
<text x="202.7" y="619.4" font-size="7.0" text-anchor="middle" fill="#333" >ghi</text>
<line x1="211.9" y1="618" x2="211.9" y2="624.4" stroke="#555" stroke-width="0.8" />
<line x1="210.7" y1="618" x2="213.1" y2="618" stroke="#555" stroke-width="0.8" />
<rect x="208.3" y="624.4" width="7.2" height="5" fill="#f0918c" stroke="#3a3a3a" stroke-width="0.7" />
<text x="211.9" y="615.8" font-size="7.0" text-anchor="middle" fill="#333" >hi</text>
<line x1="221.2" y1="626.2" x2="221.2" y2="628.4" stroke="#555" stroke-width="0.8" />
<rect x="217.6" y="628.2" width="7.1" height="1.4" fill="#52b68c" stroke="#3a3a3a" stroke-width="0.7" />
<text x="221.2" y="625.6" font-size="7.0" text-anchor="middle" fill="#333" >hi</text>
<line x1="230.4" y1="626.5" x2="230.4" y2="628.6" stroke="#555" stroke-width="0.8" />
<rect x="226.9" y="628.4" width="7.1" height="1.2" fill="#fbb73a" stroke="#3a3a3a" stroke-width="0.7" />
<text x="230.4" y="624.3" font-size="7.0" text-anchor="middle" fill="#333" >i</text>
<line x1="40.4" y1="457" x2="40.4" y2="633.8" stroke="#231f20" stroke-width="1" />
<line x1="39.9" y1="633.3" x2="237" y2="633.3" stroke="#231f20" stroke-width="1" />
<line x1="36.2" y1="629.4" x2="40.4" y2="629.4" stroke="#231f20" stroke-width="1" />
<text x="34.6" y="633.2" font-size="10.6" text-anchor="end" fill="#231f20" >0</text>
<line x1="36.2" y1="601.88" x2="40.4" y2="601.88" stroke="#231f20" stroke-width="1" />
<text x="34.6" y="605.68" font-size="10.6" text-anchor="end" fill="#231f20" >0.5</text>
<line x1="36.2" y1="574.36" x2="40.4" y2="574.36" stroke="#231f20" stroke-width="1" />
<text x="34.6" y="578.16" font-size="10.6" text-anchor="end" fill="#231f20" >1.0</text>
<line x1="36.2" y1="546.84" x2="40.4" y2="546.84" stroke="#231f20" stroke-width="1" />
<text x="34.6" y="550.64" font-size="10.6" text-anchor="end" fill="#231f20" >1.5</text>
<line x1="36.2" y1="519.32" x2="40.4" y2="519.32" stroke="#231f20" stroke-width="1" />
<text x="34.6" y="523.12" font-size="10.6" text-anchor="end" fill="#231f20" >2.0</text>
<line x1="36.2" y1="491.8" x2="40.4" y2="491.8" stroke="#231f20" stroke-width="1" />
<text x="34.6" y="495.6" font-size="10.6" text-anchor="end" fill="#231f20" >2.5</text>
<line x1="36.2" y1="464.28" x2="40.4" y2="464.28" stroke="#231f20" stroke-width="1" />
<text x="34.6" y="468.08" font-size="10.6" text-anchor="end" fill="#231f20" >3.0</text>
<line x1="65.5" y1="633.3" x2="65.5" y2="636.8" stroke="#231f20" stroke-width="1" />
<text transform="translate(68.7,644.3) rotate(-40)" font-size="10.6" text-anchor="end" fill="#231f20">Core</text>
<line x1="114.5" y1="633.3" x2="114.5" y2="636.8" stroke="#231f20" stroke-width="1" />
<text transform="translate(117.7,644.3) rotate(-40)" font-size="10.6" text-anchor="end" fill="#231f20">Softcore</text>
<line x1="163.3" y1="633.3" x2="163.3" y2="636.8" stroke="#231f20" stroke-width="1" />
<text transform="translate(166.5,644.3) rotate(-40)" font-size="10.6" text-anchor="end" fill="#231f20">Dispensable</text>
<line x1="212" y1="633.3" x2="212" y2="636.8" stroke="#231f20" stroke-width="1" />
<text transform="translate(215.2,644.3) rotate(-40)" font-size="10.6" text-anchor="end" fill="#231f20">Private</text>
<text transform="translate(13.6,538.2) rotate(-90)" font-size="11.1" text-anchor="middle" fill="#231f20">log<tspan font-size="7.4" dy="2.5">10</tspan><tspan dy="-2.5">(TPM+1)</tspan></text>
<line x1="188.7" y1="459.6" x2="188.7" y2="471.2" stroke="#777" stroke-width="0.8" />
<rect x="183.4" y="462" width="10.6" height="6.8" fill="#8ab6e6" stroke="#555" stroke-width="0.7" />
<line x1="183.4" y1="465.4" x2="194" y2="465.4" stroke="#555" stroke-width="0.8" />
<text x="198.1" y="469.3" font-size="10.6" text-anchor="start" fill="#231f20" >root</text>
<line x1="188.7" y1="472.32" x2="188.7" y2="483.92" stroke="#777" stroke-width="0.8" />
<rect x="183.4" y="474.72" width="10.6" height="6.8" fill="#db8fe0" stroke="#555" stroke-width="0.7" />
<line x1="183.4" y1="478.12" x2="194" y2="478.12" stroke="#555" stroke-width="0.8" />
<text x="198.1" y="482.02" font-size="10.6" text-anchor="start" fill="#231f20" >stem</text>
<line x1="188.7" y1="485.04" x2="188.7" y2="496.64" stroke="#777" stroke-width="0.8" />
<rect x="183.4" y="487.44" width="10.6" height="6.8" fill="#f0918c" stroke="#555" stroke-width="0.7" />
<line x1="183.4" y1="490.84" x2="194" y2="490.84" stroke="#555" stroke-width="0.8" />
<text x="198.1" y="494.74" font-size="10.6" text-anchor="start" fill="#231f20" >leaf</text>
<line x1="188.7" y1="497.76" x2="188.7" y2="509.36" stroke="#777" stroke-width="0.8" />
<rect x="183.4" y="500.16" width="10.6" height="6.8" fill="#52b68c" stroke="#555" stroke-width="0.7" />
<line x1="183.4" y1="503.56" x2="194" y2="503.56" stroke="#555" stroke-width="0.8" />
<text x="198.1" y="507.46" font-size="10.6" text-anchor="start" fill="#231f20" >flower</text>
<line x1="188.7" y1="510.48" x2="188.7" y2="522.08" stroke="#777" stroke-width="0.8" />
<rect x="183.4" y="512.88" width="10.6" height="6.8" fill="#fbb73a" stroke="#555" stroke-width="0.7" />
<line x1="183.4" y1="516.28" x2="194" y2="516.28" stroke="#555" stroke-width="0.8" />
<text x="199.5" y="520.18" font-size="10.6" text-anchor="start" fill="#231f20" >fruit</text>
<line x1="293.25" y1="463.8" x2="293.25" y2="540.8" stroke="#231f20" stroke-width="1" />
<line x1="290.05" y1="463.8" x2="296.45" y2="463.8" stroke="#231f20" stroke-width="1" />
<line x1="293.25" y1="606.7" x2="293.25" y2="624.5" stroke="#231f20" stroke-width="1" />
<line x1="290.05" y1="624.5" x2="296.45" y2="624.5" stroke="#231f20" stroke-width="1" />
<rect x="284.2" y="540.8" width="18.1" height="65.9" fill="#ff7f00" stroke="#231f20" stroke-width="1" />
<line x1="284.2" y1="577.3" x2="302.3" y2="577.3" stroke="#231f20" stroke-width="1" />
<text x="293.25" y="461.4" font-size="10.6" text-anchor="middle" fill="#231f20" >c</text>
<line x1="317.95" y1="463.8" x2="317.95" y2="529.4" stroke="#231f20" stroke-width="1" />
<line x1="314.75" y1="463.8" x2="321.15" y2="463.8" stroke="#231f20" stroke-width="1" />
<line x1="317.95" y1="590.2" x2="317.95" y2="624.5" stroke="#231f20" stroke-width="1" />
<line x1="314.75" y1="624.5" x2="321.15" y2="624.5" stroke="#231f20" stroke-width="1" />
<rect x="308.7" y="529.4" width="18.5" height="60.8" fill="#3a8fc8" stroke="#231f20" stroke-width="1" />
<line x1="308.7" y1="555.5" x2="327.2" y2="555.5" stroke="#231f20" stroke-width="1" />
<text x="317.95" y="461.4" font-size="10.6" text-anchor="middle" fill="#231f20" >b</text>
<line x1="342.65" y1="463.8" x2="342.65" y2="523.8" stroke="#231f20" stroke-width="1" />
<line x1="339.45" y1="463.8" x2="345.85" y2="463.8" stroke="#231f20" stroke-width="1" />
<line x1="342.65" y1="574.7" x2="342.65" y2="624.5" stroke="#231f20" stroke-width="1" />
<line x1="339.45" y1="624.5" x2="345.85" y2="624.5" stroke="#231f20" stroke-width="1" />
<rect x="333.6" y="523.8" width="18.1" height="50.9" fill="#00a992" stroke="#231f20" stroke-width="1" />
<line x1="333.6" y1="547.2" x2="351.7" y2="547.2" stroke="#231f20" stroke-width="1" />
<text x="342.65" y="461.4" font-size="10.6" text-anchor="middle" fill="#231f20" >a</text>
<line x1="278.9" y1="457" x2="278.9" y2="632.1" stroke="#231f20" stroke-width="1" />
<line x1="278.4" y1="631.6" x2="357" y2="631.6" stroke="#231f20" stroke-width="1" />
<line x1="274.7" y1="624.5" x2="278.9" y2="624.5" stroke="#231f20" stroke-width="1" />
<text x="273.2" y="628.3" font-size="10.6" text-anchor="end" fill="#231f20" >0</text>
<line x1="274.7" y1="599.8" x2="278.9" y2="599.8" stroke="#231f20" stroke-width="1" />
<text x="273.2" y="603.6" font-size="10.6" text-anchor="end" fill="#231f20" >0.2</text>
<line x1="274.7" y1="575.1" x2="278.9" y2="575.1" stroke="#231f20" stroke-width="1" />
<text x="273.2" y="578.9" font-size="10.6" text-anchor="end" fill="#231f20" >0.4</text>
<line x1="274.7" y1="550.4" x2="278.9" y2="550.4" stroke="#231f20" stroke-width="1" />
<text x="273.2" y="554.2" font-size="10.6" text-anchor="end" fill="#231f20" >0.6</text>
<line x1="274.7" y1="525.7" x2="278.9" y2="525.7" stroke="#231f20" stroke-width="1" />
<text x="273.2" y="529.5" font-size="10.6" text-anchor="end" fill="#231f20" >0.8</text>
<line x1="274.7" y1="501" x2="278.9" y2="501" stroke="#231f20" stroke-width="1" />
<text x="273.2" y="504.8" font-size="10.6" text-anchor="end" fill="#231f20" >1.0</text>
<line x1="274.7" y1="476.3" x2="278.9" y2="476.3" stroke="#231f20" stroke-width="1" />
<text x="273.2" y="480.1" font-size="10.6" text-anchor="end" fill="#231f20" >1.2</text>
<line x1="293.2" y1="631.6" x2="293.2" y2="635.1" stroke="#231f20" stroke-width="1" />
<text transform="translate(296.4,642.6) rotate(-40)" font-size="10.6" text-anchor="end" fill="#231f20">Core</text>
<line x1="318" y1="631.6" x2="318" y2="635.1" stroke="#231f20" stroke-width="1" />
<text transform="translate(321.2,642.6) rotate(-40)" font-size="10.6" text-anchor="end" fill="#231f20">Softcore</text>
<line x1="342.6" y1="631.6" x2="342.6" y2="635.1" stroke="#231f20" stroke-width="1" />
<text transform="translate(345.8,642.6) rotate(-40)" font-size="10.6" text-anchor="end" fill="#231f20">Dispensable</text>
<text transform="translate(252.3,538.2) rotate(-90)" font-size="10.6" text-anchor="middle" fill="#231f20">Ka/Ks</text>
<rect x="566.7" y="462.3" width="86.5" height="169.6" fill="white" stroke="none" stroke-width="0" />
<line x1="573.65" y1="462.3" x2="573.65" y2="631.9" stroke="#eeeeee" stroke-width="0.9" />
<line x1="594.75" y1="462.3" x2="594.75" y2="631.9" stroke="#eeeeee" stroke-width="0.9" />
<line x1="615.85" y1="462.3" x2="615.85" y2="631.9" stroke="#eeeeee" stroke-width="0.9" />
<line x1="636.95" y1="462.3" x2="636.95" y2="631.9" stroke="#eeeeee" stroke-width="0.9" />
<line x1="584.2" y1="462.3" x2="584.2" y2="631.9" stroke="#e8e8e8" stroke-width="1.0" />
<line x1="605.3" y1="462.3" x2="605.3" y2="631.9" stroke="#e8e8e8" stroke-width="1.0" />
<line x1="626.4" y1="462.3" x2="626.4" y2="631.9" stroke="#e8e8e8" stroke-width="1.0" />
<line x1="647.5" y1="462.3" x2="647.5" y2="631.9" stroke="#e8e8e8" stroke-width="1.0" />
<line x1="566.7" y1="468" x2="653.2" y2="468" stroke="#e6e6e6" stroke-width="0.9" />
<line x1="566.7" y1="482.45" x2="653.2" y2="482.45" stroke="#e6e6e6" stroke-width="0.9" />
<line x1="566.7" y1="496.9" x2="653.2" y2="496.9" stroke="#e6e6e6" stroke-width="0.9" />
<line x1="566.7" y1="511.35" x2="653.2" y2="511.35" stroke="#e6e6e6" stroke-width="0.9" />
<line x1="566.7" y1="525.8" x2="653.2" y2="525.8" stroke="#e6e6e6" stroke-width="0.9" />
<line x1="566.7" y1="540.25" x2="653.2" y2="540.25" stroke="#e6e6e6" stroke-width="0.9" />
<line x1="566.7" y1="554.7" x2="653.2" y2="554.7" stroke="#e6e6e6" stroke-width="0.9" />
<line x1="566.7" y1="569.15" x2="653.2" y2="569.15" stroke="#e6e6e6" stroke-width="0.9" />
<line x1="566.7" y1="583.6" x2="653.2" y2="583.6" stroke="#e6e6e6" stroke-width="0.9" />
<line x1="566.7" y1="598.05" x2="653.2" y2="598.05" stroke="#e6e6e6" stroke-width="0.9" />
<line x1="566.7" y1="612.5" x2="653.2" y2="612.5" stroke="#e6e6e6" stroke-width="0.9" />
<line x1="566.7" y1="626.95" x2="653.2" y2="626.95" stroke="#e6e6e6" stroke-width="0.9" />
<circle cx="649.2" cy="468" r="2.2" fill="#ff0000" />
<circle cx="570.7" cy="482.45" r="4.2" fill="#ff0000" />
<circle cx="577" cy="496.9" r="4.05" fill="#ff0000" />
<circle cx="648.5" cy="511.35" r="3.3" fill="#ff0000" />
<circle cx="626.3" cy="525.8" r="2.6" fill="#ff0000" />
<circle cx="598.5" cy="540.25" r="3.6" fill="#ff0000" />
<circle cx="619.4" cy="554.7" r="2.4" fill="#ff0000" />
<circle cx="619.4" cy="569.15" r="2.4" fill="#ff0000" />
<circle cx="601.2" cy="583.6" r="2.2" fill="#ff0000" />
<circle cx="595.5" cy="598.05" r="2.3" fill="#ff0000" />
<circle cx="584.4" cy="612.5" r="2.3" fill="#ff0000" />
<circle cx="643.3" cy="626.95" r="1.9" fill="#1a1aff" />
<rect x="566.7" y="462.3" width="86.5" height="169.6" fill="none" stroke="#333" stroke-width="0.9" />
<line x1="562.2" y1="468" x2="566.7" y2="468" stroke="#333" stroke-width="0.9" />
<text x="559.2" y="470.5" font-size="7.25" text-anchor="end" fill="#1a1a1a" >regulation of defense response to virus</text>
<line x1="562.2" y1="482.45" x2="566.7" y2="482.45" stroke="#333" stroke-width="0.9" />
<text x="559.2" y="484.95" font-size="7.25" text-anchor="end" fill="#1a1a1a" >defense response</text>
<line x1="562.2" y1="496.9" x2="566.7" y2="496.9" stroke="#333" stroke-width="0.9" />
<text x="559.2" y="499.4" font-size="7.25" text-anchor="end" fill="#1a1a1a" >defense response to other organism</text>
<line x1="562.2" y1="511.35" x2="566.7" y2="511.35" stroke="#333" stroke-width="0.9" />
<text x="559.2" y="513.85" font-size="7.25" text-anchor="end" fill="#1a1a1a" >symbiont−induced defense−related programmed cell death</text>
<line x1="562.2" y1="525.8" x2="566.7" y2="525.8" stroke="#333" stroke-width="0.9" />
<text x="559.2" y="528.3" font-size="7.25" text-anchor="end" fill="#1a1a1a" >defense response to virus</text>
<line x1="562.2" y1="540.25" x2="566.7" y2="540.25" stroke="#333" stroke-width="0.9" />
<text x="559.2" y="542.75" font-size="7.25" text-anchor="end" fill="#1a1a1a" >defense response to symbiont</text>
<line x1="562.2" y1="554.7" x2="566.7" y2="554.7" stroke="#333" stroke-width="0.9" />
<text x="559.2" y="557.2" font-size="7.25" text-anchor="end" fill="#1a1a1a" >defense response by cell wall thickening</text>
<line x1="562.2" y1="569.15" x2="566.7" y2="569.15" stroke="#333" stroke-width="0.9" />
<text x="559.2" y="571.65" font-size="7.25" text-anchor="end" fill="#1a1a1a" >defense response by callose deposition in cell wall</text>
<line x1="562.2" y1="583.6" x2="566.7" y2="583.6" stroke="#333" stroke-width="0.9" />
<text x="559.2" y="586.1" font-size="7.25" text-anchor="end" fill="#1a1a1a" >symbiont−mediated perturbation of host defense response</text>
<line x1="562.2" y1="598.05" x2="566.7" y2="598.05" stroke="#333" stroke-width="0.9" />
<text x="559.2" y="600.55" font-size="7.25" text-anchor="end" fill="#1a1a1a" >defense response to Gram−negative bacterium</text>
<line x1="562.2" y1="612.5" x2="566.7" y2="612.5" stroke="#333" stroke-width="0.9" />
<text x="559.2" y="615" font-size="7.25" text-anchor="end" fill="#1a1a1a" >defense response by callose deposition</text>
<line x1="562.2" y1="626.95" x2="566.7" y2="626.95" stroke="#333" stroke-width="0.9" />
<text x="559.2" y="629.45" font-size="7.25" text-anchor="end" fill="#1a1a1a" >negative regulation of defense response to virus</text>
<line x1="584.2" y1="631.9" x2="584.2" y2="634.7" stroke="#333" stroke-width="0.9" />
<text x="584.7" y="642.7" font-size="6.5" text-anchor="middle" fill="#333" >1.4</text>
<line x1="605.3" y1="631.9" x2="605.3" y2="634.7" stroke="#333" stroke-width="0.9" />
<text x="605.8" y="642.7" font-size="6.5" text-anchor="middle" fill="#333" >1.6</text>
<line x1="626.4" y1="631.9" x2="626.4" y2="634.7" stroke="#333" stroke-width="0.9" />
<text x="626.9" y="642.7" font-size="6.5" text-anchor="middle" fill="#333" >1.8</text>
<line x1="647.5" y1="631.9" x2="647.5" y2="634.7" stroke="#333" stroke-width="0.9" />
<text x="648" y="642.7" font-size="6.5" text-anchor="middle" fill="#333" >2.0</text>
<text x="614" y="653.9" font-size="9.6" text-anchor="middle" fill="#231f20" >Fold Enrichment</text>
<defs><linearGradient id="cb" x1="0" y1="0" x2="0" y2="1"><stop offset="0" stop-color="#3a1cff"/><stop offset="0.5" stop-color="#b400c8"/><stop offset="1" stop-color="#ff0a2a"/></linearGradient></defs>
<rect x="658.4" y="495.1" width="10.1" height="51.3" fill="url(#cb)" stroke="none" stroke-width="0" />
<line x1="658.8" y1="504.6" x2="660.8" y2="504.6" stroke="white" stroke-width="0.8" />
<line x1="666.1" y1="504.6" x2="668.1" y2="504.6" stroke="white" stroke-width="0.8" />
<text x="671.9" y="506.7" font-size="5.9" text-anchor="start" fill="#1a1a1a" >0.04</text>
<line x1="658.8" y1="514.9" x2="660.8" y2="514.9" stroke="white" stroke-width="0.8" />
<line x1="666.1" y1="514.9" x2="668.1" y2="514.9" stroke="white" stroke-width="0.8" />
<text x="671.9" y="517" font-size="5.9" text-anchor="start" fill="#1a1a1a" >0.03</text>
<line x1="658.8" y1="525.2" x2="660.8" y2="525.2" stroke="white" stroke-width="0.8" />
<line x1="666.1" y1="525.2" x2="668.1" y2="525.2" stroke="white" stroke-width="0.8" />
<text x="671.9" y="527.3" font-size="5.9" text-anchor="start" fill="#1a1a1a" >0.02</text>
<line x1="658.8" y1="535.5" x2="660.8" y2="535.5" stroke="white" stroke-width="0.8" />
<line x1="666.1" y1="535.5" x2="668.1" y2="535.5" stroke="white" stroke-width="0.8" />
<text x="671.9" y="537.6" font-size="5.9" text-anchor="start" fill="#1a1a1a" >0.01</text>
<text x="658.0" y="490.1" font-size="7.1" fill="#1a1a1a"><tspan font-style="italic">p</tspan>-value</text>
<text x="658.2" y="565.4" font-size="7.0" text-anchor="start" fill="#1a1a1a" >count</text>
<circle cx="663.3" cy="574.8" r="2.8" fill="#111" />
<text x="671.9" y="576.9" font-size="5.9" text-anchor="start" fill="#1a1a1a" >2000</text>
<circle cx="663.3" cy="585.2" r="3.25" fill="#111" />
<text x="671.9" y="587.3" font-size="5.9" text-anchor="start" fill="#1a1a1a" >4000</text>
<circle cx="663.3" cy="595.7" r="3.65" fill="#111" />
<text x="671.9" y="597.8" font-size="5.9" text-anchor="start" fill="#1a1a1a" >6000</text>
<circle cx="663.3" cy="605.8" r="4.05" fill="#111" />
<text x="671.9" y="607.9" font-size="5.9" text-anchor="start" fill="#1a1a1a" >8000</text>
<text x="0" y="14.6" font-size="19.3" text-anchor="start" fill="#231f20" style="stroke-width:0">a</text>
<text x="435.4" y="14.2" font-size="19.3" text-anchor="start" fill="#231f20" style="stroke-width:0">b</text>
<text x="0.1" y="215.9" font-size="19.3" text-anchor="start" fill="#231f20" style="stroke-width:0">c</text>
<text x="217.2" y="215.9" font-size="19.3" text-anchor="start" fill="#231f20" style="stroke-width:0">d</text>
<text x="446.4" y="215.9" font-size="19.3" text-anchor="start" fill="#231f20" style="stroke-width:0">e</text>
<text x="-0.6" y="447.3" font-size="19.3" text-anchor="start" fill="#231f20" style="stroke-width:0">f</text>
<text x="235" y="444.2" font-size="19.3" text-anchor="start" fill="#231f20" style="stroke-width:0">g</text>
<text x="371.8" y="447.5" font-size="19.3" text-anchor="start" fill="#231f20" style="stroke-width:0">h</text>
</svg></body></html>
